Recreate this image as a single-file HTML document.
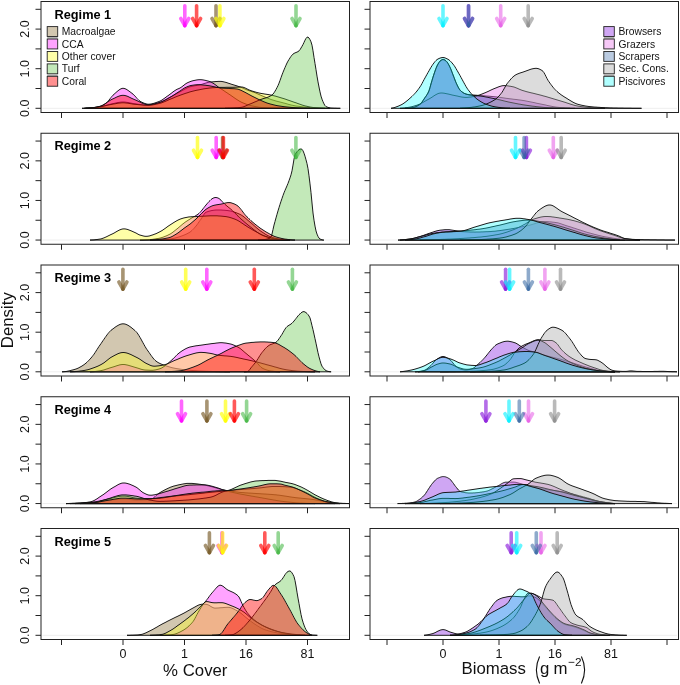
<!DOCTYPE html><html><head><meta charset="utf-8"><style>html,body{margin:0;padding:0;background:#fff;}svg{display:block;}text{font-family:"Liberation Sans",sans-serif;}svg{will-change:transform;}</style></head><body>
<svg width="680" height="685" viewBox="0 0 680 685">
<rect width="680" height="685" fill="#fff"/>
<line x1="42.50" y1="108.30" x2="348.00" y2="108.30" stroke="#eeeeee" stroke-width="1"/>
<path d="M84.0,108.3L84.0,108.3 85.0,108.3 86.0,108.3 87.0,108.2 88.0,108.2 89.0,108.1 90.0,108.0 91.0,107.9 92.0,107.8 93.0,107.7 94.0,107.6 95.0,107.5 96.0,107.3 97.0,107.2 98.0,107.1 99.0,106.9 100.0,106.8 101.0,106.6 102.0,106.4 103.0,106.2 104.0,105.9 105.0,105.7 106.0,105.4 107.0,105.1 108.0,104.8 109.0,104.5 110.0,104.3 111.0,104.0 112.0,103.8 113.0,103.6 114.0,103.4 115.0,103.2 116.0,102.9 117.0,102.7 118.0,102.5 119.0,102.4 120.0,102.2 121.0,102.1 122.0,102.0 123.0,102.0 124.0,102.0 125.0,102.1 126.0,102.2 127.0,102.4 128.0,102.5 129.0,102.7 130.0,102.9 131.0,103.1 132.0,103.3 133.0,103.5 134.0,103.7 135.0,103.8 136.0,103.9 137.0,104.1 138.0,104.2 139.0,104.4 140.0,104.5 141.0,104.7 142.0,104.8 143.0,105.0 144.0,105.1 145.0,105.2 146.0,105.2 147.0,105.3 148.0,105.3 149.0,105.3 150.0,105.2 151.0,105.0 152.0,104.8 153.0,104.6 154.0,104.3 155.0,104.0 156.0,103.7 157.0,103.3 158.0,103.0 159.0,102.6 160.0,102.3 161.0,101.9 162.0,101.5 163.0,101.1 164.0,100.6 165.0,100.0 166.0,99.5 167.0,98.9 168.0,98.4 169.0,97.8 170.0,97.3 171.0,96.8 172.0,96.2 173.0,95.7 174.0,95.1 175.0,94.5 176.0,94.0 177.0,93.4 178.0,92.9 179.0,92.3 180.0,91.8 181.0,91.3 182.0,90.7 183.0,90.1 184.0,89.6 185.0,89.0 186.0,88.5 187.0,88.0 188.0,87.5 189.0,87.1 190.0,86.8 191.0,86.5 192.0,86.3 193.0,86.1 194.0,85.9 195.0,85.7 196.0,85.6 197.0,85.4 198.0,85.2 199.0,85.0 200.0,84.8 201.0,84.5 202.0,84.3 203.0,83.9 204.0,83.6 205.0,83.3 206.0,83.0 207.0,82.7 208.0,82.4 209.0,82.2 210.0,82.1 211.0,82.0 212.0,81.9 213.0,81.8 214.0,81.7 215.0,81.6 216.0,81.5 217.0,81.5 218.0,81.4 219.0,81.4 220.0,81.4 221.0,81.4 222.0,81.5 223.0,81.7 224.0,81.9 225.0,82.2 226.0,82.4 227.0,82.7 228.0,83.1 229.0,83.4 230.0,83.7 231.0,84.1 232.0,84.4 233.0,84.7 234.0,85.0 235.0,85.3 236.0,85.6 237.0,85.9 238.0,86.3 239.0,86.6 240.0,86.9 241.0,87.3 242.0,87.7 243.0,88.1 244.0,88.6 245.0,89.0 246.0,89.5 247.0,89.9 248.0,90.3 249.0,90.7 250.0,91.0 251.0,91.3 252.0,91.7 253.0,92.0 254.0,92.3 255.0,92.7 256.0,93.1 257.0,93.6 258.0,94.0 259.0,94.5 260.0,94.9 261.0,95.4 262.0,95.8 263.0,96.2 264.0,96.6 265.0,97.1 266.0,97.5 267.0,97.9 268.0,98.3 269.0,98.7 270.0,99.1 271.0,99.5 272.0,99.8 273.0,100.1 274.0,100.4 275.0,100.7 276.0,101.0 277.0,101.3 278.0,101.5 279.0,101.8 280.0,102.0 281.0,102.3 282.0,102.5 283.0,102.8 284.0,103.1 285.0,103.3 286.0,103.6 287.0,103.9 288.0,104.2 289.0,104.5 290.0,104.7 291.0,105.0 292.0,105.2 293.0,105.4 294.0,105.6 295.0,105.8 296.0,106.0 297.0,106.1 298.0,106.2 299.0,106.4 300.0,106.5 301.0,106.6 302.0,106.8 303.0,106.9 304.0,107.0 305.0,107.1 306.0,107.2 307.0,107.3 308.0,107.3 309.0,107.4 310.0,107.5 311.0,107.6 312.0,107.6 313.0,107.7 314.0,107.8 315.0,107.8 316.0,107.9 317.0,108.0 318.0,108.0 319.0,108.1 320.0,108.1 321.0,108.2 322.0,108.2 323.0,108.2 324.0,108.3 325.0,108.3 325.0,108.3Z" fill="rgba(142,115,58,0.400)" stroke="#111" stroke-width="0.95" stroke-linejoin="round"/>
<path d="M82.0,108.3L82.0,108.3 83.0,108.3 84.0,108.3 85.0,108.3 86.0,108.2 87.0,108.2 88.0,108.2 89.0,108.1 90.0,108.1 91.0,108.0 92.0,107.9 93.0,107.9 94.0,107.8 95.0,107.7 96.0,107.6 97.0,107.4 98.0,107.1 99.0,106.8 100.0,106.4 101.0,106.0 102.0,105.6 103.0,105.1 104.0,104.5 105.0,104.0 106.0,103.3 107.0,102.4 108.0,101.3 109.0,100.1 110.0,98.8 111.0,97.5 112.0,96.3 113.0,95.2 114.0,94.3 115.0,93.4 116.0,92.5 117.0,91.6 118.0,90.8 119.0,90.0 120.0,89.3 121.0,88.8 122.0,88.4 123.0,88.3 124.0,88.4 125.0,88.7 126.0,89.1 127.0,89.7 128.0,90.4 129.0,91.1 130.0,91.8 131.0,92.6 132.0,93.3 133.0,94.1 134.0,95.1 135.0,96.1 136.0,97.2 137.0,98.4 138.0,99.4 139.0,100.4 140.0,101.2 141.0,101.8 142.0,102.3 143.0,102.7 144.0,103.2 145.0,103.5 146.0,103.8 147.0,104.1 148.0,104.2 149.0,104.2 150.0,104.1 151.0,104.0 152.0,103.8 153.0,103.5 154.0,103.3 155.0,102.9 156.0,102.6 157.0,102.2 158.0,101.9 159.0,101.5 160.0,101.1 161.0,100.6 162.0,100.0 163.0,99.3 164.0,98.6 165.0,97.9 166.0,97.1 167.0,96.4 168.0,95.7 169.0,95.0 170.0,94.2 171.0,93.5 172.0,92.7 173.0,91.9 174.0,91.2 175.0,90.5 176.0,89.9 177.0,89.3 178.0,88.9 179.0,88.5 180.0,88.0 181.0,87.4 182.0,86.7 183.0,85.9 184.0,85.1 185.0,84.3 186.0,83.6 187.0,83.0 188.0,82.5 189.0,82.1 190.0,81.7 191.0,81.3 192.0,81.0 193.0,80.7 194.0,80.5 195.0,80.3 196.0,80.1 197.0,79.9 198.0,79.8 199.0,79.7 200.0,79.7 201.0,79.7 202.0,79.8 203.0,79.9 204.0,80.1 205.0,80.3 206.0,80.5 207.0,80.8 208.0,81.0 209.0,81.3 210.0,81.6 211.0,82.0 212.0,82.6 213.0,83.2 214.0,83.8 215.0,84.5 216.0,85.2 217.0,86.0 218.0,86.8 219.0,87.5 220.0,88.1 221.0,88.8 222.0,89.5 223.0,90.1 224.0,90.8 225.0,91.5 226.0,92.2 227.0,92.8 228.0,93.5 229.0,94.2 230.0,94.8 231.0,95.5 232.0,96.2 233.0,96.9 234.0,97.6 235.0,98.3 236.0,99.0 237.0,99.6 238.0,100.3 239.0,100.9 240.0,101.5 241.0,102.0 242.0,102.5 243.0,102.9 244.0,103.3 245.0,103.7 246.0,104.1 247.0,104.5 248.0,104.8 249.0,105.1 250.0,105.4 251.0,105.6 252.0,105.9 253.0,106.1 254.0,106.3 255.0,106.5 256.0,106.7 257.0,106.8 258.0,107.0 259.0,107.2 260.0,107.3 261.0,107.4 262.0,107.6 263.0,107.7 264.0,107.7 265.0,107.8 266.0,107.9 267.0,107.9 268.0,108.0 269.0,108.0 270.0,108.1 271.0,108.1 272.0,108.1 273.0,108.2 274.0,108.2 275.0,108.2 276.0,108.3 277.0,108.3 278.0,108.3 279.0,108.3 280.0,108.3 280.0,108.3Z" fill="rgba(255,25,255,0.400)" stroke="#111" stroke-width="0.95" stroke-linejoin="round"/>
<path d="M86.0,108.3L86.0,108.3 87.0,108.2 88.0,108.2 89.0,108.1 90.0,108.0 91.0,107.9 92.0,107.8 93.0,107.7 94.0,107.6 95.0,107.5 96.0,107.3 97.0,107.2 98.0,107.1 99.0,106.9 100.0,106.8 101.0,106.6 102.0,106.5 103.0,106.3 104.0,106.0 105.0,105.8 106.0,105.6 107.0,105.3 108.0,105.1 109.0,104.9 110.0,104.7 111.0,104.5 112.0,104.3 113.0,104.1 114.0,103.9 115.0,103.8 116.0,103.6 117.0,103.4 118.0,103.2 119.0,103.1 120.0,103.0 121.0,102.9 122.0,102.8 123.0,102.8 124.0,102.8 125.0,102.9 126.0,103.0 127.0,103.1 128.0,103.2 129.0,103.4 130.0,103.6 131.0,103.7 132.0,103.9 133.0,104.1 134.0,104.2 135.0,104.3 136.0,104.4 137.0,104.5 138.0,104.6 139.0,104.7 140.0,104.8 141.0,104.9 142.0,105.0 143.0,105.1 144.0,105.2 145.0,105.2 146.0,105.3 147.0,105.3 148.0,105.3 149.0,105.3 150.0,105.2 151.0,105.1 152.0,105.0 153.0,104.8 154.0,104.7 155.0,104.5 156.0,104.2 157.0,104.0 158.0,103.8 159.0,103.5 160.0,103.3 161.0,103.0 162.0,102.7 163.0,102.3 164.0,101.9 165.0,101.5 166.0,101.1 167.0,100.6 168.0,100.2 169.0,99.7 170.0,99.3 171.0,98.9 172.0,98.5 173.0,98.1 174.0,97.7 175.0,97.2 176.0,96.8 177.0,96.4 178.0,96.0 179.0,95.7 180.0,95.3 181.0,94.9 182.0,94.6 183.0,94.2 184.0,93.9 185.0,93.5 186.0,93.2 187.0,92.9 188.0,92.6 189.0,92.2 190.0,91.9 191.0,91.6 192.0,91.4 193.0,91.1 194.0,90.9 195.0,90.6 196.0,90.4 197.0,90.2 198.0,90.0 199.0,89.8 200.0,89.6 201.0,89.4 202.0,89.2 203.0,89.0 204.0,88.8 205.0,88.7 206.0,88.5 207.0,88.4 208.0,88.3 209.0,88.1 210.0,88.0 211.0,87.9 212.0,87.8 213.0,87.7 214.0,87.7 215.0,87.6 216.0,87.5 217.0,87.5 218.0,87.4 219.0,87.4 220.0,87.4 221.0,87.4 222.0,87.4 223.0,87.4 224.0,87.4 225.0,87.4 226.0,87.3 227.0,87.3 228.0,87.3 229.0,87.3 230.0,87.3 231.0,87.3 232.0,87.3 233.0,87.3 234.0,87.3 235.0,87.2 236.0,87.2 237.0,87.1 238.0,87.1 239.0,87.1 240.0,87.0 241.0,87.0 242.0,87.0 243.0,87.2 244.0,87.5 245.0,87.9 246.0,88.4 247.0,88.9 248.0,89.4 249.0,89.9 250.0,90.3 251.0,90.6 252.0,91.0 253.0,91.3 254.0,91.6 255.0,91.9 256.0,92.2 257.0,92.5 258.0,92.7 259.0,93.0 260.0,93.2 261.0,93.4 262.0,93.6 263.0,93.7 264.0,93.9 265.0,94.1 266.0,94.2 267.0,94.4 268.0,94.5 269.0,94.7 270.0,94.9 271.0,95.1 272.0,95.3 273.0,95.5 274.0,95.8 275.0,96.0 276.0,96.3 277.0,96.6 278.0,96.9 279.0,97.2 280.0,97.5 281.0,97.8 282.0,98.1 283.0,98.4 284.0,98.7 285.0,99.0 286.0,99.4 287.0,99.7 288.0,100.1 289.0,100.4 290.0,100.8 291.0,101.1 292.0,101.5 293.0,101.8 294.0,102.2 295.0,102.5 296.0,102.8 297.0,103.2 298.0,103.6 299.0,103.9 300.0,104.3 301.0,104.6 302.0,105.0 303.0,105.3 304.0,105.6 305.0,105.9 306.0,106.1 307.0,106.3 308.0,106.6 309.0,106.8 310.0,107.0 311.0,107.2 312.0,107.3 313.0,107.5 314.0,107.6 315.0,107.7 316.0,107.8 317.0,107.8 318.0,107.9 319.0,108.0 320.0,108.0 321.0,108.1 322.0,108.1 323.0,108.2 324.0,108.2 325.0,108.2 326.0,108.2 327.0,108.3 328.0,108.3 329.0,108.3 330.0,108.3 330.0,108.3Z" fill="rgba(255,255,38,0.400)" stroke="#111" stroke-width="0.95" stroke-linejoin="round"/>
<path d="M225.0,108.3L225.0,108.3 226.0,108.3 227.0,108.3 228.0,108.2 229.0,108.2 230.0,108.2 231.0,108.1 232.0,108.1 233.0,108.0 234.0,108.0 235.0,107.9 236.0,107.8 237.0,107.8 238.0,107.7 239.0,107.6 240.0,107.5 241.0,107.4 242.0,107.2 243.0,107.0 244.0,106.6 245.0,106.2 246.0,105.8 247.0,105.3 248.0,104.9 249.0,104.4 250.0,104.0 251.0,103.6 252.0,103.2 253.0,102.8 254.0,102.3 255.0,101.9 256.0,101.5 257.0,101.1 258.0,100.6 259.0,100.2 260.0,99.8 261.0,99.4 262.0,99.1 263.0,98.7 264.0,98.4 265.0,98.1 266.0,97.8 267.0,97.5 268.0,97.1 269.0,96.7 270.0,96.2 271.0,95.6 272.0,95.0 273.0,94.1 274.0,92.8 275.0,91.2 276.0,89.5 277.0,87.6 278.0,85.6 279.0,83.2 280.0,80.5 281.0,77.7 282.0,74.9 283.0,72.3 284.0,69.9 285.0,67.5 286.0,65.2 287.0,63.0 288.0,61.1 289.0,59.5 290.0,57.9 291.0,56.4 292.0,55.1 293.0,54.1 294.0,53.4 295.0,52.9 296.0,52.5 297.0,52.1 298.0,51.6 299.0,50.9 300.0,49.7 301.0,48.0 302.0,46.3 303.0,44.5 304.0,42.4 305.0,40.2 306.0,38.4 307.0,37.2 308.0,37.1 309.0,38.0 310.0,39.7 311.0,41.8 312.0,45.2 313.0,50.8 314.0,57.4 315.0,63.5 316.0,69.7 317.0,76.1 318.0,81.9 319.0,87.0 320.0,91.9 321.0,96.1 322.0,99.2 323.0,101.7 324.0,103.9 325.0,105.6 326.0,106.6 327.0,107.0 328.0,107.4 329.0,107.7 330.0,107.9 331.0,108.0 332.0,108.1 333.0,108.1 334.0,108.2 335.0,108.2 336.0,108.2 337.0,108.3 338.0,108.3 339.0,108.3 340.0,108.3 340.3,108.3 340.3,108.3Z" fill="rgba(105,200,80,0.400)" stroke="#111" stroke-width="0.95" stroke-linejoin="round"/>
<path d="M85.0,108.3L85.0,108.3 86.0,108.3 87.0,108.3 88.0,108.2 89.0,108.1 90.0,108.0 91.0,107.9 92.0,107.8 93.0,107.6 94.0,107.5 95.0,107.3 96.0,107.1 97.0,106.9 98.0,106.7 99.0,106.5 100.0,106.3 101.0,106.0 102.0,105.6 103.0,105.1 104.0,104.5 105.0,103.8 106.0,103.1 107.0,102.4 108.0,101.7 109.0,101.0 110.0,100.4 111.0,99.8 112.0,99.3 113.0,98.8 114.0,98.4 115.0,97.9 116.0,97.4 117.0,96.9 118.0,96.5 119.0,96.1 120.0,95.8 121.0,95.5 122.0,95.4 123.0,95.3 124.0,95.4 125.0,95.5 126.0,95.8 127.0,96.1 128.0,96.5 129.0,97.0 130.0,97.5 131.0,98.0 132.0,98.5 133.0,98.9 134.0,99.4 135.0,99.8 136.0,100.2 137.0,100.7 138.0,101.1 139.0,101.6 140.0,102.1 141.0,102.6 142.0,103.1 143.0,103.5 144.0,103.9 145.0,104.2 146.0,104.5 147.0,104.6 148.0,104.7 149.0,104.7 150.0,104.6 151.0,104.5 152.0,104.3 153.0,104.1 154.0,103.9 155.0,103.7 156.0,103.4 157.0,103.2 158.0,102.9 159.0,102.6 160.0,102.3 161.0,102.0 162.0,101.6 163.0,101.1 164.0,100.7 165.0,100.1 166.0,99.6 167.0,99.0 168.0,98.4 169.0,97.9 170.0,97.3 171.0,96.7 172.0,96.1 173.0,95.5 174.0,94.9 175.0,94.2 176.0,93.6 177.0,92.9 178.0,92.3 179.0,91.6 180.0,91.0 181.0,90.3 182.0,89.6 183.0,88.9 184.0,88.3 185.0,87.7 186.0,87.3 187.0,86.8 188.0,86.4 189.0,86.1 190.0,85.7 191.0,85.5 192.0,85.3 193.0,85.2 194.0,85.0 195.0,84.9 196.0,84.8 197.0,84.7 198.0,84.7 199.0,84.7 200.0,84.7 201.0,84.8 202.0,84.9 203.0,85.0 204.0,85.1 205.0,85.2 206.0,85.3 207.0,85.5 208.0,85.6 209.0,85.7 210.0,85.9 211.0,86.1 212.0,86.3 213.0,86.5 214.0,86.7 215.0,86.9 216.0,87.2 217.0,87.3 218.0,87.5 219.0,87.7 220.0,87.9 221.0,88.0 222.0,88.1 223.0,88.2 224.0,88.2 225.0,88.3 226.0,88.3 227.0,88.4 228.0,88.4 229.0,88.4 230.0,88.5 231.0,88.6 232.0,88.6 233.0,88.7 234.0,88.7 235.0,88.8 236.0,88.9 237.0,89.0 238.0,89.2 239.0,89.5 240.0,89.9 241.0,90.3 242.0,90.8 243.0,91.3 244.0,91.8 245.0,92.3 246.0,92.8 247.0,93.4 248.0,93.9 249.0,94.5 250.0,95.0 251.0,95.6 252.0,96.1 253.0,96.6 254.0,97.1 255.0,97.6 256.0,98.1 257.0,98.6 258.0,99.1 259.0,99.6 260.0,100.0 261.0,100.5 262.0,100.9 263.0,101.4 264.0,101.8 265.0,102.2 266.0,102.6 267.0,103.0 268.0,103.3 269.0,103.6 270.0,103.9 271.0,104.2 272.0,104.4 273.0,104.7 274.0,104.9 275.0,105.2 276.0,105.4 277.0,105.6 278.0,105.8 279.0,105.9 280.0,106.1 281.0,106.2 282.0,106.4 283.0,106.5 284.0,106.7 285.0,106.8 286.0,106.9 287.0,107.0 288.0,107.1 289.0,107.2 290.0,107.3 291.0,107.4 292.0,107.5 293.0,107.6 294.0,107.6 295.0,107.7 296.0,107.8 297.0,107.8 298.0,107.9 299.0,107.9 300.0,108.0 301.0,108.0 302.0,108.1 303.0,108.1 304.0,108.2 305.0,108.2 306.0,108.2 307.0,108.3 308.0,108.3 309.0,108.3 310.0,108.3 310.0,108.3Z" fill="rgba(255,3,3,0.440)" stroke="#111" stroke-width="0.95" stroke-linejoin="round"/>
<rect x="41.00" y="1.50" width="308.50" height="111.00" fill="none" stroke="#222" stroke-width="1"/>
<line x1="35.50" y1="108.30" x2="41.00" y2="108.30" stroke="#222" stroke-width="1"/>
<line x1="35.50" y1="88.50" x2="41.00" y2="88.50" stroke="#222" stroke-width="1"/>
<line x1="35.50" y1="68.70" x2="41.00" y2="68.70" stroke="#222" stroke-width="1"/>
<line x1="35.50" y1="48.90" x2="41.00" y2="48.90" stroke="#222" stroke-width="1"/>
<line x1="35.50" y1="29.10" x2="41.00" y2="29.10" stroke="#222" stroke-width="1"/>
<line x1="35.50" y1="9.30" x2="41.00" y2="9.30" stroke="#222" stroke-width="1"/>
<text x="0" y="0" font-size="12.5" text-anchor="middle" transform="translate(28.8,108.30) rotate(-90)" fill="#111">0.0</text>
<text x="0" y="0" font-size="12.5" text-anchor="middle" transform="translate(28.8,68.70) rotate(-90)" fill="#111">1.0</text>
<text x="0" y="0" font-size="12.5" text-anchor="middle" transform="translate(28.8,29.10) rotate(-90)" fill="#111">2.0</text>
<line x1="61.50" y1="112.50" x2="61.50" y2="118.00" stroke="#222" stroke-width="1"/>
<line x1="123.00" y1="112.50" x2="123.00" y2="118.00" stroke="#222" stroke-width="1"/>
<line x1="184.50" y1="112.50" x2="184.50" y2="118.00" stroke="#222" stroke-width="1"/>
<line x1="246.00" y1="112.50" x2="246.00" y2="118.00" stroke="#222" stroke-width="1"/>
<line x1="307.50" y1="112.50" x2="307.50" y2="118.00" stroke="#222" stroke-width="1"/>
<line x1="371.50" y1="108.30" x2="677.00" y2="108.30" stroke="#eeeeee" stroke-width="1"/>
<path d="M405.0,108.3L405.0,108.3 406.0,108.3 407.0,108.2 408.0,108.2 409.0,108.1 410.0,107.9 411.0,107.8 412.0,107.7 413.0,107.5 414.0,107.3 415.0,107.0 416.0,106.6 417.0,106.1 418.0,105.6 419.0,105.0 420.0,104.3 421.0,103.4 422.0,102.1 423.0,100.6 424.0,99.1 425.0,97.6 426.0,96.2 427.0,94.7 428.0,93.0 429.0,90.8 430.0,87.6 431.0,83.9 432.0,80.5 433.0,77.2 434.0,74.1 435.0,71.2 436.0,68.4 437.0,66.0 438.0,64.1 439.0,62.4 440.0,61.1 441.0,60.4 442.0,59.9 443.0,59.7 444.0,59.9 445.0,60.4 446.0,61.2 447.0,62.2 448.0,63.7 449.0,65.5 450.0,67.5 451.0,69.8 452.0,72.4 453.0,75.0 454.0,77.6 455.0,80.2 456.0,82.7 457.0,84.9 458.0,86.9 459.0,88.7 460.0,90.1 461.0,91.1 462.0,91.9 463.0,92.7 464.0,93.3 465.0,93.7 466.0,94.0 467.0,94.3 468.0,94.5 469.0,94.7 470.0,94.8 471.0,94.9 472.0,95.0 473.0,95.1 474.0,95.1 475.0,95.2 476.0,95.2 477.0,95.3 478.0,95.4 479.0,95.4 480.0,95.5 481.0,95.6 482.0,95.7 483.0,95.7 484.0,95.8 485.0,95.9 486.0,96.0 487.0,96.1 488.0,96.1 489.0,96.2 490.0,96.3 491.0,96.4 492.0,96.5 493.0,96.6 494.0,96.7 495.0,96.8 496.0,96.9 497.0,97.0 498.0,97.1 499.0,97.3 500.0,97.4 501.0,97.5 502.0,97.7 503.0,97.8 504.0,98.0 505.0,98.1 506.0,98.3 507.0,98.4 508.0,98.5 509.0,98.7 510.0,98.8 511.0,98.9 512.0,99.0 513.0,99.2 514.0,99.3 515.0,99.4 516.0,99.5 517.0,99.6 518.0,99.8 519.0,99.9 520.0,100.0 521.0,100.2 522.0,100.3 523.0,100.5 524.0,100.6 525.0,100.8 526.0,101.0 527.0,101.2 528.0,101.4 529.0,101.6 530.0,101.8 531.0,102.0 532.0,102.2 533.0,102.4 534.0,102.6 535.0,102.8 536.0,103.1 537.0,103.3 538.0,103.5 539.0,103.7 540.0,103.9 541.0,104.1 542.0,104.3 543.0,104.5 544.0,104.7 545.0,104.9 546.0,105.1 547.0,105.4 548.0,105.6 549.0,105.8 550.0,106.0 551.0,106.2 552.0,106.4 553.0,106.6 554.0,106.8 555.0,106.9 556.0,107.1 557.0,107.2 558.0,107.3 559.0,107.4 560.0,107.5 561.0,107.6 562.0,107.7 563.0,107.7 564.0,107.8 565.0,107.9 566.0,108.0 567.0,108.0 568.0,108.1 569.0,108.1 570.0,108.2 571.0,108.2 572.0,108.3 573.0,108.3 574.0,108.3 575.0,108.3 575.0,108.3Z" fill="rgba(135,32,225,0.400)" stroke="#111" stroke-width="0.95" stroke-linejoin="round"/>
<path d="M400.0,108.3L400.0,108.3 401.0,108.3 402.0,108.2 403.0,108.1 404.0,108.0 405.0,107.9 406.0,107.7 407.0,107.6 408.0,107.4 409.0,107.3 410.0,107.1 411.0,106.9 412.0,106.7 413.0,106.4 414.0,106.1 415.0,105.8 416.0,105.5 417.0,105.2 418.0,104.8 419.0,104.4 420.0,104.0 421.0,103.5 422.0,102.9 423.0,102.4 424.0,101.8 425.0,101.2 426.0,100.6 427.0,100.1 428.0,99.5 429.0,99.0 430.0,98.4 431.0,97.8 432.0,97.2 433.0,96.5 434.0,95.8 435.0,95.2 436.0,94.6 437.0,94.1 438.0,93.6 439.0,93.3 440.0,93.1 441.0,93.0 442.0,93.0 443.0,93.1 444.0,93.2 445.0,93.4 446.0,93.6 447.0,93.8 448.0,94.0 449.0,94.2 450.0,94.5 451.0,94.7 452.0,95.0 453.0,95.2 454.0,95.4 455.0,95.6 456.0,95.8 457.0,96.0 458.0,96.2 459.0,96.5 460.0,96.7 461.0,96.9 462.0,97.1 463.0,97.2 464.0,97.3 465.0,97.4 466.0,97.4 467.0,97.4 468.0,97.3 469.0,97.2 470.0,97.1 471.0,97.0 472.0,96.8 473.0,96.6 474.0,96.5 475.0,96.3 476.0,96.1 477.0,95.8 478.0,95.5 479.0,95.2 480.0,94.8 481.0,94.4 482.0,94.0 483.0,93.6 484.0,93.2 485.0,92.8 486.0,92.4 487.0,91.9 488.0,91.5 489.0,91.0 490.0,90.5 491.0,90.0 492.0,89.6 493.0,89.1 494.0,88.7 495.0,88.3 496.0,87.9 497.0,87.5 498.0,87.1 499.0,86.7 500.0,86.4 501.0,86.1 502.0,85.8 503.0,85.7 504.0,85.6 505.0,85.6 506.0,85.7 507.0,85.8 508.0,85.9 509.0,86.1 510.0,86.2 511.0,86.4 512.0,86.6 513.0,86.8 514.0,87.0 515.0,87.4 516.0,87.8 517.0,88.2 518.0,88.6 519.0,89.1 520.0,89.5 521.0,89.9 522.0,90.3 523.0,90.6 524.0,90.9 525.0,91.2 526.0,91.5 527.0,91.8 528.0,92.0 529.0,92.3 530.0,92.5 531.0,92.8 532.0,93.0 533.0,93.2 534.0,93.5 535.0,93.7 536.0,94.0 537.0,94.2 538.0,94.5 539.0,94.7 540.0,95.0 541.0,95.2 542.0,95.5 543.0,95.8 544.0,96.1 545.0,96.3 546.0,96.6 547.0,96.9 548.0,97.2 549.0,97.5 550.0,97.8 551.0,98.1 552.0,98.4 553.0,98.7 554.0,99.0 555.0,99.3 556.0,99.6 557.0,99.9 558.0,100.2 559.0,100.5 560.0,100.8 561.0,101.1 562.0,101.4 563.0,101.7 564.0,102.0 565.0,102.3 566.0,102.6 567.0,103.0 568.0,103.3 569.0,103.6 570.0,104.0 571.0,104.3 572.0,104.6 573.0,104.9 574.0,105.2 575.0,105.5 576.0,105.7 577.0,105.9 578.0,106.1 579.0,106.3 580.0,106.4 581.0,106.6 582.0,106.7 583.0,106.8 584.0,106.9 585.0,107.1 586.0,107.2 587.0,107.3 588.0,107.4 589.0,107.4 590.0,107.5 591.0,107.6 592.0,107.7 593.0,107.7 594.0,107.8 595.0,107.9 596.0,107.9 597.0,108.0 598.0,108.0 599.0,108.1 600.0,108.1 601.0,108.2 602.0,108.2 603.0,108.2 604.0,108.3 605.0,108.3 605.0,108.3Z" fill="rgba(232,118,232,0.400)" stroke="#111" stroke-width="0.95" stroke-linejoin="round"/>
<path d="M405.0,108.3L405.0,108.3 406.0,108.3 407.0,108.2 408.0,108.2 409.0,108.1 410.0,107.9 411.0,107.8 412.0,107.7 413.0,107.5 414.0,107.3 415.0,107.0 416.0,106.6 417.0,106.1 418.0,105.6 419.0,105.0 420.0,104.3 421.0,103.4 422.0,102.1 423.0,100.6 424.0,99.1 425.0,97.6 426.0,96.2 427.0,94.7 428.0,93.0 429.0,90.8 430.0,87.6 431.0,83.9 432.0,80.5 433.0,77.2 434.0,74.1 435.0,71.2 436.0,68.4 437.0,66.0 438.0,64.1 439.0,62.5 440.0,61.1 441.0,60.3 442.0,59.7 443.0,59.3 444.0,59.5 445.0,60.0 446.0,60.8 447.0,61.8 448.0,63.3 449.0,65.1 450.0,67.1 451.0,69.4 452.0,72.1 453.0,74.7 454.0,77.3 455.0,80.0 456.0,82.5 457.0,84.7 458.0,86.8 459.0,88.6 460.0,90.1 461.0,91.1 462.0,91.9 463.0,92.6 464.0,93.2 465.0,93.7 466.0,94.1 467.0,94.4 468.0,94.6 469.0,94.8 470.0,95.0 471.0,95.1 472.0,95.3 473.0,95.4 474.0,95.4 475.0,95.5 476.0,95.6 477.0,95.7 478.0,95.8 479.0,95.9 480.0,96.0 481.0,96.1 482.0,96.3 483.0,96.4 484.0,96.6 485.0,96.8 486.0,97.0 487.0,97.2 488.0,97.3 489.0,97.6 490.0,97.8 491.0,98.0 492.0,98.2 493.0,98.4 494.0,98.6 495.0,98.8 496.0,99.0 497.0,99.2 498.0,99.5 499.0,99.7 500.0,99.9 501.0,100.2 502.0,100.4 503.0,100.7 504.0,100.9 505.0,101.2 506.0,101.4 507.0,101.6 508.0,101.9 509.0,102.1 510.0,102.3 511.0,102.5 512.0,102.7 513.0,102.9 514.0,103.1 515.0,103.3 516.0,103.5 517.0,103.7 518.0,103.9 519.0,104.1 520.0,104.2 521.0,104.4 522.0,104.6 523.0,104.8 524.0,104.9 525.0,105.1 526.0,105.2 527.0,105.4 528.0,105.5 529.0,105.7 530.0,105.8 531.0,105.9 532.0,106.1 533.0,106.2 534.0,106.3 535.0,106.4 536.0,106.6 537.0,106.7 538.0,106.8 539.0,106.9 540.0,107.0 541.0,107.1 542.0,107.2 543.0,107.3 544.0,107.4 545.0,107.5 546.0,107.6 547.0,107.6 548.0,107.7 549.0,107.8 550.0,107.8 551.0,107.8 552.0,107.9 553.0,107.9 554.0,108.0 555.0,108.0 556.0,108.0 557.0,108.1 558.0,108.1 559.0,108.1 560.0,108.1 561.0,108.2 562.0,108.2 563.0,108.2 564.0,108.2 565.0,108.3 566.0,108.3 567.0,108.3 568.0,108.3 569.0,108.3 570.0,108.3 570.0,108.3Z" fill="rgba(82,125,180,0.400)" stroke="#111" stroke-width="0.95" stroke-linejoin="round"/>
<path d="M460.0,108.3L460.0,108.3 461.0,108.3 462.0,108.2 463.0,108.1 464.0,108.1 465.0,108.0 466.0,107.9 467.0,107.8 468.0,107.7 469.0,107.6 470.0,107.5 471.0,107.4 472.0,107.3 473.0,107.1 474.0,107.0 475.0,106.9 476.0,106.7 477.0,106.5 478.0,106.3 479.0,106.1 480.0,105.9 481.0,105.7 482.0,105.5 483.0,105.2 484.0,104.9 485.0,104.5 486.0,104.2 487.0,103.8 488.0,103.3 489.0,102.9 490.0,102.4 491.0,101.9 492.0,101.4 493.0,100.8 494.0,100.2 495.0,99.6 496.0,98.9 497.0,98.0 498.0,97.1 499.0,96.0 500.0,94.9 501.0,93.6 502.0,92.3 503.0,90.7 504.0,88.9 505.0,87.1 506.0,85.4 507.0,83.8 508.0,82.5 509.0,81.3 510.0,80.1 511.0,78.9 512.0,77.8 513.0,76.9 514.0,76.0 515.0,75.3 516.0,74.7 517.0,74.2 518.0,73.8 519.0,73.4 520.0,73.0 521.0,72.7 522.0,72.4 523.0,72.1 524.0,71.7 525.0,71.4 526.0,71.0 527.0,70.6 528.0,70.3 529.0,69.9 530.0,69.5 531.0,69.2 532.0,68.9 533.0,68.7 534.0,68.5 535.0,68.4 536.0,68.3 537.0,68.4 538.0,68.6 539.0,68.9 540.0,69.4 541.0,69.9 542.0,70.5 543.0,71.3 544.0,72.7 545.0,74.5 546.0,76.5 547.0,78.5 548.0,80.3 549.0,81.8 550.0,83.2 551.0,84.6 552.0,85.9 553.0,87.2 554.0,88.4 555.0,89.5 556.0,90.5 557.0,91.5 558.0,92.3 559.0,93.2 560.0,93.9 561.0,94.7 562.0,95.4 563.0,96.0 564.0,96.7 565.0,97.3 566.0,97.9 567.0,98.5 568.0,99.2 569.0,99.8 570.0,100.4 571.0,101.0 572.0,101.6 573.0,102.2 574.0,102.7 575.0,103.2 576.0,103.6 577.0,104.0 578.0,104.3 579.0,104.6 580.0,104.8 581.0,105.1 582.0,105.3 583.0,105.5 584.0,105.7 585.0,105.9 586.0,106.1 587.0,106.2 588.0,106.4 589.0,106.5 590.0,106.6 591.0,106.7 592.0,106.8 593.0,106.9 594.0,107.0 595.0,107.1 596.0,107.1 597.0,107.2 598.0,107.3 599.0,107.3 600.0,107.4 601.0,107.5 602.0,107.5 603.0,107.6 604.0,107.6 605.0,107.7 606.0,107.7 607.0,107.7 608.0,107.8 609.0,107.8 610.0,107.9 611.0,107.9 612.0,107.9 613.0,108.0 614.0,108.0 615.0,108.0 616.0,108.0 617.0,108.0 618.0,108.1 619.0,108.1 620.0,108.1 621.0,108.1 622.0,108.1 623.0,108.1 624.0,108.2 625.0,108.2 626.0,108.2 627.0,108.2 628.0,108.2 629.0,108.2 630.0,108.2 631.0,108.2 632.0,108.3 633.0,108.3 634.0,108.3 635.0,108.3 636.0,108.3 637.0,108.3 638.0,108.3 639.0,108.3 640.0,108.3 641.0,108.3 641.5,108.3 641.5,108.3Z" fill="rgba(168,168,168,0.400)" stroke="#111" stroke-width="0.95" stroke-linejoin="round"/>
<path d="M391.0,108.3L391.0,108.3 392.0,108.1 393.0,107.9 394.0,107.7 395.0,107.4 396.0,107.0 397.0,106.6 398.0,106.3 399.0,105.8 400.0,105.4 401.0,104.9 402.0,104.4 403.0,103.8 404.0,103.1 405.0,102.4 406.0,101.6 407.0,100.8 408.0,100.0 409.0,99.1 410.0,98.2 411.0,97.3 412.0,96.4 413.0,95.4 414.0,94.4 415.0,93.3 416.0,92.2 417.0,91.0 418.0,89.7 419.0,88.3 420.0,86.9 421.0,85.3 422.0,83.5 423.0,81.6 424.0,79.7 425.0,77.9 426.0,76.1 427.0,74.3 428.0,72.5 429.0,70.8 430.0,69.0 431.0,67.3 432.0,65.7 433.0,64.2 434.0,62.9 435.0,61.6 436.0,60.5 437.0,59.6 438.0,59.0 439.0,58.5 440.0,58.1 441.0,57.8 442.0,57.6 443.0,57.5 444.0,57.6 445.0,57.9 446.0,58.3 447.0,58.8 448.0,59.3 449.0,59.9 450.0,60.8 451.0,61.8 452.0,62.9 453.0,64.1 454.0,65.4 455.0,66.9 456.0,68.6 457.0,70.3 458.0,72.0 459.0,73.8 460.0,75.5 461.0,77.4 462.0,79.2 463.0,81.1 464.0,82.9 465.0,84.7 466.0,86.5 467.0,88.1 468.0,89.6 469.0,90.9 470.0,92.1 471.0,93.3 472.0,94.4 473.0,95.4 474.0,96.4 475.0,97.3 476.0,98.2 477.0,99.1 478.0,99.8 479.0,100.5 480.0,101.1 481.0,101.8 482.0,102.3 483.0,102.9 484.0,103.4 485.0,103.8 486.0,104.2 487.0,104.6 488.0,104.9 489.0,105.3 490.0,105.6 491.0,105.9 492.0,106.2 493.0,106.4 494.0,106.6 495.0,106.8 496.0,107.0 497.0,107.1 498.0,107.3 499.0,107.4 500.0,107.5 501.0,107.7 502.0,107.8 503.0,107.9 504.0,108.0 505.0,108.1 506.0,108.2 507.0,108.2 508.0,108.3 509.0,108.3 510.0,108.3 510.0,108.3Z" fill="rgba(0,255,255,0.310)" stroke="#111" stroke-width="0.95" stroke-linejoin="round"/>
<rect x="370.00" y="1.50" width="308.50" height="111.00" fill="none" stroke="#222" stroke-width="1"/>
<line x1="364.50" y1="108.30" x2="370.00" y2="108.30" stroke="#222" stroke-width="1"/>
<line x1="364.50" y1="88.50" x2="370.00" y2="88.50" stroke="#222" stroke-width="1"/>
<line x1="364.50" y1="68.70" x2="370.00" y2="68.70" stroke="#222" stroke-width="1"/>
<line x1="364.50" y1="48.90" x2="370.00" y2="48.90" stroke="#222" stroke-width="1"/>
<line x1="364.50" y1="29.10" x2="370.00" y2="29.10" stroke="#222" stroke-width="1"/>
<line x1="364.50" y1="9.30" x2="370.00" y2="9.30" stroke="#222" stroke-width="1"/>
<line x1="387.00" y1="112.50" x2="387.00" y2="118.00" stroke="#222" stroke-width="1"/>
<line x1="443.00" y1="112.50" x2="443.00" y2="118.00" stroke="#222" stroke-width="1"/>
<line x1="499.00" y1="112.50" x2="499.00" y2="118.00" stroke="#222" stroke-width="1"/>
<line x1="555.00" y1="112.50" x2="555.00" y2="118.00" stroke="#222" stroke-width="1"/>
<line x1="611.00" y1="112.50" x2="611.00" y2="118.00" stroke="#222" stroke-width="1"/>
<line x1="667.00" y1="112.50" x2="667.00" y2="118.00" stroke="#222" stroke-width="1"/>
<g stroke="rgba(120,90,40,0.65)" stroke-width="3.6" stroke-linecap="round"><line x1="216.00" y1="5.80" x2="216.00" y2="25.60"/><line x1="212.00" y1="18.50" x2="216.00" y2="25.60"/><line x1="220.00" y1="18.50" x2="216.00" y2="25.60"/></g>
<g stroke="rgba(255,0,255,0.6)" stroke-width="3.6" stroke-linecap="round"><line x1="184.80" y1="5.80" x2="184.80" y2="25.60"/><line x1="180.80" y1="18.50" x2="184.80" y2="25.60"/><line x1="188.80" y1="18.50" x2="184.80" y2="25.60"/></g>
<g stroke="rgba(255,255,0,0.65)" stroke-width="3.6" stroke-linecap="round"><line x1="219.90" y1="5.80" x2="219.90" y2="25.60"/><line x1="215.90" y1="18.50" x2="219.90" y2="25.60"/><line x1="223.90" y1="18.50" x2="219.90" y2="25.60"/></g>
<g stroke="rgba(60,180,60,0.55)" stroke-width="3.6" stroke-linecap="round"><line x1="296.00" y1="5.80" x2="296.00" y2="25.60"/><line x1="292.00" y1="18.50" x2="296.00" y2="25.60"/><line x1="300.00" y1="18.50" x2="296.00" y2="25.60"/></g>
<g stroke="rgba(255,0,0,0.65)" stroke-width="3.6" stroke-linecap="round"><line x1="196.60" y1="5.80" x2="196.60" y2="25.60"/><line x1="192.60" y1="18.50" x2="196.60" y2="25.60"/><line x1="200.60" y1="18.50" x2="196.60" y2="25.60"/></g>
<g stroke="rgba(140,30,220,0.65)" stroke-width="3.6" stroke-linecap="round"><line x1="468.50" y1="5.80" x2="468.50" y2="25.60"/><line x1="464.50" y1="18.50" x2="468.50" y2="25.60"/><line x1="472.50" y1="18.50" x2="468.50" y2="25.60"/></g>
<g stroke="rgba(230,90,230,0.55)" stroke-width="3.6" stroke-linecap="round"><line x1="500.70" y1="5.80" x2="500.70" y2="25.60"/><line x1="496.70" y1="18.50" x2="500.70" y2="25.60"/><line x1="504.70" y1="18.50" x2="500.70" y2="25.60"/></g>
<g stroke="rgba(50,100,160,0.55)" stroke-width="3.6" stroke-linecap="round"><line x1="468.60" y1="5.80" x2="468.60" y2="25.60"/><line x1="464.60" y1="18.50" x2="468.60" y2="25.60"/><line x1="472.60" y1="18.50" x2="468.60" y2="25.60"/></g>
<g stroke="rgba(140,140,140,0.6)" stroke-width="3.6" stroke-linecap="round"><line x1="528.20" y1="5.80" x2="528.20" y2="25.60"/><line x1="524.20" y1="18.50" x2="528.20" y2="25.60"/><line x1="532.20" y1="18.50" x2="528.20" y2="25.60"/></g>
<g stroke="rgba(0,240,255,0.6)" stroke-width="3.6" stroke-linecap="round"><line x1="443.00" y1="5.80" x2="443.00" y2="25.60"/><line x1="439.00" y1="18.50" x2="443.00" y2="25.60"/><line x1="447.00" y1="18.50" x2="443.00" y2="25.60"/></g>
<text x="54.5" y="18.55" font-size="12.75" font-weight="bold" fill="#000">Regime 1</text>
<line x1="42.50" y1="240.05" x2="348.00" y2="240.05" stroke="#eeeeee" stroke-width="1"/>
<path d="M160.0,240.1L160.0,240.1 161.0,240.0 162.0,240.0 163.0,239.9 164.0,239.8 165.0,239.7 166.0,239.6 167.0,239.5 168.0,239.3 169.0,239.2 170.0,239.1 171.0,238.9 172.0,238.7 173.0,238.5 174.0,238.3 175.0,238.0 176.0,237.8 177.0,237.5 178.0,237.2 179.0,236.9 180.0,236.6 181.0,236.2 182.0,235.9 183.0,235.5 184.0,235.1 185.0,234.7 186.0,234.2 187.0,233.8 188.0,233.2 189.0,232.7 190.0,232.1 191.0,231.3 192.0,230.4 193.0,229.4 194.0,228.4 195.0,227.2 196.0,226.1 197.0,224.8 198.0,223.4 199.0,221.9 200.0,220.5 201.0,219.1 202.0,217.5 203.0,215.9 204.0,214.3 205.0,213.0 206.0,212.2 207.0,211.9 208.0,211.5 209.0,211.2 210.0,211.0 211.0,210.7 212.0,210.5 213.0,210.4 214.0,210.2 215.0,210.1 216.0,210.0 217.0,210.0 218.0,210.0 219.0,210.0 220.0,210.0 221.0,210.0 222.0,210.1 223.0,210.2 224.0,210.2 225.0,210.3 226.0,210.4 227.0,210.5 228.0,210.6 229.0,210.8 230.0,210.9 231.0,211.1 232.0,211.4 233.0,211.7 234.0,212.0 235.0,212.3 236.0,212.7 237.0,213.1 238.0,213.5 239.0,213.9 240.0,214.4 241.0,214.9 242.0,215.5 243.0,216.2 244.0,216.9 245.0,217.8 246.0,218.6 247.0,219.5 248.0,220.4 249.0,221.2 250.0,222.1 251.0,222.9 252.0,223.7 253.0,224.6 254.0,225.5 255.0,226.4 256.0,227.3 257.0,228.2 258.0,229.0 259.0,229.8 260.0,230.6 261.0,231.3 262.0,232.0 263.0,232.6 264.0,233.3 265.0,234.0 266.0,234.6 267.0,235.1 268.0,235.7 269.0,236.1 270.0,236.6 271.0,236.9 272.0,237.3 273.0,237.6 274.0,237.9 275.0,238.2 276.0,238.5 277.0,238.7 278.0,238.9 279.0,239.1 280.0,239.2 281.0,239.4 282.0,239.5 283.0,239.6 284.0,239.7 285.0,239.8 286.0,239.9 287.0,240.0 288.0,240.0 289.0,240.0 290.0,240.1 290.0,240.1Z" fill="rgba(142,115,58,0.400)" stroke="#111" stroke-width="0.95" stroke-linejoin="round"/>
<path d="M140.0,240.1L140.0,240.1 141.0,240.0 142.0,240.0 143.0,240.0 144.0,239.9 145.0,239.9 146.0,239.8 147.0,239.8 148.0,239.7 149.0,239.6 150.0,239.6 151.0,239.5 152.0,239.4 153.0,239.3 154.0,239.1 155.0,239.0 156.0,238.8 157.0,238.6 158.0,238.5 159.0,238.3 160.0,238.1 161.0,237.8 162.0,237.5 163.0,237.2 164.0,236.8 165.0,236.4 166.0,236.0 167.0,235.6 168.0,235.1 169.0,234.6 170.0,234.1 171.0,233.5 172.0,232.8 173.0,232.1 174.0,231.3 175.0,230.5 176.0,229.7 177.0,228.9 178.0,228.1 179.0,227.2 180.0,226.4 181.0,225.5 182.0,224.7 183.0,223.8 184.0,223.1 185.0,222.3 186.0,221.6 187.0,221.0 188.0,220.3 189.0,219.7 190.0,219.1 191.0,218.4 192.0,217.8 193.0,217.3 194.0,216.7 195.0,216.2 196.0,215.5 197.0,214.9 198.0,214.2 199.0,213.4 200.0,212.4 201.0,211.3 202.0,210.1 203.0,208.8 204.0,207.5 205.0,206.2 206.0,205.0 207.0,203.8 208.0,202.7 209.0,201.5 210.0,200.6 211.0,199.6 212.0,198.8 213.0,198.2 214.0,197.8 215.0,197.5 216.0,197.5 217.0,197.7 218.0,198.0 219.0,198.5 220.0,199.3 221.0,200.2 222.0,201.3 223.0,202.4 224.0,203.4 225.0,204.4 226.0,205.2 227.0,206.1 228.0,206.9 229.0,207.7 230.0,208.5 231.0,209.3 232.0,210.2 233.0,211.2 234.0,212.1 235.0,213.1 236.0,214.1 237.0,215.2 238.0,216.1 239.0,217.1 240.0,218.1 241.0,219.0 242.0,219.9 243.0,220.7 244.0,221.6 245.0,222.5 246.0,223.3 247.0,224.2 248.0,225.0 249.0,225.8 250.0,226.6 251.0,227.4 252.0,228.1 253.0,229.0 254.0,229.8 255.0,230.6 256.0,231.3 257.0,232.1 258.0,232.8 259.0,233.5 260.0,234.1 261.0,234.7 262.0,235.2 263.0,235.6 264.0,236.0 265.0,236.4 266.0,236.8 267.0,237.1 268.0,237.5 269.0,237.8 270.0,238.1 271.0,238.3 272.0,238.6 273.0,238.8 274.0,238.9 275.0,239.1 276.0,239.2 277.0,239.3 278.0,239.4 279.0,239.5 280.0,239.6 281.0,239.6 282.0,239.7 283.0,239.8 284.0,239.9 285.0,239.9 286.0,240.0 287.0,240.0 288.0,240.0 289.0,240.0 290.0,240.1 290.0,240.1Z" fill="rgba(255,25,255,0.400)" stroke="#111" stroke-width="0.95" stroke-linejoin="round"/>
<path d="M90.0,240.1L90.0,240.1 91.0,240.0 92.0,240.0 93.0,239.9 94.0,239.9 95.0,239.7 96.0,239.6 97.0,239.5 98.0,239.4 99.0,239.2 100.0,239.1 101.0,238.9 102.0,238.6 103.0,238.2 104.0,237.9 105.0,237.4 106.0,237.0 107.0,236.5 108.0,236.0 109.0,235.5 110.0,235.0 111.0,234.5 112.0,234.1 113.0,233.6 114.0,233.1 115.0,232.5 116.0,231.9 117.0,231.3 118.0,230.8 119.0,230.2 120.0,229.8 121.0,229.4 122.0,229.1 123.0,228.9 124.0,228.9 125.0,228.9 126.0,229.1 127.0,229.3 128.0,229.6 129.0,230.0 130.0,230.4 131.0,230.8 132.0,231.2 133.0,231.7 134.0,232.1 135.0,232.6 136.0,233.0 137.0,233.6 138.0,234.2 139.0,234.7 140.0,235.1 141.0,235.3 142.0,235.6 143.0,235.9 144.0,236.1 145.0,236.3 146.0,236.3 147.0,236.3 148.0,236.2 149.0,236.0 150.0,235.8 151.0,235.4 152.0,235.1 153.0,234.8 154.0,234.4 155.0,234.0 156.0,233.7 157.0,233.2 158.0,232.7 159.0,232.2 160.0,231.7 161.0,231.1 162.0,230.6 163.0,229.9 164.0,229.2 165.0,228.5 166.0,227.8 167.0,227.0 168.0,226.3 169.0,225.6 170.0,225.0 171.0,224.3 172.0,223.7 173.0,223.0 174.0,222.4 175.0,221.8 176.0,221.2 177.0,220.6 178.0,220.1 179.0,219.6 180.0,219.2 181.0,218.8 182.0,218.5 183.0,218.2 184.0,217.9 185.0,217.7 186.0,217.5 187.0,217.3 188.0,217.1 189.0,216.9 190.0,216.9 191.0,216.8 192.0,216.7 193.0,216.7 194.0,216.6 195.0,216.6 196.0,216.6 197.0,216.5 198.0,216.4 199.0,216.4 200.0,216.3 201.0,216.3 202.0,216.2 203.0,216.2 204.0,216.1 205.0,216.1 206.0,216.0 207.0,216.0 208.0,215.9 209.0,215.9 210.0,215.8 211.0,215.8 212.0,215.8 213.0,215.8 214.0,215.8 215.0,215.8 216.0,215.8 217.0,215.8 218.0,215.9 219.0,216.0 220.0,216.0 221.0,216.1 222.0,216.2 223.0,216.3 224.0,216.4 225.0,216.5 226.0,216.6 227.0,216.8 228.0,217.0 229.0,217.2 230.0,217.5 231.0,217.8 232.0,218.1 233.0,218.5 234.0,218.8 235.0,219.2 236.0,219.6 237.0,220.1 238.0,220.6 239.0,221.2 240.0,221.8 241.0,222.5 242.0,223.2 243.0,223.8 244.0,224.5 245.0,225.2 246.0,225.8 247.0,226.5 248.0,227.1 249.0,227.7 250.0,228.3 251.0,228.9 252.0,229.5 253.0,230.1 254.0,230.6 255.0,231.2 256.0,231.7 257.0,232.3 258.0,232.8 259.0,233.4 260.0,233.9 261.0,234.4 262.0,234.9 263.0,235.4 264.0,235.8 265.0,236.1 266.0,236.5 267.0,236.8 268.0,237.1 269.0,237.5 270.0,237.8 271.0,238.0 272.0,238.3 273.0,238.5 274.0,238.7 275.0,238.9 276.0,239.0 277.0,239.1 278.0,239.3 279.0,239.4 280.0,239.5 281.0,239.6 282.0,239.7 283.0,239.8 284.0,239.9 285.0,240.0 286.0,240.0 287.0,240.0 288.0,240.1 288.0,240.1Z" fill="rgba(255,255,38,0.400)" stroke="#111" stroke-width="0.95" stroke-linejoin="round"/>
<path d="M258.0,240.1L258.0,240.1 259.0,240.0 260.0,240.0 261.0,239.9 262.0,239.8 263.0,239.7 264.0,239.6 265.0,239.5 266.0,239.3 267.0,239.1 268.0,238.8 269.0,238.5 270.0,238.0 271.0,237.1 272.0,234.0 273.0,229.5 274.0,225.1 275.0,221.5 276.0,217.9 277.0,214.3 278.0,210.9 279.0,207.6 280.0,204.4 281.0,201.3 282.0,198.4 283.0,195.5 284.0,192.8 285.0,190.4 286.0,188.1 287.0,185.8 288.0,183.4 289.0,180.7 290.0,177.9 291.0,174.8 292.0,170.8 293.0,165.1 294.0,159.1 295.0,154.8 296.0,153.1 297.0,151.7 298.0,150.6 299.0,149.8 300.0,149.2 301.0,149.0 302.0,149.3 303.0,150.8 304.0,153.2 305.0,156.2 306.0,159.8 307.0,163.6 308.0,168.7 309.0,175.8 310.0,183.9 311.0,192.6 312.0,203.0 313.0,213.0 314.0,220.2 315.0,226.1 316.0,230.9 317.0,234.1 318.0,236.4 319.0,238.1 320.0,239.0 321.0,239.4 322.0,239.8 323.0,240.0 323.9,240.1 323.9,240.1Z" fill="rgba(105,200,80,0.400)" stroke="#111" stroke-width="0.95" stroke-linejoin="round"/>
<path d="M150.0,240.1L150.0,240.1 151.0,240.0 152.0,240.0 153.0,239.9 154.0,239.8 155.0,239.8 156.0,239.7 157.0,239.6 158.0,239.5 159.0,239.4 160.0,239.2 161.0,239.1 162.0,239.0 163.0,238.9 164.0,238.7 165.0,238.5 166.0,238.3 167.0,238.1 168.0,237.9 169.0,237.7 170.0,237.4 171.0,237.0 172.0,236.5 173.0,236.0 174.0,235.4 175.0,234.8 176.0,234.2 177.0,233.6 178.0,232.9 179.0,232.2 180.0,231.4 181.0,230.6 182.0,229.9 183.0,229.1 184.0,228.3 185.0,227.6 186.0,226.9 187.0,226.2 188.0,225.5 189.0,224.8 190.0,224.1 191.0,223.3 192.0,222.4 193.0,221.6 194.0,220.7 195.0,219.9 196.0,219.0 197.0,218.0 198.0,217.0 199.0,216.0 200.0,215.0 201.0,214.1 202.0,213.1 203.0,212.0 204.0,211.0 205.0,210.1 206.0,209.3 207.0,208.6 208.0,208.0 209.0,207.4 210.0,206.9 211.0,206.4 212.0,205.9 213.0,205.6 214.0,205.3 215.0,205.1 216.0,204.9 217.0,204.7 218.0,204.6 219.0,204.4 220.0,204.3 221.0,204.1 222.0,203.9 223.0,203.7 224.0,203.4 225.0,203.1 226.0,202.9 227.0,202.7 228.0,202.6 229.0,202.6 230.0,202.6 231.0,202.8 232.0,203.1 233.0,203.5 234.0,203.8 235.0,204.3 236.0,204.8 237.0,205.4 238.0,206.1 239.0,207.1 240.0,208.2 241.0,209.4 242.0,210.7 243.0,212.1 244.0,213.4 245.0,214.7 246.0,215.8 247.0,216.9 248.0,217.8 249.0,218.8 250.0,219.7 251.0,220.7 252.0,221.6 253.0,222.4 254.0,223.3 255.0,224.1 256.0,224.9 257.0,225.7 258.0,226.5 259.0,227.2 260.0,228.0 261.0,228.7 262.0,229.3 263.0,230.0 264.0,230.6 265.0,231.3 266.0,231.9 267.0,232.5 268.0,233.0 269.0,233.6 270.0,234.2 271.0,234.7 272.0,235.3 273.0,235.7 274.0,236.2 275.0,236.6 276.0,236.9 277.0,237.2 278.0,237.5 279.0,237.8 280.0,238.0 281.0,238.3 282.0,238.5 283.0,238.7 284.0,238.9 285.0,239.1 286.0,239.2 287.0,239.3 288.0,239.5 289.0,239.6 290.0,239.7 291.0,239.8 292.0,239.9 293.0,240.0 294.0,240.0 295.0,240.1 295.0,240.1Z" fill="rgba(255,3,3,0.440)" stroke="#111" stroke-width="0.95" stroke-linejoin="round"/>
<rect x="41.00" y="133.25" width="308.50" height="111.00" fill="none" stroke="#222" stroke-width="1"/>
<line x1="35.50" y1="240.05" x2="41.00" y2="240.05" stroke="#222" stroke-width="1"/>
<line x1="35.50" y1="220.25" x2="41.00" y2="220.25" stroke="#222" stroke-width="1"/>
<line x1="35.50" y1="200.45" x2="41.00" y2="200.45" stroke="#222" stroke-width="1"/>
<line x1="35.50" y1="180.65" x2="41.00" y2="180.65" stroke="#222" stroke-width="1"/>
<line x1="35.50" y1="160.85" x2="41.00" y2="160.85" stroke="#222" stroke-width="1"/>
<line x1="35.50" y1="141.05" x2="41.00" y2="141.05" stroke="#222" stroke-width="1"/>
<text x="0" y="0" font-size="12.5" text-anchor="middle" transform="translate(28.8,240.05) rotate(-90)" fill="#111">0.0</text>
<text x="0" y="0" font-size="12.5" text-anchor="middle" transform="translate(28.8,200.45) rotate(-90)" fill="#111">1.0</text>
<text x="0" y="0" font-size="12.5" text-anchor="middle" transform="translate(28.8,160.85) rotate(-90)" fill="#111">2.0</text>
<line x1="61.50" y1="244.25" x2="61.50" y2="249.75" stroke="#222" stroke-width="1"/>
<line x1="123.00" y1="244.25" x2="123.00" y2="249.75" stroke="#222" stroke-width="1"/>
<line x1="184.50" y1="244.25" x2="184.50" y2="249.75" stroke="#222" stroke-width="1"/>
<line x1="246.00" y1="244.25" x2="246.00" y2="249.75" stroke="#222" stroke-width="1"/>
<line x1="307.50" y1="244.25" x2="307.50" y2="249.75" stroke="#222" stroke-width="1"/>
<line x1="371.50" y1="240.05" x2="677.00" y2="240.05" stroke="#eeeeee" stroke-width="1"/>
<path d="M398.0,240.1L398.0,240.1 399.0,240.0 400.0,240.0 401.0,240.0 402.0,239.9 403.0,239.8 404.0,239.7 405.0,239.6 406.0,239.5 407.0,239.4 408.0,239.3 409.0,239.2 410.0,239.1 411.0,238.9 412.0,238.7 413.0,238.5 414.0,238.3 415.0,238.0 416.0,237.7 417.0,237.4 418.0,237.1 419.0,236.8 420.0,236.6 421.0,236.2 422.0,235.9 423.0,235.6 424.0,235.2 425.0,234.8 426.0,234.5 427.0,234.1 428.0,233.7 429.0,233.4 430.0,233.1 431.0,232.7 432.0,232.4 433.0,232.1 434.0,231.7 435.0,231.4 436.0,231.1 437.0,230.8 438.0,230.6 439.0,230.4 440.0,230.2 441.0,230.1 442.0,230.0 443.0,229.9 444.0,229.8 445.0,229.7 446.0,229.7 447.0,229.7 448.0,229.7 449.0,229.7 450.0,229.8 451.0,230.0 452.0,230.1 453.0,230.3 454.0,230.4 455.0,230.6 456.0,230.7 457.0,230.9 458.0,231.0 459.0,231.2 460.0,231.3 461.0,231.5 462.0,231.6 463.0,231.6 464.0,231.7 465.0,231.7 466.0,231.8 467.0,231.8 468.0,231.9 469.0,231.9 470.0,232.0 471.0,232.0 472.0,232.0 473.0,232.0 474.0,232.0 475.0,232.1 476.0,232.0 477.0,232.0 478.0,232.0 479.0,232.0 480.0,232.0 481.0,231.9 482.0,231.9 483.0,231.9 484.0,231.8 485.0,231.8 486.0,231.7 487.0,231.7 488.0,231.7 489.0,231.6 490.0,231.6 491.0,231.5 492.0,231.4 493.0,231.3 494.0,231.3 495.0,231.2 496.0,231.1 497.0,230.9 498.0,230.8 499.0,230.7 500.0,230.6 501.0,230.4 502.0,230.3 503.0,230.1 504.0,230.0 505.0,229.8 506.0,229.7 507.0,229.5 508.0,229.4 509.0,229.2 510.0,229.1 511.0,228.9 512.0,228.7 513.0,228.6 514.0,228.4 515.0,228.2 516.0,228.0 517.0,227.8 518.0,227.6 519.0,227.4 520.0,227.2 521.0,227.0 522.0,226.8 523.0,226.6 524.0,226.4 525.0,226.2 526.0,225.9 527.0,225.7 528.0,225.5 529.0,225.3 530.0,225.1 531.0,224.8 532.0,224.5 533.0,224.2 534.0,223.9 535.0,223.6 536.0,223.2 537.0,222.9 538.0,222.6 539.0,222.3 540.0,222.1 541.0,221.9 542.0,221.7 543.0,221.6 544.0,221.6 545.0,221.6 546.0,221.6 547.0,221.6 548.0,221.7 549.0,221.8 550.0,221.9 551.0,221.9 552.0,222.1 553.0,222.2 554.0,222.3 555.0,222.4 556.0,222.6 557.0,222.7 558.0,222.9 559.0,223.2 560.0,223.5 561.0,223.8 562.0,224.2 563.0,224.5 564.0,224.9 565.0,225.2 566.0,225.6 567.0,225.9 568.0,226.2 569.0,226.5 570.0,226.8 571.0,227.1 572.0,227.4 573.0,227.8 574.0,228.1 575.0,228.4 576.0,228.7 577.0,229.1 578.0,229.4 579.0,229.7 580.0,230.0 581.0,230.4 582.0,230.7 583.0,231.0 584.0,231.3 585.0,231.7 586.0,232.0 587.0,232.3 588.0,232.6 589.0,232.8 590.0,233.1 591.0,233.4 592.0,233.7 593.0,233.9 594.0,234.2 595.0,234.5 596.0,234.7 597.0,235.0 598.0,235.2 599.0,235.5 600.0,235.7 601.0,235.9 602.0,236.2 603.0,236.4 604.0,236.6 605.0,236.8 606.0,237.0 607.0,237.1 608.0,237.3 609.0,237.5 610.0,237.7 611.0,237.8 612.0,238.0 613.0,238.2 614.0,238.3 615.0,238.5 616.0,238.6 617.0,238.8 618.0,238.9 619.0,239.0 620.0,239.1 621.0,239.2 622.0,239.3 623.0,239.4 624.0,239.5 625.0,239.6 626.0,239.6 627.0,239.7 628.0,239.7 629.0,239.8 630.0,239.8 631.0,239.8 632.0,239.9 633.0,239.9 634.0,239.9 635.0,240.0 636.0,240.0 637.0,240.0 638.0,240.0 639.0,240.0 640.0,240.1 640.0,240.1Z" fill="rgba(135,32,225,0.400)" stroke="#111" stroke-width="0.95" stroke-linejoin="round"/>
<path d="M420.0,240.1L420.0,240.1 421.0,240.0 422.0,240.0 423.0,240.0 424.0,240.0 425.0,239.9 426.0,239.9 427.0,239.9 428.0,239.9 429.0,239.8 430.0,239.8 431.0,239.8 432.0,239.8 433.0,239.7 434.0,239.7 435.0,239.7 436.0,239.6 437.0,239.6 438.0,239.5 439.0,239.5 440.0,239.5 441.0,239.4 442.0,239.4 443.0,239.3 444.0,239.3 445.0,239.3 446.0,239.2 447.0,239.2 448.0,239.1 449.0,239.1 450.0,239.1 451.0,239.0 452.0,239.0 453.0,238.9 454.0,238.9 455.0,238.8 456.0,238.8 457.0,238.7 458.0,238.7 459.0,238.6 460.0,238.5 461.0,238.5 462.0,238.4 463.0,238.4 464.0,238.3 465.0,238.2 466.0,238.2 467.0,238.1 468.0,238.0 469.0,238.0 470.0,237.9 471.0,237.8 472.0,237.7 473.0,237.7 474.0,237.6 475.0,237.5 476.0,237.4 477.0,237.3 478.0,237.2 479.0,237.1 480.0,237.1 481.0,237.0 482.0,236.9 483.0,236.7 484.0,236.6 485.0,236.5 486.0,236.4 487.0,236.3 488.0,236.1 489.0,236.0 490.0,235.8 491.0,235.7 492.0,235.5 493.0,235.4 494.0,235.2 495.0,235.0 496.0,234.8 497.0,234.7 498.0,234.5 499.0,234.3 500.0,234.1 501.0,233.8 502.0,233.6 503.0,233.3 504.0,233.0 505.0,232.7 506.0,232.4 507.0,232.1 508.0,231.7 509.0,231.4 510.0,231.0 511.0,230.6 512.0,230.2 513.0,229.9 514.0,229.5 515.0,229.1 516.0,228.6 517.0,228.2 518.0,227.7 519.0,227.2 520.0,226.7 521.0,226.2 522.0,225.7 523.0,225.1 524.0,224.6 525.0,224.1 526.0,223.5 527.0,222.8 528.0,222.2 529.0,221.5 530.0,220.8 531.0,220.3 532.0,219.7 533.0,219.4 534.0,219.0 535.0,218.7 536.0,218.4 537.0,218.1 538.0,217.8 539.0,217.5 540.0,217.3 541.0,217.0 542.0,216.9 543.0,216.7 544.0,216.6 545.0,216.5 546.0,216.5 547.0,216.5 548.0,216.5 549.0,216.6 550.0,216.6 551.0,216.7 552.0,216.9 553.0,217.0 554.0,217.1 555.0,217.3 556.0,217.4 557.0,217.6 558.0,217.7 559.0,217.9 560.0,218.1 561.0,218.2 562.0,218.4 563.0,218.5 564.0,218.7 565.0,218.9 566.0,219.0 567.0,219.2 568.0,219.4 569.0,219.6 570.0,219.8 571.0,220.0 572.0,220.3 573.0,220.5 574.0,220.7 575.0,221.0 576.0,221.3 577.0,221.6 578.0,221.8 579.0,222.2 580.0,222.5 581.0,222.8 582.0,223.1 583.0,223.5 584.0,223.8 585.0,224.2 586.0,224.6 587.0,225.0 588.0,225.4 589.0,225.8 590.0,226.3 591.0,226.8 592.0,227.2 593.0,227.7 594.0,228.1 595.0,228.6 596.0,229.0 597.0,229.4 598.0,229.8 599.0,230.2 600.0,230.6 601.0,231.0 602.0,231.3 603.0,231.7 604.0,232.0 605.0,232.3 606.0,232.7 607.0,233.0 608.0,233.3 609.0,233.6 610.0,234.0 611.0,234.3 612.0,234.6 613.0,234.9 614.0,235.2 615.0,235.6 616.0,235.9 617.0,236.3 618.0,236.7 619.0,237.0 620.0,237.3 621.0,237.6 622.0,237.9 623.0,238.2 624.0,238.4 625.0,238.6 626.0,238.7 627.0,238.9 628.0,239.0 629.0,239.1 630.0,239.3 631.0,239.4 632.0,239.5 633.0,239.6 634.0,239.7 635.0,239.8 636.0,239.9 637.0,240.0 638.0,240.0 639.0,240.0 640.0,240.1 640.0,240.1Z" fill="rgba(232,118,232,0.400)" stroke="#111" stroke-width="0.95" stroke-linejoin="round"/>
<path d="M400.0,240.1L400.0,240.1 401.0,240.0 402.0,239.9 403.0,239.8 404.0,239.7 405.0,239.6 406.0,239.5 407.0,239.3 408.0,239.2 409.0,239.0 410.0,238.9 411.0,238.7 412.0,238.6 413.0,238.4 414.0,238.2 415.0,237.9 416.0,237.7 417.0,237.4 418.0,237.1 419.0,236.9 420.0,236.6 421.0,236.3 422.0,236.1 423.0,235.8 424.0,235.5 425.0,235.3 426.0,235.0 427.0,234.7 428.0,234.4 429.0,234.2 430.0,234.0 431.0,233.7 432.0,233.6 433.0,233.4 434.0,233.2 435.0,233.0 436.0,232.9 437.0,232.7 438.0,232.6 439.0,232.5 440.0,232.4 441.0,232.2 442.0,232.1 443.0,232.1 444.0,232.0 445.0,231.9 446.0,231.8 447.0,231.8 448.0,231.7 449.0,231.7 450.0,231.6 451.0,231.6 452.0,231.5 453.0,231.5 454.0,231.4 455.0,231.4 456.0,231.3 457.0,231.2 458.0,231.2 459.0,231.1 460.0,231.1 461.0,231.0 462.0,230.9 463.0,230.8 464.0,230.7 465.0,230.7 466.0,230.6 467.0,230.5 468.0,230.4 469.0,230.3 470.0,230.2 471.0,230.1 472.0,230.0 473.0,229.9 474.0,229.8 475.0,229.7 476.0,229.6 477.0,229.4 478.0,229.3 479.0,229.2 480.0,229.1 481.0,228.9 482.0,228.8 483.0,228.6 484.0,228.4 485.0,228.3 486.0,228.1 487.0,227.9 488.0,227.7 489.0,227.5 490.0,227.3 491.0,227.0 492.0,226.8 493.0,226.6 494.0,226.4 495.0,226.2 496.0,225.9 497.0,225.7 498.0,225.5 499.0,225.3 500.0,225.1 501.0,224.8 502.0,224.6 503.0,224.3 504.0,224.1 505.0,223.8 506.0,223.6 507.0,223.3 508.0,223.0 509.0,222.8 510.0,222.5 511.0,222.3 512.0,222.1 513.0,221.9 514.0,221.7 515.0,221.6 516.0,221.4 517.0,221.2 518.0,221.1 519.0,220.9 520.0,220.8 521.0,220.7 522.0,220.5 523.0,220.4 524.0,220.3 525.0,220.2 526.0,220.1 527.0,220.1 528.0,220.1 529.0,220.1 530.0,220.1 531.0,220.2 532.0,220.2 533.0,220.4 534.0,220.5 535.0,220.7 536.0,220.8 537.0,221.0 538.0,221.2 539.0,221.4 540.0,221.6 541.0,221.7 542.0,221.9 543.0,222.1 544.0,222.3 545.0,222.5 546.0,222.7 547.0,222.9 548.0,223.1 549.0,223.4 550.0,223.6 551.0,223.8 552.0,224.1 553.0,224.3 554.0,224.5 555.0,224.8 556.0,225.1 557.0,225.3 558.0,225.6 559.0,225.9 560.0,226.2 561.0,226.5 562.0,226.8 563.0,227.1 564.0,227.3 565.0,227.7 566.0,228.0 567.0,228.3 568.0,228.6 569.0,228.9 570.0,229.3 571.0,229.6 572.0,229.9 573.0,230.2 574.0,230.6 575.0,230.9 576.0,231.2 577.0,231.5 578.0,231.9 579.0,232.2 580.0,232.5 581.0,232.9 582.0,233.2 583.0,233.5 584.0,233.8 585.0,234.1 586.0,234.3 587.0,234.6 588.0,234.8 589.0,235.1 590.0,235.3 591.0,235.5 592.0,235.7 593.0,235.9 594.0,236.2 595.0,236.4 596.0,236.6 597.0,236.7 598.0,236.9 599.0,237.1 600.0,237.3 601.0,237.5 602.0,237.7 603.0,237.8 604.0,238.0 605.0,238.2 606.0,238.3 607.0,238.5 608.0,238.6 609.0,238.7 610.0,238.9 611.0,239.0 612.0,239.1 613.0,239.2 614.0,239.3 615.0,239.4 616.0,239.5 617.0,239.5 618.0,239.6 619.0,239.7 620.0,239.8 621.0,239.8 622.0,239.9 623.0,240.0 624.0,240.0 625.0,240.1 625.0,240.1Z" fill="rgba(82,125,180,0.400)" stroke="#111" stroke-width="0.95" stroke-linejoin="round"/>
<path d="M460.0,240.1L460.0,240.1 461.0,240.0 462.0,240.0 463.0,240.0 464.0,240.0 465.0,240.0 466.0,240.0 467.0,240.0 468.0,239.9 469.0,239.9 470.0,239.9 471.0,239.9 472.0,239.8 473.0,239.8 474.0,239.8 475.0,239.7 476.0,239.7 477.0,239.7 478.0,239.6 479.0,239.6 480.0,239.6 481.0,239.5 482.0,239.5 483.0,239.4 484.0,239.4 485.0,239.3 486.0,239.3 487.0,239.2 488.0,239.1 489.0,239.1 490.0,239.0 491.0,238.9 492.0,238.9 493.0,238.8 494.0,238.7 495.0,238.6 496.0,238.5 497.0,238.4 498.0,238.3 499.0,238.2 500.0,238.1 501.0,237.9 502.0,237.8 503.0,237.6 504.0,237.4 505.0,237.2 506.0,237.0 507.0,236.7 508.0,236.4 509.0,236.1 510.0,235.8 511.0,235.5 512.0,235.2 513.0,234.8 514.0,234.4 515.0,234.1 516.0,233.6 517.0,233.1 518.0,232.5 519.0,231.9 520.0,231.2 521.0,230.5 522.0,229.7 523.0,228.8 524.0,228.0 525.0,227.1 526.0,226.0 527.0,224.7 528.0,223.3 529.0,221.9 530.0,220.5 531.0,219.2 532.0,218.0 533.0,216.7 534.0,215.4 535.0,214.1 536.0,212.9 537.0,211.8 538.0,210.9 539.0,210.2 540.0,209.4 541.0,208.7 542.0,208.0 543.0,207.4 544.0,206.8 545.0,206.2 546.0,205.8 547.0,205.4 548.0,205.1 549.0,205.0 550.0,205.0 551.0,205.1 552.0,205.4 553.0,205.8 554.0,206.4 555.0,207.0 556.0,207.7 557.0,208.4 558.0,209.1 559.0,209.8 560.0,210.5 561.0,211.1 562.0,211.7 563.0,212.2 564.0,212.7 565.0,213.2 566.0,213.7 567.0,214.2 568.0,214.7 569.0,215.2 570.0,215.7 571.0,216.2 572.0,216.7 573.0,217.3 574.0,217.8 575.0,218.3 576.0,218.8 577.0,219.3 578.0,219.8 579.0,220.3 580.0,220.8 581.0,221.4 582.0,221.9 583.0,222.4 584.0,222.9 585.0,223.3 586.0,223.8 587.0,224.3 588.0,224.8 589.0,225.2 590.0,225.7 591.0,226.1 592.0,226.5 593.0,227.0 594.0,227.4 595.0,227.8 596.0,228.2 597.0,228.6 598.0,229.0 599.0,229.4 600.0,229.8 601.0,230.2 602.0,230.5 603.0,230.9 604.0,231.2 605.0,231.5 606.0,231.8 607.0,232.1 608.0,232.4 609.0,232.7 610.0,233.1 611.0,233.4 612.0,233.7 613.0,234.0 614.0,234.3 615.0,234.6 616.0,235.0 617.0,235.3 618.0,235.7 619.0,236.1 620.0,236.5 621.0,237.0 622.0,237.5 623.0,238.0 624.0,238.3 625.0,238.6 626.0,238.7 627.0,238.8 628.0,238.9 629.0,239.1 630.0,239.1 631.0,239.2 632.0,239.3 633.0,239.4 634.0,239.4 635.0,239.5 636.0,239.5 637.0,239.5 638.0,239.5 639.0,239.6 640.0,239.6 641.0,239.6 642.0,239.6 643.0,239.6 644.0,239.7 645.0,239.7 646.0,239.7 647.0,239.7 648.0,239.7 649.0,239.7 650.0,239.8 651.0,239.8 652.0,239.8 653.0,239.8 654.0,239.8 655.0,239.8 656.0,239.8 657.0,239.9 658.0,239.9 659.0,239.9 660.0,239.9 661.0,239.9 662.0,239.9 663.0,239.9 664.0,239.9 665.0,240.0 666.0,240.0 667.0,240.0 668.0,240.0 669.0,240.0 670.0,240.0 671.0,240.0 672.0,240.0 673.0,240.0 674.0,240.0 675.0,240.1 675.0,240.1Z" fill="rgba(168,168,168,0.400)" stroke="#111" stroke-width="0.95" stroke-linejoin="round"/>
<path d="M405.0,240.1L405.0,240.1 406.0,240.0 407.0,240.0 408.0,239.9 409.0,239.8 410.0,239.7 411.0,239.6 412.0,239.5 413.0,239.3 414.0,239.2 415.0,239.1 416.0,238.9 417.0,238.7 418.0,238.5 419.0,238.2 420.0,238.0 421.0,237.7 422.0,237.4 423.0,237.1 424.0,236.8 425.0,236.6 426.0,236.3 427.0,236.0 428.0,235.6 429.0,235.3 430.0,235.0 431.0,234.6 432.0,234.3 433.0,234.0 434.0,233.8 435.0,233.6 436.0,233.3 437.0,233.1 438.0,233.0 439.0,232.8 440.0,232.6 441.0,232.5 442.0,232.3 443.0,232.2 444.0,232.2 445.0,232.1 446.0,232.0 447.0,232.0 448.0,232.0 449.0,231.9 450.0,231.9 451.0,231.8 452.0,231.8 453.0,231.7 454.0,231.6 455.0,231.6 456.0,231.5 457.0,231.5 458.0,231.4 459.0,231.3 460.0,231.2 461.0,231.1 462.0,231.0 463.0,230.8 464.0,230.6 465.0,230.3 466.0,230.0 467.0,229.7 468.0,229.4 469.0,229.0 470.0,228.7 471.0,228.3 472.0,228.0 473.0,227.6 474.0,227.3 475.0,227.0 476.0,226.7 477.0,226.4 478.0,226.1 479.0,225.8 480.0,225.5 481.0,225.2 482.0,224.9 483.0,224.6 484.0,224.3 485.0,224.0 486.0,223.7 487.0,223.4 488.0,223.2 489.0,222.9 490.0,222.7 491.0,222.5 492.0,222.3 493.0,222.1 494.0,221.9 495.0,221.7 496.0,221.5 497.0,221.3 498.0,221.2 499.0,221.0 500.0,220.8 501.0,220.6 502.0,220.5 503.0,220.3 504.0,220.2 505.0,220.0 506.0,219.8 507.0,219.7 508.0,219.5 509.0,219.3 510.0,219.1 511.0,218.9 512.0,218.8 513.0,218.6 514.0,218.5 515.0,218.4 516.0,218.3 517.0,218.3 518.0,218.3 519.0,218.3 520.0,218.3 521.0,218.4 522.0,218.5 523.0,218.7 524.0,218.8 525.0,218.9 526.0,219.1 527.0,219.3 528.0,219.4 529.0,219.6 530.0,219.8 531.0,220.0 532.0,220.3 533.0,220.5 534.0,220.8 535.0,221.1 536.0,221.4 537.0,221.7 538.0,222.0 539.0,222.3 540.0,222.6 541.0,222.8 542.0,223.1 543.0,223.3 544.0,223.6 545.0,223.9 546.0,224.1 547.0,224.4 548.0,224.7 549.0,224.9 550.0,225.2 551.0,225.5 552.0,225.8 553.0,226.0 554.0,226.3 555.0,226.6 556.0,226.9 557.0,227.2 558.0,227.5 559.0,227.8 560.0,228.1 561.0,228.4 562.0,228.7 563.0,229.1 564.0,229.4 565.0,229.7 566.0,230.0 567.0,230.3 568.0,230.6 569.0,230.9 570.0,231.2 571.0,231.5 572.0,231.8 573.0,232.1 574.0,232.4 575.0,232.6 576.0,233.0 577.0,233.3 578.0,233.6 579.0,233.9 580.0,234.2 581.0,234.5 582.0,234.8 583.0,235.0 584.0,235.3 585.0,235.6 586.0,235.8 587.0,236.0 588.0,236.3 589.0,236.5 590.0,236.7 591.0,237.0 592.0,237.2 593.0,237.4 594.0,237.5 595.0,237.7 596.0,237.9 597.0,238.0 598.0,238.1 599.0,238.2 600.0,238.3 601.0,238.4 602.0,238.5 603.0,238.6 604.0,238.7 605.0,238.8 606.0,238.9 607.0,239.0 608.0,239.1 609.0,239.2 610.0,239.2 611.0,239.3 612.0,239.4 613.0,239.5 614.0,239.6 615.0,239.7 616.0,239.8 617.0,239.8 618.0,239.9 619.0,240.0 620.0,240.1 620.0,240.1Z" fill="rgba(0,255,255,0.310)" stroke="#111" stroke-width="0.95" stroke-linejoin="round"/>
<rect x="370.00" y="133.25" width="308.50" height="111.00" fill="none" stroke="#222" stroke-width="1"/>
<line x1="364.50" y1="240.05" x2="370.00" y2="240.05" stroke="#222" stroke-width="1"/>
<line x1="364.50" y1="220.25" x2="370.00" y2="220.25" stroke="#222" stroke-width="1"/>
<line x1="364.50" y1="200.45" x2="370.00" y2="200.45" stroke="#222" stroke-width="1"/>
<line x1="364.50" y1="180.65" x2="370.00" y2="180.65" stroke="#222" stroke-width="1"/>
<line x1="364.50" y1="160.85" x2="370.00" y2="160.85" stroke="#222" stroke-width="1"/>
<line x1="364.50" y1="141.05" x2="370.00" y2="141.05" stroke="#222" stroke-width="1"/>
<line x1="387.00" y1="244.25" x2="387.00" y2="249.75" stroke="#222" stroke-width="1"/>
<line x1="443.00" y1="244.25" x2="443.00" y2="249.75" stroke="#222" stroke-width="1"/>
<line x1="499.00" y1="244.25" x2="499.00" y2="249.75" stroke="#222" stroke-width="1"/>
<line x1="555.00" y1="244.25" x2="555.00" y2="249.75" stroke="#222" stroke-width="1"/>
<line x1="611.00" y1="244.25" x2="611.00" y2="249.75" stroke="#222" stroke-width="1"/>
<line x1="667.00" y1="244.25" x2="667.00" y2="249.75" stroke="#222" stroke-width="1"/>
<g stroke="rgba(120,90,40,0.65)" stroke-width="3.6" stroke-linecap="round"><line x1="222.60" y1="137.55" x2="222.60" y2="157.35"/><line x1="218.60" y1="150.25" x2="222.60" y2="157.35"/><line x1="226.60" y1="150.25" x2="222.60" y2="157.35"/></g>
<g stroke="rgba(255,0,255,0.6)" stroke-width="3.6" stroke-linecap="round"><line x1="216.20" y1="137.55" x2="216.20" y2="157.35"/><line x1="212.20" y1="150.25" x2="216.20" y2="157.35"/><line x1="220.20" y1="150.25" x2="216.20" y2="157.35"/></g>
<g stroke="rgba(255,255,0,0.65)" stroke-width="3.6" stroke-linecap="round"><line x1="197.50" y1="137.55" x2="197.50" y2="157.35"/><line x1="193.50" y1="150.25" x2="197.50" y2="157.35"/><line x1="201.50" y1="150.25" x2="197.50" y2="157.35"/></g>
<g stroke="rgba(60,180,60,0.55)" stroke-width="3.6" stroke-linecap="round"><line x1="295.90" y1="137.55" x2="295.90" y2="157.35"/><line x1="291.90" y1="150.25" x2="295.90" y2="157.35"/><line x1="299.90" y1="150.25" x2="295.90" y2="157.35"/></g>
<g stroke="rgba(255,0,0,0.65)" stroke-width="3.6" stroke-linecap="round"><line x1="223.40" y1="137.55" x2="223.40" y2="157.35"/><line x1="219.40" y1="150.25" x2="223.40" y2="157.35"/><line x1="227.40" y1="150.25" x2="223.40" y2="157.35"/></g>
<g stroke="rgba(140,30,220,0.65)" stroke-width="3.6" stroke-linecap="round"><line x1="526.40" y1="137.55" x2="526.40" y2="157.35"/><line x1="522.40" y1="150.25" x2="526.40" y2="157.35"/><line x1="530.40" y1="150.25" x2="526.40" y2="157.35"/></g>
<g stroke="rgba(230,90,230,0.55)" stroke-width="3.6" stroke-linecap="round"><line x1="553.30" y1="137.55" x2="553.30" y2="157.35"/><line x1="549.30" y1="150.25" x2="553.30" y2="157.35"/><line x1="557.30" y1="150.25" x2="553.30" y2="157.35"/></g>
<g stroke="rgba(50,100,160,0.55)" stroke-width="3.6" stroke-linecap="round"><line x1="524.10" y1="137.55" x2="524.10" y2="157.35"/><line x1="520.10" y1="150.25" x2="524.10" y2="157.35"/><line x1="528.10" y1="150.25" x2="524.10" y2="157.35"/></g>
<g stroke="rgba(140,140,140,0.6)" stroke-width="3.6" stroke-linecap="round"><line x1="561.20" y1="137.55" x2="561.20" y2="157.35"/><line x1="557.20" y1="150.25" x2="561.20" y2="157.35"/><line x1="565.20" y1="150.25" x2="561.20" y2="157.35"/></g>
<g stroke="rgba(0,240,255,0.6)" stroke-width="3.6" stroke-linecap="round"><line x1="515.50" y1="137.55" x2="515.50" y2="157.35"/><line x1="511.50" y1="150.25" x2="515.50" y2="157.35"/><line x1="519.50" y1="150.25" x2="515.50" y2="157.35"/></g>
<text x="54.5" y="150.29" font-size="12.75" font-weight="bold" fill="#000">Regime 2</text>
<line x1="42.50" y1="371.80" x2="348.00" y2="371.80" stroke="#eeeeee" stroke-width="1"/>
<path d="M62.0,371.8L62.0,371.8 63.0,371.8 64.0,371.7 65.0,371.6 66.0,371.5 67.0,371.3 68.0,371.1 69.0,370.9 70.0,370.7 71.0,370.4 72.0,370.1 73.0,369.9 74.0,369.6 75.0,369.3 76.0,369.0 77.0,368.6 78.0,368.2 79.0,367.7 80.0,367.1 81.0,366.6 82.0,366.0 83.0,365.3 84.0,364.7 85.0,363.9 86.0,363.1 87.0,362.2 88.0,361.2 89.0,360.2 90.0,359.1 91.0,358.0 92.0,356.8 93.0,355.5 94.0,354.2 95.0,352.7 96.0,351.1 97.0,349.5 98.0,348.0 99.0,346.4 100.0,345.0 101.0,343.6 102.0,342.1 103.0,340.6 104.0,339.2 105.0,337.7 106.0,336.3 107.0,334.9 108.0,333.6 109.0,332.4 110.0,331.3 111.0,330.3 112.0,329.6 113.0,328.8 114.0,328.1 115.0,327.3 116.0,326.6 117.0,326.0 118.0,325.4 119.0,324.9 120.0,324.4 121.0,324.1 122.0,323.9 123.0,323.8 124.0,323.9 125.0,324.0 126.0,324.4 127.0,324.8 128.0,325.3 129.0,325.9 130.0,326.6 131.0,327.3 132.0,328.1 133.0,328.9 134.0,329.8 135.0,330.6 136.0,331.6 137.0,332.7 138.0,334.1 139.0,335.7 140.0,337.4 141.0,339.1 142.0,341.0 143.0,342.8 144.0,344.6 145.0,346.4 146.0,348.1 147.0,349.6 148.0,351.0 149.0,352.4 150.0,353.9 151.0,355.3 152.0,356.7 153.0,358.0 154.0,359.2 155.0,360.2 156.0,361.1 157.0,361.8 158.0,362.5 159.0,363.0 160.0,363.5 161.0,364.0 162.0,364.4 163.0,364.8 164.0,365.2 165.0,365.5 166.0,365.9 167.0,366.2 168.0,366.5 169.0,366.8 170.0,367.1 171.0,367.4 172.0,367.7 173.0,367.9 174.0,368.1 175.0,368.3 176.0,368.5 177.0,368.7 178.0,368.8 179.0,369.0 180.0,369.1 181.0,369.3 182.0,369.4 183.0,369.6 184.0,369.7 185.0,369.8 186.0,369.9 187.0,370.0 188.0,370.1 189.0,370.2 190.0,370.3 191.0,370.4 192.0,370.5 193.0,370.5 194.0,370.6 195.0,370.7 196.0,370.7 197.0,370.8 198.0,370.9 199.0,370.9 200.0,371.0 201.0,371.0 202.0,371.1 203.0,371.1 204.0,371.2 205.0,371.2 206.0,371.3 207.0,371.3 208.0,371.3 209.0,371.4 210.0,371.4 211.0,371.4 212.0,371.5 213.0,371.5 214.0,371.5 215.0,371.5 216.0,371.6 217.0,371.6 218.0,371.6 219.0,371.6 220.0,371.7 221.0,371.7 222.0,371.7 223.0,371.7 224.0,371.7 225.0,371.8 226.0,371.8 227.0,371.8 228.0,371.8 229.0,371.8 230.0,371.8 230.0,371.8Z" fill="rgba(142,115,58,0.400)" stroke="#111" stroke-width="0.95" stroke-linejoin="round"/>
<path d="M90.0,371.8L90.0,371.8 91.0,371.8 92.0,371.7 93.0,371.7 94.0,371.6 95.0,371.5 96.0,371.4 97.0,371.2 98.0,371.1 99.0,370.9 100.0,370.8 101.0,370.6 102.0,370.4 103.0,370.2 104.0,369.9 105.0,369.6 106.0,369.2 107.0,368.9 108.0,368.6 109.0,368.2 110.0,367.9 111.0,367.6 112.0,367.3 113.0,367.0 114.0,366.7 115.0,366.4 116.0,366.0 117.0,365.7 118.0,365.4 119.0,365.1 120.0,364.8 121.0,364.7 122.0,364.5 123.0,364.5 124.0,364.5 125.0,364.6 126.0,364.8 127.0,365.0 128.0,365.2 129.0,365.5 130.0,365.8 131.0,366.1 132.0,366.4 133.0,366.7 134.0,367.0 135.0,367.3 136.0,367.6 137.0,367.9 138.0,368.2 139.0,368.5 140.0,368.9 141.0,369.2 142.0,369.5 143.0,369.7 144.0,369.9 145.0,370.0 146.0,370.1 147.0,370.1 148.0,370.2 149.0,370.2 150.0,370.3 151.0,370.3 152.0,370.3 153.0,370.3 154.0,370.1 155.0,370.0 156.0,369.8 157.0,369.5 158.0,369.3 159.0,369.0 160.0,368.7 161.0,368.3 162.0,367.8 163.0,367.2 164.0,366.5 165.0,365.8 166.0,365.0 167.0,364.2 168.0,363.4 169.0,362.5 170.0,361.6 171.0,360.7 172.0,359.8 173.0,358.9 174.0,357.9 175.0,356.9 176.0,355.8 177.0,354.8 178.0,353.9 179.0,353.1 180.0,352.3 181.0,351.6 182.0,350.9 183.0,350.3 184.0,349.7 185.0,349.1 186.0,348.6 187.0,348.1 188.0,347.7 189.0,347.3 190.0,347.0 191.0,346.8 192.0,346.6 193.0,346.4 194.0,346.2 195.0,346.0 196.0,345.8 197.0,345.7 198.0,345.6 199.0,345.4 200.0,345.3 201.0,345.2 202.0,345.0 203.0,344.9 204.0,344.7 205.0,344.6 206.0,344.4 207.0,344.3 208.0,344.2 209.0,344.0 210.0,343.9 211.0,343.7 212.0,343.6 213.0,343.5 214.0,343.4 215.0,343.3 216.0,343.1 217.0,343.0 218.0,342.9 219.0,342.8 220.0,342.7 221.0,342.7 222.0,342.7 223.0,342.8 224.0,342.9 225.0,343.0 226.0,343.1 227.0,343.3 228.0,343.5 229.0,343.7 230.0,343.9 231.0,344.1 232.0,344.4 233.0,344.8 234.0,345.2 235.0,345.6 236.0,346.1 237.0,346.6 238.0,347.1 239.0,347.7 240.0,348.4 241.0,349.1 242.0,350.0 243.0,350.8 244.0,351.7 245.0,352.6 246.0,353.4 247.0,354.2 248.0,355.1 249.0,355.9 250.0,356.7 251.0,357.5 252.0,358.3 253.0,359.2 254.0,360.0 255.0,360.9 256.0,361.8 257.0,362.8 258.0,363.9 259.0,365.1 260.0,366.2 261.0,367.2 262.0,368.0 263.0,368.5 264.0,369.0 265.0,369.4 266.0,369.8 267.0,370.1 268.0,370.4 269.0,370.6 270.0,370.8 271.0,371.0 272.0,371.1 273.0,371.2 274.0,371.4 275.0,371.5 276.0,371.6 277.0,371.7 278.0,371.7 279.0,371.8 280.0,371.8 280.0,371.8Z" fill="rgba(255,25,255,0.400)" stroke="#111" stroke-width="0.95" stroke-linejoin="round"/>
<path d="M70.0,371.8L70.0,371.8 71.0,371.8 72.0,371.8 73.0,371.7 74.0,371.7 75.0,371.6 76.0,371.5 77.0,371.4 78.0,371.3 79.0,371.2 80.0,371.0 81.0,370.9 82.0,370.8 83.0,370.6 84.0,370.5 85.0,370.3 86.0,370.1 87.0,369.9 88.0,369.7 89.0,369.4 90.0,369.1 91.0,368.7 92.0,368.4 93.0,368.0 94.0,367.7 95.0,367.3 96.0,366.9 97.0,366.5 98.0,366.1 99.0,365.6 100.0,365.1 101.0,364.6 102.0,364.0 103.0,363.4 104.0,362.8 105.0,362.0 106.0,361.2 107.0,360.4 108.0,359.6 109.0,358.8 110.0,358.0 111.0,357.4 112.0,356.8 113.0,356.3 114.0,355.7 115.0,355.2 116.0,354.7 117.0,354.2 118.0,353.7 119.0,353.3 120.0,353.0 121.0,352.7 122.0,352.6 123.0,352.5 124.0,352.5 125.0,352.7 126.0,352.8 127.0,353.1 128.0,353.4 129.0,353.8 130.0,354.2 131.0,354.6 132.0,355.1 133.0,355.6 134.0,356.1 135.0,356.6 136.0,357.1 137.0,357.6 138.0,358.1 139.0,358.7 140.0,359.3 141.0,360.0 142.0,360.7 143.0,361.4 144.0,362.1 145.0,362.7 146.0,363.3 147.0,363.8 148.0,364.2 149.0,364.7 150.0,365.2 151.0,365.6 152.0,365.9 153.0,366.1 154.0,366.2 155.0,366.2 156.0,366.1 157.0,366.0 158.0,365.9 159.0,365.8 160.0,365.6 161.0,365.5 162.0,365.3 163.0,365.1 164.0,364.9 165.0,364.6 166.0,364.3 167.0,363.9 168.0,363.5 169.0,363.1 170.0,362.6 171.0,362.1 172.0,361.6 173.0,361.2 174.0,360.7 175.0,360.3 176.0,359.9 177.0,359.5 178.0,359.1 179.0,358.6 180.0,358.2 181.0,357.8 182.0,357.4 183.0,357.0 184.0,356.6 185.0,356.3 186.0,355.9 187.0,355.6 188.0,355.3 189.0,355.0 190.0,354.7 191.0,354.4 192.0,354.1 193.0,353.8 194.0,353.5 195.0,353.3 196.0,353.0 197.0,352.8 198.0,352.7 199.0,352.5 200.0,352.4 201.0,352.4 202.0,352.4 203.0,352.5 204.0,352.5 205.0,352.6 206.0,352.7 207.0,352.9 208.0,353.0 209.0,353.2 210.0,353.3 211.0,353.5 212.0,353.7 213.0,353.9 214.0,354.2 215.0,354.5 216.0,354.7 217.0,355.0 218.0,355.2 219.0,355.3 220.0,355.4 221.0,355.5 222.0,355.6 223.0,355.7 224.0,355.8 225.0,355.9 226.0,355.9 227.0,356.0 228.0,356.1 229.0,356.2 230.0,356.3 231.0,356.4 232.0,356.6 233.0,356.7 234.0,356.9 235.0,357.1 236.0,357.3 237.0,357.5 238.0,357.7 239.0,358.0 240.0,358.2 241.0,358.4 242.0,358.6 243.0,358.9 244.0,359.1 245.0,359.3 246.0,359.5 247.0,359.7 248.0,359.9 249.0,360.2 250.0,360.4 251.0,360.6 252.0,360.8 253.0,361.1 254.0,361.3 255.0,361.6 256.0,361.8 257.0,362.0 258.0,362.3 259.0,362.6 260.0,362.8 261.0,363.1 262.0,363.4 263.0,363.7 264.0,363.9 265.0,364.2 266.0,364.5 267.0,364.8 268.0,365.0 269.0,365.3 270.0,365.6 271.0,365.8 272.0,366.1 273.0,366.4 274.0,366.7 275.0,367.0 276.0,367.2 277.0,367.5 278.0,367.8 279.0,368.1 280.0,368.4 281.0,368.6 282.0,368.9 283.0,369.1 284.0,369.3 285.0,369.5 286.0,369.7 287.0,369.9 288.0,370.0 289.0,370.2 290.0,370.3 291.0,370.4 292.0,370.6 293.0,370.7 294.0,370.8 295.0,370.9 296.0,371.0 297.0,371.1 298.0,371.2 299.0,371.2 300.0,371.3 301.0,371.4 302.0,371.4 303.0,371.5 304.0,371.5 305.0,371.5 306.0,371.6 307.0,371.6 308.0,371.7 309.0,371.7 310.0,371.7 311.0,371.8 312.0,371.8 313.0,371.8 314.0,371.8 315.0,371.8 315.0,371.8Z" fill="rgba(255,255,38,0.400)" stroke="#111" stroke-width="0.95" stroke-linejoin="round"/>
<path d="M244.0,371.8L244.0,371.8 245.0,371.8 246.0,371.7 247.0,371.6 248.0,371.4 249.0,370.6 250.0,369.2 251.0,367.8 252.0,366.6 253.0,365.4 254.0,364.2 255.0,363.0 256.0,361.7 257.0,360.2 258.0,358.7 259.0,357.0 260.0,355.4 261.0,353.9 262.0,352.5 263.0,351.3 264.0,350.1 265.0,348.9 266.0,347.9 267.0,346.9 268.0,346.1 269.0,345.4 270.0,344.8 271.0,344.4 272.0,344.1 273.0,343.7 274.0,343.3 275.0,342.9 276.0,342.3 277.0,341.4 278.0,340.2 279.0,338.8 280.0,337.3 281.0,335.8 282.0,334.3 283.0,332.5 284.0,330.8 285.0,329.1 286.0,327.7 287.0,326.6 288.0,325.9 289.0,325.2 290.0,324.7 291.0,324.0 292.0,323.2 293.0,322.2 294.0,321.0 295.0,319.8 296.0,318.5 297.0,317.2 298.0,315.9 299.0,314.8 300.0,313.9 301.0,312.9 302.0,312.2 303.0,311.7 304.0,311.6 305.0,312.0 306.0,312.6 307.0,313.5 308.0,314.6 309.0,316.0 310.0,317.9 311.0,321.5 312.0,325.7 313.0,329.7 314.0,334.1 315.0,338.7 316.0,343.2 317.0,348.0 318.0,352.7 319.0,356.8 320.0,360.4 321.0,363.8 322.0,366.2 323.0,367.6 324.0,368.9 325.0,369.9 326.0,370.6 327.0,371.1 328.0,371.3 329.0,371.6 330.0,371.7 331.0,371.8 331.1,371.8 331.1,371.8Z" fill="rgba(105,200,80,0.400)" stroke="#111" stroke-width="0.95" stroke-linejoin="round"/>
<path d="M165.0,371.8L165.0,371.8 166.0,371.8 167.0,371.7 168.0,371.7 169.0,371.7 170.0,371.6 171.0,371.6 172.0,371.5 173.0,371.4 174.0,371.4 175.0,371.3 176.0,371.2 177.0,371.1 178.0,371.0 179.0,370.9 180.0,370.8 181.0,370.7 182.0,370.5 183.0,370.3 184.0,370.1 185.0,369.8 186.0,369.5 187.0,369.2 188.0,368.9 189.0,368.6 190.0,368.2 191.0,367.9 192.0,367.5 193.0,367.2 194.0,366.8 195.0,366.4 196.0,366.0 197.0,365.6 198.0,365.2 199.0,364.7 200.0,364.2 201.0,363.7 202.0,363.1 203.0,362.5 204.0,362.0 205.0,361.4 206.0,360.9 207.0,360.3 208.0,359.8 209.0,359.3 210.0,358.8 211.0,358.3 212.0,357.9 213.0,357.4 214.0,356.9 215.0,356.4 216.0,356.0 217.0,355.5 218.0,355.0 219.0,354.5 220.0,354.0 221.0,353.5 222.0,353.0 223.0,352.4 224.0,351.9 225.0,351.3 226.0,350.8 227.0,350.3 228.0,349.8 229.0,349.3 230.0,348.8 231.0,348.4 232.0,347.9 233.0,347.5 234.0,347.1 235.0,346.7 236.0,346.3 237.0,345.9 238.0,345.5 239.0,345.2 240.0,344.8 241.0,344.5 242.0,344.1 243.0,343.8 244.0,343.5 245.0,343.3 246.0,343.1 247.0,343.0 248.0,342.9 249.0,342.8 250.0,342.7 251.0,342.5 252.0,342.4 253.0,342.4 254.0,342.3 255.0,342.2 256.0,342.1 257.0,342.1 258.0,342.0 259.0,342.0 260.0,341.9 261.0,341.9 262.0,341.9 263.0,341.9 264.0,341.9 265.0,341.9 266.0,342.0 267.0,342.0 268.0,342.1 269.0,342.2 270.0,342.2 271.0,342.3 272.0,342.4 273.0,342.5 274.0,342.6 275.0,342.8 276.0,343.2 277.0,343.6 278.0,344.0 279.0,344.5 280.0,345.1 281.0,345.7 282.0,346.3 283.0,346.9 284.0,347.4 285.0,348.0 286.0,348.7 287.0,349.3 288.0,350.0 289.0,350.7 290.0,351.5 291.0,352.2 292.0,353.0 293.0,353.8 294.0,354.6 295.0,355.5 296.0,356.4 297.0,357.4 298.0,358.5 299.0,359.5 300.0,360.6 301.0,361.6 302.0,362.6 303.0,363.5 304.0,364.3 305.0,365.1 306.0,365.9 307.0,366.7 308.0,367.4 309.0,368.0 310.0,368.6 311.0,369.0 312.0,369.5 313.0,369.9 314.0,370.3 315.0,370.6 316.0,371.0 317.0,371.2 318.0,371.5 319.0,371.7 320.0,371.8 320.0,371.8Z" fill="rgba(255,3,3,0.440)" stroke="#111" stroke-width="0.95" stroke-linejoin="round"/>
<rect x="41.00" y="265.00" width="308.50" height="111.00" fill="none" stroke="#222" stroke-width="1"/>
<line x1="35.50" y1="371.80" x2="41.00" y2="371.80" stroke="#222" stroke-width="1"/>
<line x1="35.50" y1="352.00" x2="41.00" y2="352.00" stroke="#222" stroke-width="1"/>
<line x1="35.50" y1="332.20" x2="41.00" y2="332.20" stroke="#222" stroke-width="1"/>
<line x1="35.50" y1="312.40" x2="41.00" y2="312.40" stroke="#222" stroke-width="1"/>
<line x1="35.50" y1="292.60" x2="41.00" y2="292.60" stroke="#222" stroke-width="1"/>
<line x1="35.50" y1="272.80" x2="41.00" y2="272.80" stroke="#222" stroke-width="1"/>
<text x="0" y="0" font-size="12.5" text-anchor="middle" transform="translate(28.8,371.80) rotate(-90)" fill="#111">0.0</text>
<text x="0" y="0" font-size="12.5" text-anchor="middle" transform="translate(28.8,332.20) rotate(-90)" fill="#111">1.0</text>
<text x="0" y="0" font-size="12.5" text-anchor="middle" transform="translate(28.8,292.60) rotate(-90)" fill="#111">2.0</text>
<line x1="61.50" y1="376.00" x2="61.50" y2="381.50" stroke="#222" stroke-width="1"/>
<line x1="123.00" y1="376.00" x2="123.00" y2="381.50" stroke="#222" stroke-width="1"/>
<line x1="184.50" y1="376.00" x2="184.50" y2="381.50" stroke="#222" stroke-width="1"/>
<line x1="246.00" y1="376.00" x2="246.00" y2="381.50" stroke="#222" stroke-width="1"/>
<line x1="307.50" y1="376.00" x2="307.50" y2="381.50" stroke="#222" stroke-width="1"/>
<line x1="371.50" y1="371.80" x2="677.00" y2="371.80" stroke="#eeeeee" stroke-width="1"/>
<path d="M418.0,371.8L418.0,371.8 419.0,371.8 420.0,371.6 421.0,371.4 422.0,371.2 423.0,370.9 424.0,370.6 425.0,370.2 426.0,369.6 427.0,368.8 428.0,368.0 429.0,367.2 430.0,366.3 431.0,365.4 432.0,364.3 433.0,363.1 434.0,362.0 435.0,360.9 436.0,359.9 437.0,359.2 438.0,358.6 439.0,357.9 440.0,357.4 441.0,356.9 442.0,356.6 443.0,356.5 444.0,356.6 445.0,356.9 446.0,357.3 447.0,357.9 448.0,358.5 449.0,359.1 450.0,359.8 451.0,360.6 452.0,361.8 453.0,363.0 454.0,364.3 455.0,365.5 456.0,366.4 457.0,367.2 458.0,367.9 459.0,368.5 460.0,369.0 461.0,369.3 462.0,369.5 463.0,369.7 464.0,369.9 465.0,370.0 466.0,370.0 467.0,370.0 468.0,369.8 469.0,369.6 470.0,369.4 471.0,369.1 472.0,368.8 473.0,368.4 474.0,367.7 475.0,367.0 476.0,366.1 477.0,365.2 478.0,364.3 479.0,363.4 480.0,362.5 481.0,361.5 482.0,360.5 483.0,359.5 484.0,358.4 485.0,357.3 486.0,356.1 487.0,354.9 488.0,353.6 489.0,352.3 490.0,351.1 491.0,349.9 492.0,348.8 493.0,347.8 494.0,346.7 495.0,345.7 496.0,344.9 497.0,344.3 498.0,343.8 499.0,343.4 500.0,343.0 501.0,342.6 502.0,342.2 503.0,341.9 504.0,341.6 505.0,341.4 506.0,341.3 507.0,341.2 508.0,341.2 509.0,341.3 510.0,341.5 511.0,341.7 512.0,341.9 513.0,342.2 514.0,342.5 515.0,342.8 516.0,343.2 517.0,343.8 518.0,344.4 519.0,345.1 520.0,345.8 521.0,346.4 522.0,347.0 523.0,347.6 524.0,348.1 525.0,348.7 526.0,349.2 527.0,349.7 528.0,350.2 529.0,350.6 530.0,350.9 531.0,351.2 532.0,351.4 533.0,351.7 534.0,351.9 535.0,352.1 536.0,352.4 537.0,352.7 538.0,353.0 539.0,353.3 540.0,353.6 541.0,354.0 542.0,354.3 543.0,354.7 544.0,355.0 545.0,355.3 546.0,355.6 547.0,355.9 548.0,356.1 549.0,356.4 550.0,356.6 551.0,356.9 552.0,357.1 553.0,357.3 554.0,357.6 555.0,357.8 556.0,358.1 557.0,358.3 558.0,358.6 559.0,358.9 560.0,359.1 561.0,359.4 562.0,359.7 563.0,360.0 564.0,360.3 565.0,360.6 566.0,360.9 567.0,361.2 568.0,361.5 569.0,361.8 570.0,362.1 571.0,362.4 572.0,362.7 573.0,363.0 574.0,363.4 575.0,363.7 576.0,364.0 577.0,364.3 578.0,364.6 579.0,364.9 580.0,365.2 581.0,365.6 582.0,365.9 583.0,366.2 584.0,366.5 585.0,366.8 586.0,367.1 587.0,367.4 588.0,367.6 589.0,367.9 590.0,368.2 591.0,368.5 592.0,368.8 593.0,369.1 594.0,369.3 595.0,369.6 596.0,369.9 597.0,370.1 598.0,370.3 599.0,370.5 600.0,370.6 601.0,370.7 602.0,370.8 603.0,371.0 604.0,371.1 605.0,371.2 606.0,371.3 607.0,371.4 608.0,371.5 609.0,371.6 610.0,371.6 611.0,371.7 612.0,371.7 613.0,371.8 614.0,371.8 615.0,371.8 615.0,371.8Z" fill="rgba(135,32,225,0.400)" stroke="#111" stroke-width="0.95" stroke-linejoin="round"/>
<path d="M440.0,371.8L440.0,371.8 441.0,371.8 442.0,371.8 443.0,371.8 444.0,371.8 445.0,371.8 446.0,371.8 447.0,371.8 448.0,371.8 449.0,371.7 450.0,371.7 451.0,371.7 452.0,371.7 453.0,371.7 454.0,371.7 455.0,371.7 456.0,371.6 457.0,371.6 458.0,371.6 459.0,371.6 460.0,371.6 461.0,371.5 462.0,371.5 463.0,371.5 464.0,371.5 465.0,371.4 466.0,371.4 467.0,371.4 468.0,371.4 469.0,371.3 470.0,371.3 471.0,371.3 472.0,371.2 473.0,371.2 474.0,371.2 475.0,371.1 476.0,371.1 477.0,371.0 478.0,370.9 479.0,370.9 480.0,370.8 481.0,370.7 482.0,370.6 483.0,370.5 484.0,370.5 485.0,370.4 486.0,370.3 487.0,370.2 488.0,370.0 489.0,369.9 490.0,369.8 491.0,369.7 492.0,369.5 493.0,369.3 494.0,369.1 495.0,368.8 496.0,368.5 497.0,368.2 498.0,367.9 499.0,367.5 500.0,367.1 501.0,366.7 502.0,366.3 503.0,365.8 504.0,365.3 505.0,364.6 506.0,363.8 507.0,362.9 508.0,361.9 509.0,360.9 510.0,359.8 511.0,358.5 512.0,356.9 513.0,355.3 514.0,353.7 515.0,352.4 516.0,351.2 517.0,350.1 518.0,349.0 519.0,348.1 520.0,347.3 521.0,346.6 522.0,346.0 523.0,345.5 524.0,345.0 525.0,344.5 526.0,344.1 527.0,343.7 528.0,343.3 529.0,342.9 530.0,342.5 531.0,342.0 532.0,341.6 533.0,341.1 534.0,340.7 535.0,340.3 536.0,340.0 537.0,339.8 538.0,339.7 539.0,339.7 540.0,339.9 541.0,340.1 542.0,340.3 543.0,340.4 544.0,340.5 545.0,340.5 546.0,340.5 547.0,340.5 548.0,340.5 549.0,340.5 550.0,340.5 551.0,340.5 552.0,340.5 553.0,340.9 554.0,341.4 555.0,342.1 556.0,342.8 557.0,343.7 558.0,344.9 559.0,346.3 560.0,347.8 561.0,349.1 562.0,350.2 563.0,351.2 564.0,352.2 565.0,353.1 566.0,354.0 567.0,354.8 568.0,355.6 569.0,356.3 570.0,357.0 571.0,357.6 572.0,358.2 573.0,358.8 574.0,359.3 575.0,359.9 576.0,360.4 577.0,360.8 578.0,361.3 579.0,361.7 580.0,362.2 581.0,362.6 582.0,363.0 583.0,363.5 584.0,363.9 585.0,364.3 586.0,364.7 587.0,365.1 588.0,365.5 589.0,365.9 590.0,366.3 591.0,366.6 592.0,367.0 593.0,367.3 594.0,367.7 595.0,368.0 596.0,368.3 597.0,368.7 598.0,369.0 599.0,369.4 600.0,369.7 601.0,370.0 602.0,370.2 603.0,370.5 604.0,370.7 605.0,370.8 606.0,370.9 607.0,371.0 608.0,371.1 609.0,371.2 610.0,371.3 611.0,371.4 612.0,371.5 613.0,371.5 614.0,371.6 615.0,371.7 616.0,371.7 617.0,371.7 618.0,371.8 619.0,371.8 620.0,371.8 620.0,371.8Z" fill="rgba(232,118,232,0.400)" stroke="#111" stroke-width="0.95" stroke-linejoin="round"/>
<path d="M415.0,371.8L415.0,371.8 416.0,371.8 417.0,371.7 418.0,371.6 419.0,371.5 420.0,371.3 421.0,371.2 422.0,371.0 423.0,370.8 424.0,370.5 425.0,370.3 426.0,370.0 427.0,369.6 428.0,369.1 429.0,368.5 430.0,367.9 431.0,367.3 432.0,366.8 433.0,366.3 434.0,365.7 435.0,365.2 436.0,364.7 437.0,364.3 438.0,364.0 439.0,363.7 440.0,363.4 441.0,363.2 442.0,363.0 443.0,363.0 444.0,363.0 445.0,363.1 446.0,363.2 447.0,363.4 448.0,363.6 449.0,363.8 450.0,364.0 451.0,364.3 452.0,364.6 453.0,365.1 454.0,365.5 455.0,366.0 456.0,366.5 457.0,366.9 458.0,367.3 459.0,367.6 460.0,368.0 461.0,368.3 462.0,368.6 463.0,368.9 464.0,369.1 465.0,369.2 466.0,369.3 467.0,369.3 468.0,369.3 469.0,369.2 470.0,369.1 471.0,369.0 472.0,368.9 473.0,368.8 474.0,368.7 475.0,368.6 476.0,368.4 477.0,368.3 478.0,368.1 479.0,368.0 480.0,367.8 481.0,367.6 482.0,367.4 483.0,367.2 484.0,366.9 485.0,366.6 486.0,366.3 487.0,365.9 488.0,365.6 489.0,365.2 490.0,364.8 491.0,364.4 492.0,364.0 493.0,363.6 494.0,363.2 495.0,362.8 496.0,362.4 497.0,361.9 498.0,361.5 499.0,361.0 500.0,360.5 501.0,359.9 502.0,359.4 503.0,358.9 504.0,358.3 505.0,357.8 506.0,357.3 507.0,356.7 508.0,356.1 509.0,355.6 510.0,355.0 511.0,354.4 512.0,353.8 513.0,353.2 514.0,352.6 515.0,352.0 516.0,351.4 517.0,350.8 518.0,350.2 519.0,349.6 520.0,349.0 521.0,348.4 522.0,347.8 523.0,347.2 524.0,346.5 525.0,345.8 526.0,345.1 527.0,344.5 528.0,343.9 529.0,343.4 530.0,342.9 531.0,342.5 532.0,342.0 533.0,341.5 534.0,341.1 535.0,340.8 536.0,340.5 537.0,340.3 538.0,340.2 539.0,340.3 540.0,340.5 541.0,340.8 542.0,341.3 543.0,341.8 544.0,342.3 545.0,342.8 546.0,343.5 547.0,344.3 548.0,345.1 549.0,346.0 550.0,346.8 551.0,347.6 552.0,348.5 553.0,349.3 554.0,350.2 555.0,351.1 556.0,351.9 557.0,352.8 558.0,353.6 559.0,354.5 560.0,355.3 561.0,356.1 562.0,356.9 563.0,357.7 564.0,358.4 565.0,359.1 566.0,359.8 567.0,360.4 568.0,361.0 569.0,361.6 570.0,362.1 571.0,362.6 572.0,363.1 573.0,363.6 574.0,364.0 575.0,364.4 576.0,364.8 577.0,365.2 578.0,365.6 579.0,366.0 580.0,366.4 581.0,366.7 582.0,367.1 583.0,367.4 584.0,367.7 585.0,368.0 586.0,368.3 587.0,368.6 588.0,368.8 589.0,369.0 590.0,369.3 591.0,369.5 592.0,369.7 593.0,369.9 594.0,370.1 595.0,370.3 596.0,370.5 597.0,370.6 598.0,370.8 599.0,370.9 600.0,371.0 601.0,371.1 602.0,371.2 603.0,371.2 604.0,371.3 605.0,371.4 606.0,371.5 607.0,371.5 608.0,371.6 609.0,371.6 610.0,371.7 611.0,371.7 612.0,371.8 613.0,371.8 614.0,371.8 615.0,371.8 615.0,371.8Z" fill="rgba(82,125,180,0.400)" stroke="#111" stroke-width="0.95" stroke-linejoin="round"/>
<path d="M470.0,371.8L470.0,371.8 471.0,371.8 472.0,371.8 473.0,371.8 474.0,371.8 475.0,371.8 476.0,371.7 477.0,371.7 478.0,371.7 479.0,371.7 480.0,371.7 481.0,371.6 482.0,371.6 483.0,371.6 484.0,371.5 485.0,371.5 486.0,371.5 487.0,371.4 488.0,371.4 489.0,371.3 490.0,371.3 491.0,371.3 492.0,371.2 493.0,371.1 494.0,371.1 495.0,371.0 496.0,370.9 497.0,370.8 498.0,370.7 499.0,370.6 500.0,370.5 501.0,370.4 502.0,370.2 503.0,370.1 504.0,370.0 505.0,369.8 506.0,369.6 507.0,369.4 508.0,369.1 509.0,368.8 510.0,368.5 511.0,368.2 512.0,367.9 513.0,367.5 514.0,367.1 515.0,366.8 516.0,366.5 517.0,366.1 518.0,365.8 519.0,365.5 520.0,365.1 521.0,364.7 522.0,364.3 523.0,363.8 524.0,363.4 525.0,362.8 526.0,362.2 527.0,361.4 528.0,360.5 529.0,359.6 530.0,358.5 531.0,357.3 532.0,356.1 533.0,354.8 534.0,353.3 535.0,351.4 536.0,349.3 537.0,347.0 538.0,344.7 539.0,342.5 540.0,340.4 541.0,338.5 542.0,336.9 543.0,335.3 544.0,333.8 545.0,332.4 546.0,331.2 547.0,330.3 548.0,329.5 549.0,328.8 550.0,328.2 551.0,327.6 552.0,327.3 553.0,327.2 554.0,327.3 555.0,327.4 556.0,327.7 557.0,328.0 558.0,328.4 559.0,328.8 560.0,329.3 561.0,329.8 562.0,330.3 563.0,331.0 564.0,331.8 565.0,332.8 566.0,333.9 567.0,335.1 568.0,336.4 569.0,337.6 570.0,338.9 571.0,340.2 572.0,341.6 573.0,343.2 574.0,344.8 575.0,346.5 576.0,348.1 577.0,349.7 578.0,351.2 579.0,352.5 580.0,353.7 581.0,354.9 582.0,356.0 583.0,357.0 584.0,357.8 585.0,358.4 586.0,358.7 587.0,358.9 588.0,359.1 589.0,359.3 590.0,359.4 591.0,359.5 592.0,359.5 593.0,359.6 594.0,359.6 595.0,359.7 596.0,359.8 597.0,360.0 598.0,360.4 599.0,361.0 600.0,361.5 601.0,362.1 602.0,362.8 603.0,363.5 604.0,364.3 605.0,365.2 606.0,366.1 607.0,367.0 608.0,367.8 609.0,368.5 610.0,369.2 611.0,369.8 612.0,370.2 613.0,370.5 614.0,370.7 615.0,370.9 616.0,371.0 617.0,371.1 618.0,371.2 619.0,371.2 620.0,371.3 621.0,371.3 622.0,371.4 623.0,371.4 624.0,371.4 625.0,371.4 626.0,371.4 627.0,371.3 628.0,371.2 629.0,371.0 630.0,370.9 631.0,370.9 632.0,370.9 633.0,371.0 634.0,371.1 635.0,371.2 636.0,371.3 637.0,371.4 638.0,371.4 639.0,371.4 640.0,371.4 641.0,371.4 642.0,371.5 643.0,371.5 644.0,371.5 645.0,371.5 646.0,371.5 647.0,371.5 648.0,371.5 649.0,371.5 650.0,371.5 651.0,371.5 652.0,371.5 653.0,371.5 654.0,371.4 655.0,371.4 656.0,371.4 657.0,371.4 658.0,371.4 659.0,371.3 660.0,371.3 661.0,371.3 662.0,371.3 663.0,371.3 664.0,371.3 665.0,371.4 666.0,371.4 667.0,371.5 668.0,371.5 669.0,371.6 670.0,371.6 671.0,371.6 672.0,371.7 673.0,371.7 674.0,371.7 675.0,371.7 676.0,371.8 677.0,371.8 677.0,371.8Z" fill="rgba(168,168,168,0.400)" stroke="#111" stroke-width="0.95" stroke-linejoin="round"/>
<path d="M400.0,371.8L400.0,371.8 401.0,371.7 402.0,371.6 403.0,371.5 404.0,371.3 405.0,371.2 406.0,371.0 407.0,370.9 408.0,370.7 409.0,370.5 410.0,370.3 411.0,370.1 412.0,369.9 413.0,369.6 414.0,369.4 415.0,369.1 416.0,368.8 417.0,368.5 418.0,368.2 419.0,367.9 420.0,367.5 421.0,367.2 422.0,366.8 423.0,366.4 424.0,366.0 425.0,365.5 426.0,365.0 427.0,364.4 428.0,363.9 429.0,363.3 430.0,362.8 431.0,362.2 432.0,361.7 433.0,361.2 434.0,360.8 435.0,360.3 436.0,359.8 437.0,359.2 438.0,358.7 439.0,358.3 440.0,357.9 441.0,357.6 442.0,357.4 443.0,357.3 444.0,357.4 445.0,357.5 446.0,357.7 447.0,357.9 448.0,358.2 449.0,358.5 450.0,358.8 451.0,359.1 452.0,359.5 453.0,359.9 454.0,360.3 455.0,360.8 456.0,361.3 457.0,361.8 458.0,362.3 459.0,362.7 460.0,363.0 461.0,363.3 462.0,363.6 463.0,363.9 464.0,364.2 465.0,364.4 466.0,364.7 467.0,364.9 468.0,365.0 469.0,365.1 470.0,365.2 471.0,365.3 472.0,365.4 473.0,365.4 474.0,365.5 475.0,365.5 476.0,365.5 477.0,365.3 478.0,365.1 479.0,364.9 480.0,364.6 481.0,364.2 482.0,363.9 483.0,363.5 484.0,363.1 485.0,362.8 486.0,362.5 487.0,362.1 488.0,361.7 489.0,361.3 490.0,360.9 491.0,360.5 492.0,360.0 493.0,359.6 494.0,359.2 495.0,358.8 496.0,358.4 497.0,358.0 498.0,357.6 499.0,357.1 500.0,356.7 501.0,356.3 502.0,355.9 503.0,355.5 504.0,355.1 505.0,354.8 506.0,354.5 507.0,354.1 508.0,353.8 509.0,353.5 510.0,353.2 511.0,352.9 512.0,352.7 513.0,352.4 514.0,352.3 515.0,352.2 516.0,352.1 517.0,352.0 518.0,351.9 519.0,351.8 520.0,351.7 521.0,351.7 522.0,351.6 523.0,351.6 524.0,351.5 525.0,351.5 526.0,351.5 527.0,351.5 528.0,351.5 529.0,351.6 530.0,351.6 531.0,351.7 532.0,351.8 533.0,351.9 534.0,352.0 535.0,352.2 536.0,352.3 537.0,352.5 538.0,352.8 539.0,353.2 540.0,353.6 541.0,354.0 542.0,354.4 543.0,354.8 544.0,355.2 545.0,355.5 546.0,355.9 547.0,356.2 548.0,356.5 549.0,356.9 550.0,357.2 551.0,357.6 552.0,357.9 553.0,358.3 554.0,358.6 555.0,359.0 556.0,359.3 557.0,359.7 558.0,360.0 559.0,360.4 560.0,360.7 561.0,361.1 562.0,361.5 563.0,361.8 564.0,362.2 565.0,362.6 566.0,363.0 567.0,363.3 568.0,363.7 569.0,364.0 570.0,364.4 571.0,364.7 572.0,365.0 573.0,365.4 574.0,365.6 575.0,365.9 576.0,366.2 577.0,366.5 578.0,366.8 579.0,367.0 580.0,367.3 581.0,367.5 582.0,367.8 583.0,368.0 584.0,368.2 585.0,368.5 586.0,368.7 587.0,368.9 588.0,369.1 589.0,369.2 590.0,369.4 591.0,369.6 592.0,369.8 593.0,369.9 594.0,370.1 595.0,370.2 596.0,370.3 597.0,370.5 598.0,370.6 599.0,370.7 600.0,370.8 601.0,370.9 602.0,371.0 603.0,371.1 604.0,371.2 605.0,371.2 606.0,371.3 607.0,371.4 608.0,371.5 609.0,371.5 610.0,371.6 611.0,371.6 612.0,371.7 613.0,371.7 614.0,371.8 615.0,371.8 615.0,371.8Z" fill="rgba(0,255,255,0.310)" stroke="#111" stroke-width="0.95" stroke-linejoin="round"/>
<rect x="370.00" y="265.00" width="308.50" height="111.00" fill="none" stroke="#222" stroke-width="1"/>
<line x1="364.50" y1="371.80" x2="370.00" y2="371.80" stroke="#222" stroke-width="1"/>
<line x1="364.50" y1="352.00" x2="370.00" y2="352.00" stroke="#222" stroke-width="1"/>
<line x1="364.50" y1="332.20" x2="370.00" y2="332.20" stroke="#222" stroke-width="1"/>
<line x1="364.50" y1="312.40" x2="370.00" y2="312.40" stroke="#222" stroke-width="1"/>
<line x1="364.50" y1="292.60" x2="370.00" y2="292.60" stroke="#222" stroke-width="1"/>
<line x1="364.50" y1="272.80" x2="370.00" y2="272.80" stroke="#222" stroke-width="1"/>
<line x1="387.00" y1="376.00" x2="387.00" y2="381.50" stroke="#222" stroke-width="1"/>
<line x1="443.00" y1="376.00" x2="443.00" y2="381.50" stroke="#222" stroke-width="1"/>
<line x1="499.00" y1="376.00" x2="499.00" y2="381.50" stroke="#222" stroke-width="1"/>
<line x1="555.00" y1="376.00" x2="555.00" y2="381.50" stroke="#222" stroke-width="1"/>
<line x1="611.00" y1="376.00" x2="611.00" y2="381.50" stroke="#222" stroke-width="1"/>
<line x1="667.00" y1="376.00" x2="667.00" y2="381.50" stroke="#222" stroke-width="1"/>
<g stroke="rgba(120,90,40,0.65)" stroke-width="3.6" stroke-linecap="round"><line x1="122.90" y1="269.30" x2="122.90" y2="289.10"/><line x1="118.90" y1="282.00" x2="122.90" y2="289.10"/><line x1="126.90" y1="282.00" x2="122.90" y2="289.10"/></g>
<g stroke="rgba(255,0,255,0.6)" stroke-width="3.6" stroke-linecap="round"><line x1="206.80" y1="269.30" x2="206.80" y2="289.10"/><line x1="202.80" y1="282.00" x2="206.80" y2="289.10"/><line x1="210.80" y1="282.00" x2="206.80" y2="289.10"/></g>
<g stroke="rgba(255,255,0,0.65)" stroke-width="3.6" stroke-linecap="round"><line x1="185.70" y1="269.30" x2="185.70" y2="289.10"/><line x1="181.70" y1="282.00" x2="185.70" y2="289.10"/><line x1="189.70" y1="282.00" x2="185.70" y2="289.10"/></g>
<g stroke="rgba(60,180,60,0.55)" stroke-width="3.6" stroke-linecap="round"><line x1="292.40" y1="269.30" x2="292.40" y2="289.10"/><line x1="288.40" y1="282.00" x2="292.40" y2="289.10"/><line x1="296.40" y1="282.00" x2="292.40" y2="289.10"/></g>
<g stroke="rgba(255,0,0,0.65)" stroke-width="3.6" stroke-linecap="round"><line x1="254.30" y1="269.30" x2="254.30" y2="289.10"/><line x1="250.30" y1="282.00" x2="254.30" y2="289.10"/><line x1="258.30" y1="282.00" x2="254.30" y2="289.10"/></g>
<g stroke="rgba(140,30,220,0.65)" stroke-width="3.6" stroke-linecap="round"><line x1="505.60" y1="269.30" x2="505.60" y2="289.10"/><line x1="501.60" y1="282.00" x2="505.60" y2="289.10"/><line x1="509.60" y1="282.00" x2="505.60" y2="289.10"/></g>
<g stroke="rgba(230,90,230,0.55)" stroke-width="3.6" stroke-linecap="round"><line x1="544.90" y1="269.30" x2="544.90" y2="289.10"/><line x1="540.90" y1="282.00" x2="544.90" y2="289.10"/><line x1="548.90" y1="282.00" x2="544.90" y2="289.10"/></g>
<g stroke="rgba(50,100,160,0.55)" stroke-width="3.6" stroke-linecap="round"><line x1="528.40" y1="269.30" x2="528.40" y2="289.10"/><line x1="524.40" y1="282.00" x2="528.40" y2="289.10"/><line x1="532.40" y1="282.00" x2="528.40" y2="289.10"/></g>
<g stroke="rgba(140,140,140,0.6)" stroke-width="3.6" stroke-linecap="round"><line x1="560.50" y1="269.30" x2="560.50" y2="289.10"/><line x1="556.50" y1="282.00" x2="560.50" y2="289.10"/><line x1="564.50" y1="282.00" x2="560.50" y2="289.10"/></g>
<g stroke="rgba(0,240,255,0.6)" stroke-width="3.6" stroke-linecap="round"><line x1="509.60" y1="269.30" x2="509.60" y2="289.10"/><line x1="505.60" y1="282.00" x2="509.60" y2="289.10"/><line x1="513.60" y1="282.00" x2="509.60" y2="289.10"/></g>
<text x="54.5" y="282.03" font-size="12.75" font-weight="bold" fill="#000">Regime 3</text>
<line x1="42.50" y1="503.55" x2="348.00" y2="503.55" stroke="#eeeeee" stroke-width="1"/>
<path d="M66.0,503.6L66.0,503.6 67.0,503.5 68.0,503.5 69.0,503.5 70.0,503.4 71.0,503.4 72.0,503.4 73.0,503.3 74.0,503.3 75.0,503.3 76.0,503.2 77.0,503.2 78.0,503.1 79.0,503.1 80.0,503.1 81.0,503.0 82.0,503.0 83.0,502.9 84.0,502.8 85.0,502.8 86.0,502.7 87.0,502.7 88.0,502.6 89.0,502.5 90.0,502.5 91.0,502.4 92.0,502.3 93.0,502.2 94.0,502.1 95.0,502.1 96.0,502.0 97.0,501.8 98.0,501.7 99.0,501.6 100.0,501.4 101.0,501.3 102.0,501.1 103.0,501.0 104.0,500.8 105.0,500.7 106.0,500.5 107.0,500.4 108.0,500.3 109.0,500.2 110.0,500.1 111.0,500.0 112.0,499.9 113.0,499.8 114.0,499.7 115.0,499.6 116.0,499.5 117.0,499.4 118.0,499.3 119.0,499.2 120.0,499.2 121.0,499.1 122.0,499.1 123.0,499.1 124.0,499.1 125.0,499.1 126.0,499.1 127.0,499.2 128.0,499.3 129.0,499.4 130.0,499.5 131.0,499.6 132.0,499.7 133.0,499.8 134.0,499.9 135.0,500.0 136.0,500.0 137.0,500.1 138.0,500.0 139.0,500.0 140.0,500.0 141.0,500.0 142.0,500.0 143.0,499.9 144.0,499.9 145.0,499.9 146.0,499.8 147.0,499.8 148.0,499.7 149.0,499.6 150.0,499.6 151.0,499.3 152.0,498.9 153.0,498.3 154.0,497.5 155.0,496.7 156.0,495.7 157.0,494.8 158.0,494.0 159.0,493.2 160.0,492.6 161.0,492.0 162.0,491.4 163.0,490.9 164.0,490.3 165.0,489.8 166.0,489.3 167.0,488.8 168.0,488.3 169.0,487.9 170.0,487.4 171.0,487.0 172.0,486.7 173.0,486.3 174.0,486.0 175.0,485.8 176.0,485.5 177.0,485.3 178.0,485.0 179.0,484.8 180.0,484.6 181.0,484.4 182.0,484.2 183.0,484.0 184.0,483.8 185.0,483.7 186.0,483.5 187.0,483.4 188.0,483.4 189.0,483.4 190.0,483.4 191.0,483.4 192.0,483.4 193.0,483.5 194.0,483.6 195.0,483.7 196.0,483.8 197.0,483.9 198.0,484.0 199.0,484.2 200.0,484.3 201.0,484.4 202.0,484.6 203.0,484.7 204.0,484.9 205.0,485.1 206.0,485.3 207.0,485.6 208.0,485.8 209.0,486.0 210.0,486.3 211.0,486.5 212.0,486.8 213.0,487.0 214.0,487.3 215.0,487.6 216.0,487.9 217.0,488.2 218.0,488.5 219.0,488.8 220.0,489.1 221.0,489.4 222.0,489.6 223.0,489.8 224.0,490.0 225.0,490.2 226.0,490.4 227.0,490.6 228.0,490.7 229.0,490.9 230.0,491.1 231.0,491.2 232.0,491.3 233.0,491.5 234.0,491.6 235.0,491.8 236.0,491.9 237.0,492.0 238.0,492.1 239.0,492.3 240.0,492.4 241.0,492.5 242.0,492.6 243.0,492.6 244.0,492.7 245.0,492.8 246.0,492.9 247.0,492.9 248.0,493.0 249.0,493.1 250.0,493.1 251.0,493.2 252.0,493.2 253.0,493.3 254.0,493.4 255.0,493.4 256.0,493.5 257.0,493.6 258.0,493.6 259.0,493.7 260.0,493.7 261.0,493.8 262.0,493.9 263.0,493.9 264.0,494.0 265.0,494.0 266.0,494.1 267.0,494.2 268.0,494.2 269.0,494.3 270.0,494.4 271.0,494.4 272.0,494.5 273.0,494.6 274.0,494.7 275.0,494.8 276.0,494.8 277.0,495.0 278.0,495.1 279.0,495.2 280.0,495.3 281.0,495.5 282.0,495.6 283.0,495.8 284.0,495.9 285.0,496.1 286.0,496.2 287.0,496.4 288.0,496.5 289.0,496.7 290.0,496.9 291.0,497.0 292.0,497.2 293.0,497.3 294.0,497.4 295.0,497.6 296.0,497.7 297.0,497.8 298.0,497.9 299.0,498.0 300.0,498.1 301.0,498.2 302.0,498.3 303.0,498.4 304.0,498.5 305.0,498.6 306.0,498.7 307.0,498.8 308.0,498.9 309.0,499.0 310.0,499.1 311.0,499.2 312.0,499.4 313.0,499.5 314.0,499.6 315.0,499.8 316.0,500.0 317.0,500.1 318.0,500.3 319.0,500.5 320.0,500.7 321.0,500.9 322.0,501.1 323.0,501.2 324.0,501.4 325.0,501.6 326.0,501.7 327.0,501.8 328.0,502.0 329.0,502.1 330.0,502.3 331.0,502.4 332.0,502.5 333.0,502.7 334.0,502.8 335.0,502.9 336.0,503.1 337.0,503.2 338.0,503.3 339.0,503.4 340.0,503.6 340.0,503.6Z" fill="rgba(142,115,58,0.400)" stroke="#111" stroke-width="0.95" stroke-linejoin="round"/>
<path d="M66.0,503.6L66.0,503.6 67.0,503.5 68.0,503.5 69.0,503.5 70.0,503.5 71.0,503.5 72.0,503.4 73.0,503.4 74.0,503.4 75.0,503.3 76.0,503.3 77.0,503.2 78.0,503.2 79.0,503.1 80.0,503.1 81.0,503.0 82.0,502.9 83.0,502.8 84.0,502.7 85.0,502.6 86.0,502.5 87.0,502.4 88.0,502.2 89.0,502.0 90.0,501.9 91.0,501.7 92.0,501.4 93.0,501.0 94.0,500.5 95.0,500.0 96.0,499.4 97.0,498.8 98.0,498.1 99.0,497.4 100.0,496.7 101.0,496.1 102.0,495.4 103.0,494.8 104.0,494.1 105.0,493.3 106.0,492.6 107.0,491.8 108.0,491.0 109.0,490.3 110.0,489.5 111.0,488.8 112.0,488.2 113.0,487.6 114.0,487.0 115.0,486.5 116.0,485.9 117.0,485.3 118.0,484.7 119.0,484.2 120.0,483.8 121.0,483.4 122.0,483.1 123.0,483.0 124.0,483.0 125.0,483.0 126.0,483.2 127.0,483.4 128.0,483.7 129.0,484.0 130.0,484.3 131.0,484.8 132.0,485.2 133.0,485.6 134.0,486.1 135.0,486.6 136.0,487.1 137.0,487.7 138.0,488.5 139.0,489.3 140.0,490.2 141.0,491.1 142.0,491.9 143.0,492.6 144.0,493.1 145.0,493.6 146.0,494.1 147.0,494.5 148.0,494.9 149.0,495.1 150.0,495.2 151.0,495.2 152.0,495.2 153.0,495.0 154.0,494.9 155.0,494.7 156.0,494.5 157.0,494.2 158.0,494.0 159.0,493.7 160.0,493.4 161.0,493.1 162.0,492.8 163.0,492.5 164.0,492.2 165.0,491.9 166.0,491.6 167.0,491.3 168.0,491.1 169.0,490.7 170.0,490.4 171.0,490.1 172.0,489.8 173.0,489.5 174.0,489.1 175.0,488.8 176.0,488.5 177.0,488.2 178.0,487.9 179.0,487.6 180.0,487.3 181.0,487.0 182.0,486.7 183.0,486.4 184.0,486.1 185.0,485.8 186.0,485.6 187.0,485.4 188.0,485.3 189.0,485.2 190.0,485.1 191.0,485.1 192.0,485.1 193.0,485.0 194.0,485.0 195.0,485.0 196.0,484.9 197.0,484.9 198.0,484.9 199.0,484.9 200.0,484.9 201.0,484.9 202.0,484.9 203.0,484.9 204.0,484.9 205.0,484.9 206.0,485.0 207.0,485.1 208.0,485.3 209.0,485.5 210.0,485.7 211.0,486.0 212.0,486.2 213.0,486.5 214.0,486.8 215.0,487.1 216.0,487.4 217.0,487.7 218.0,488.0 219.0,488.3 220.0,488.7 221.0,489.1 222.0,489.5 223.0,489.8 224.0,490.1 225.0,490.4 226.0,490.7 227.0,491.0 228.0,491.2 229.0,491.5 230.0,491.8 231.0,492.0 232.0,492.2 233.0,492.5 234.0,492.7 235.0,492.9 236.0,493.1 237.0,493.3 238.0,493.6 239.0,493.8 240.0,494.0 241.0,494.2 242.0,494.4 243.0,494.5 244.0,494.7 245.0,494.9 246.0,495.1 247.0,495.3 248.0,495.5 249.0,495.6 250.0,495.8 251.0,496.0 252.0,496.2 253.0,496.3 254.0,496.5 255.0,496.7 256.0,496.9 257.0,497.0 258.0,497.2 259.0,497.4 260.0,497.6 261.0,497.7 262.0,497.9 263.0,498.1 264.0,498.3 265.0,498.4 266.0,498.6 267.0,498.8 268.0,499.0 269.0,499.2 270.0,499.4 271.0,499.5 272.0,499.7 273.0,499.9 274.0,500.1 275.0,500.2 276.0,500.4 277.0,500.6 278.0,500.7 279.0,500.9 280.0,501.0 281.0,501.2 282.0,501.3 283.0,501.4 284.0,501.6 285.0,501.7 286.0,501.8 287.0,501.9 288.0,502.0 289.0,502.1 290.0,502.2 291.0,502.3 292.0,502.4 293.0,502.5 294.0,502.6 295.0,502.7 296.0,502.8 297.0,502.9 298.0,502.9 299.0,503.0 300.0,503.1 301.0,503.1 302.0,503.1 303.0,503.2 304.0,503.2 305.0,503.3 306.0,503.3 307.0,503.4 308.0,503.4 309.0,503.4 310.0,503.5 311.0,503.5 312.0,503.5 313.0,503.5 314.0,503.5 315.0,503.6 315.0,503.6Z" fill="rgba(255,25,255,0.400)" stroke="#111" stroke-width="0.95" stroke-linejoin="round"/>
<path d="M70.0,503.6L70.0,503.6 71.0,503.5 72.0,503.5 73.0,503.5 74.0,503.5 75.0,503.5 76.0,503.4 77.0,503.4 78.0,503.4 79.0,503.3 80.0,503.3 81.0,503.2 82.0,503.1 83.0,503.1 84.0,503.0 85.0,502.9 86.0,502.9 87.0,502.8 88.0,502.7 89.0,502.6 90.0,502.6 91.0,502.5 92.0,502.3 93.0,502.2 94.0,502.0 95.0,501.9 96.0,501.7 97.0,501.5 98.0,501.3 99.0,501.1 100.0,500.8 101.0,500.6 102.0,500.4 103.0,500.2 104.0,500.0 105.0,499.7 106.0,499.6 107.0,499.3 108.0,499.1 109.0,498.9 110.0,498.6 111.0,498.4 112.0,498.1 113.0,497.8 114.0,497.6 115.0,497.3 116.0,497.1 117.0,496.8 118.0,496.6 119.0,496.5 120.0,496.3 121.0,496.2 122.0,496.1 123.0,496.1 124.0,496.1 125.0,496.1 126.0,496.2 127.0,496.3 128.0,496.5 129.0,496.7 130.0,496.9 131.0,497.1 132.0,497.4 133.0,497.6 134.0,497.8 135.0,498.0 136.0,498.2 137.0,498.3 138.0,498.4 139.0,498.5 140.0,498.6 141.0,498.6 142.0,498.6 143.0,498.6 144.0,498.6 145.0,498.6 146.0,498.6 147.0,498.6 148.0,498.6 149.0,498.6 150.0,498.6 151.0,498.6 152.0,498.6 153.0,498.6 154.0,498.6 155.0,498.6 156.0,498.5 157.0,498.5 158.0,498.4 159.0,498.4 160.0,498.3 161.0,498.1 162.0,498.0 163.0,497.9 164.0,497.7 165.0,497.6 166.0,497.4 167.0,497.2 168.0,497.1 169.0,496.9 170.0,496.8 171.0,496.6 172.0,496.4 173.0,496.3 174.0,496.2 175.0,496.1 176.0,495.9 177.0,495.8 178.0,495.7 179.0,495.6 180.0,495.5 181.0,495.4 182.0,495.3 183.0,495.2 184.0,495.1 185.0,495.0 186.0,494.9 187.0,494.9 188.0,494.8 189.0,494.7 190.0,494.6 191.0,494.4 192.0,494.3 193.0,494.2 194.0,494.1 195.0,494.0 196.0,493.9 197.0,493.8 198.0,493.7 199.0,493.6 200.0,493.5 201.0,493.4 202.0,493.3 203.0,493.2 204.0,493.1 205.0,492.9 206.0,492.8 207.0,492.7 208.0,492.6 209.0,492.5 210.0,492.4 211.0,492.3 212.0,492.2 213.0,492.1 214.0,492.0 215.0,491.9 216.0,491.8 217.0,491.7 218.0,491.6 219.0,491.6 220.0,491.4 221.0,491.3 222.0,491.2 223.0,491.1 224.0,491.0 225.0,490.9 226.0,490.8 227.0,490.7 228.0,490.6 229.0,490.6 230.0,490.5 231.0,490.4 232.0,490.3 233.0,490.2 234.0,490.1 235.0,490.0 236.0,489.9 237.0,489.8 238.0,489.7 239.0,489.6 240.0,489.6 241.0,489.5 242.0,489.4 243.0,489.3 244.0,489.2 245.0,489.2 246.0,489.1 247.0,489.0 248.0,488.9 249.0,488.9 250.0,488.8 251.0,488.7 252.0,488.6 253.0,488.6 254.0,488.5 255.0,488.4 256.0,488.3 257.0,488.2 258.0,488.1 259.0,488.0 260.0,487.9 261.0,487.8 262.0,487.7 263.0,487.5 264.0,487.4 265.0,487.3 266.0,487.1 267.0,487.0 268.0,486.9 269.0,486.8 270.0,486.7 271.0,486.6 272.0,486.5 273.0,486.5 274.0,486.5 275.0,486.5 276.0,486.5 277.0,486.5 278.0,486.5 279.0,486.5 280.0,486.5 281.0,486.6 282.0,486.6 283.0,486.6 284.0,486.7 285.0,486.7 286.0,486.8 287.0,486.9 288.0,486.9 289.0,487.0 290.0,487.1 291.0,487.2 292.0,487.3 293.0,487.6 294.0,487.8 295.0,488.1 296.0,488.4 297.0,488.8 298.0,489.2 299.0,489.6 300.0,490.0 301.0,490.4 302.0,490.8 303.0,491.2 304.0,491.6 305.0,492.0 306.0,492.5 307.0,493.0 308.0,493.5 309.0,494.1 310.0,494.6 311.0,495.2 312.0,495.7 313.0,496.3 314.0,496.8 315.0,497.3 316.0,497.8 317.0,498.3 318.0,498.7 319.0,499.2 320.0,499.6 321.0,500.1 322.0,500.5 323.0,501.0 324.0,501.4 325.0,501.7 326.0,502.0 327.0,502.2 328.0,502.5 329.0,502.7 330.0,502.9 331.0,503.1 332.0,503.2 333.0,503.4 334.0,503.5 335.0,503.6 335.0,503.6Z" fill="rgba(255,255,38,0.400)" stroke="#111" stroke-width="0.95" stroke-linejoin="round"/>
<path d="M80.0,503.6L80.0,503.6 81.0,503.5 82.0,503.5 83.0,503.5 84.0,503.5 85.0,503.4 86.0,503.4 87.0,503.3 88.0,503.2 89.0,503.1 90.0,503.1 91.0,503.0 92.0,502.9 93.0,502.8 94.0,502.7 95.0,502.6 96.0,502.4 97.0,502.2 98.0,502.0 99.0,501.7 100.0,501.4 101.0,501.0 102.0,500.7 103.0,500.4 104.0,500.0 105.0,499.7 106.0,499.4 107.0,499.1 108.0,498.8 109.0,498.5 110.0,498.2 111.0,497.8 112.0,497.5 113.0,497.1 114.0,496.8 115.0,496.5 116.0,496.2 117.0,495.9 118.0,495.6 119.0,495.4 120.0,495.2 121.0,495.0 122.0,494.9 123.0,494.9 124.0,494.9 125.0,494.9 126.0,494.9 127.0,495.0 128.0,495.1 129.0,495.2 130.0,495.3 131.0,495.5 132.0,495.6 133.0,495.7 134.0,495.9 135.0,496.1 136.0,496.2 137.0,496.4 138.0,496.6 139.0,496.9 140.0,497.2 141.0,497.5 142.0,497.8 143.0,498.1 144.0,498.5 145.0,498.8 146.0,499.1 147.0,499.4 148.0,499.6 149.0,499.9 150.0,500.1 151.0,500.2 152.0,500.4 153.0,500.6 154.0,500.8 155.0,500.9 156.0,501.1 157.0,501.2 158.0,501.3 159.0,501.3 160.0,501.4 161.0,501.3 162.0,501.3 163.0,501.3 164.0,501.3 165.0,501.2 166.0,501.2 167.0,501.2 168.0,501.1 169.0,501.1 170.0,501.0 171.0,501.0 172.0,500.9 173.0,500.9 174.0,500.8 175.0,500.8 176.0,500.7 177.0,500.6 178.0,500.6 179.0,500.5 180.0,500.5 181.0,500.4 182.0,500.4 183.0,500.3 184.0,500.2 185.0,500.2 186.0,500.1 187.0,500.0 188.0,500.0 189.0,499.9 190.0,499.8 191.0,499.7 192.0,499.6 193.0,499.5 194.0,499.4 195.0,499.3 196.0,499.2 197.0,499.1 198.0,499.0 199.0,498.9 200.0,498.8 201.0,498.6 202.0,498.5 203.0,498.4 204.0,498.2 205.0,498.1 206.0,498.0 207.0,497.8 208.0,497.6 209.0,497.5 210.0,497.3 211.0,497.1 212.0,496.8 213.0,496.5 214.0,496.1 215.0,495.7 216.0,495.2 217.0,494.7 218.0,494.1 219.0,493.6 220.0,493.1 221.0,492.6 222.0,492.2 223.0,491.8 224.0,491.5 225.0,491.2 226.0,491.0 227.0,490.8 228.0,490.5 229.0,490.2 230.0,489.9 231.0,489.5 232.0,489.1 233.0,488.6 234.0,488.2 235.0,487.7 236.0,487.2 237.0,486.8 238.0,486.3 239.0,485.8 240.0,485.4 241.0,485.0 242.0,484.7 243.0,484.4 244.0,484.0 245.0,483.7 246.0,483.4 247.0,483.1 248.0,482.8 249.0,482.5 250.0,482.2 251.0,481.9 252.0,481.7 253.0,481.5 254.0,481.3 255.0,481.1 256.0,481.0 257.0,480.9 258.0,480.9 259.0,480.8 260.0,480.7 261.0,480.7 262.0,480.6 263.0,480.6 264.0,480.6 265.0,480.5 266.0,480.5 267.0,480.5 268.0,480.4 269.0,480.4 270.0,480.4 271.0,480.4 272.0,480.4 273.0,480.4 274.0,480.4 275.0,480.4 276.0,480.5 277.0,480.7 278.0,480.8 279.0,481.0 280.0,481.1 281.0,481.3 282.0,481.5 283.0,481.8 284.0,482.0 285.0,482.2 286.0,482.5 287.0,482.6 288.0,482.8 289.0,483.0 290.0,483.2 291.0,483.4 292.0,483.6 293.0,483.9 294.0,484.2 295.0,484.5 296.0,484.9 297.0,485.3 298.0,485.7 299.0,486.1 300.0,486.5 301.0,486.9 302.0,487.4 303.0,487.9 304.0,488.4 305.0,488.9 306.0,489.5 307.0,490.0 308.0,490.6 309.0,491.2 310.0,491.8 311.0,492.4 312.0,493.0 313.0,493.6 314.0,494.2 315.0,494.8 316.0,495.3 317.0,495.8 318.0,496.3 319.0,496.8 320.0,497.3 321.0,497.8 322.0,498.2 323.0,498.7 324.0,499.1 325.0,499.5 326.0,499.9 327.0,500.3 328.0,500.7 329.0,501.0 330.0,501.3 331.0,501.7 332.0,502.0 333.0,502.2 334.0,502.5 335.0,502.7 336.0,502.8 337.0,502.9 338.0,503.0 339.0,503.1 340.0,503.2 341.0,503.2 342.0,503.3 343.0,503.4 344.0,503.4 345.0,503.4 346.0,503.5 347.0,503.5 348.0,503.5 349.0,503.6 349.0,503.6Z" fill="rgba(105,200,80,0.400)" stroke="#111" stroke-width="0.95" stroke-linejoin="round"/>
<path d="M75.0,503.6L75.0,503.6 76.0,503.5 77.0,503.5 78.0,503.5 79.0,503.5 80.0,503.5 81.0,503.4 82.0,503.4 83.0,503.4 84.0,503.3 85.0,503.3 86.0,503.2 87.0,503.1 88.0,503.1 89.0,503.0 90.0,502.9 91.0,502.9 92.0,502.8 93.0,502.7 94.0,502.6 95.0,502.6 96.0,502.5 97.0,502.3 98.0,502.2 99.0,502.0 100.0,501.8 101.0,501.6 102.0,501.4 103.0,501.2 104.0,501.0 105.0,500.8 106.0,500.6 107.0,500.5 108.0,500.3 109.0,500.1 110.0,499.9 111.0,499.8 112.0,499.6 113.0,499.4 114.0,499.2 115.0,499.0 116.0,498.9 117.0,498.7 118.0,498.6 119.0,498.4 120.0,498.3 121.0,498.2 122.0,498.2 123.0,498.2 124.0,498.2 125.0,498.2 126.0,498.2 127.0,498.3 128.0,498.3 129.0,498.4 130.0,498.5 131.0,498.5 132.0,498.6 133.0,498.7 134.0,498.8 135.0,498.9 136.0,498.9 137.0,499.0 138.0,499.0 139.0,499.0 140.0,499.1 141.0,499.0 142.0,499.0 143.0,499.0 144.0,499.0 145.0,499.0 146.0,498.9 147.0,498.9 148.0,498.8 149.0,498.8 150.0,498.8 151.0,498.7 152.0,498.6 153.0,498.5 154.0,498.4 155.0,498.3 156.0,498.2 157.0,498.0 158.0,497.9 159.0,497.8 160.0,497.7 161.0,497.5 162.0,497.4 163.0,497.3 164.0,497.2 165.0,497.0 166.0,496.9 167.0,496.8 168.0,496.7 169.0,496.5 170.0,496.4 171.0,496.3 172.0,496.1 173.0,496.0 174.0,495.8 175.0,495.7 176.0,495.6 177.0,495.4 178.0,495.3 179.0,495.1 180.0,494.9 181.0,494.8 182.0,494.6 183.0,494.5 184.0,494.3 185.0,494.2 186.0,494.0 187.0,493.9 188.0,493.7 189.0,493.6 190.0,493.5 191.0,493.4 192.0,493.2 193.0,493.1 194.0,493.0 195.0,492.9 196.0,492.8 197.0,492.7 198.0,492.6 199.0,492.5 200.0,492.4 201.0,492.3 202.0,492.2 203.0,492.2 204.0,492.1 205.0,492.0 206.0,491.9 207.0,491.8 208.0,491.7 209.0,491.5 210.0,491.4 211.0,491.3 212.0,491.2 213.0,491.1 214.0,491.1 215.0,491.0 216.0,490.9 217.0,490.8 218.0,490.8 219.0,490.7 220.0,490.7 221.0,490.7 222.0,490.7 223.0,490.7 224.0,490.6 225.0,490.6 226.0,490.6 227.0,490.6 228.0,490.5 229.0,490.5 230.0,490.4 231.0,490.3 232.0,490.2 233.0,490.0 234.0,489.9 235.0,489.7 236.0,489.6 237.0,489.4 238.0,489.3 239.0,489.2 240.0,489.0 241.0,488.9 242.0,488.8 243.0,488.6 244.0,488.5 245.0,488.3 246.0,488.2 247.0,488.0 248.0,487.9 249.0,487.7 250.0,487.6 251.0,487.4 252.0,487.2 253.0,487.1 254.0,486.9 255.0,486.7 256.0,486.6 257.0,486.4 258.0,486.2 259.0,486.0 260.0,485.8 261.0,485.6 262.0,485.3 263.0,485.1 264.0,484.8 265.0,484.6 266.0,484.4 267.0,484.2 268.0,484.0 269.0,483.9 270.0,483.8 271.0,483.8 272.0,483.8 273.0,483.8 274.0,483.8 275.0,483.8 276.0,483.8 277.0,483.8 278.0,483.9 279.0,483.9 280.0,484.0 281.0,484.1 282.0,484.3 283.0,484.6 284.0,485.0 285.0,485.2 286.0,485.5 287.0,485.7 288.0,485.9 289.0,486.2 290.0,486.4 291.0,486.7 292.0,486.9 293.0,487.2 294.0,487.6 295.0,488.0 296.0,488.4 297.0,488.8 298.0,489.3 299.0,489.7 300.0,490.2 301.0,490.6 302.0,491.1 303.0,491.6 304.0,492.1 305.0,492.6 306.0,493.1 307.0,493.6 308.0,494.1 309.0,494.7 310.0,495.3 311.0,495.9 312.0,496.5 313.0,497.1 314.0,497.6 315.0,498.0 316.0,498.4 317.0,498.8 318.0,499.1 319.0,499.5 320.0,499.8 321.0,500.1 322.0,500.4 323.0,500.7 324.0,501.0 325.0,501.2 326.0,501.5 327.0,501.7 328.0,501.9 329.0,502.1 330.0,502.3 331.0,502.5 332.0,502.7 333.0,502.9 334.0,503.0 335.0,503.2 336.0,503.3 337.0,503.3 338.0,503.4 339.0,503.5 340.0,503.6 340.0,503.6Z" fill="rgba(255,3,3,0.440)" stroke="#111" stroke-width="0.95" stroke-linejoin="round"/>
<rect x="41.00" y="396.75" width="308.50" height="111.00" fill="none" stroke="#222" stroke-width="1"/>
<line x1="35.50" y1="503.55" x2="41.00" y2="503.55" stroke="#222" stroke-width="1"/>
<line x1="35.50" y1="483.75" x2="41.00" y2="483.75" stroke="#222" stroke-width="1"/>
<line x1="35.50" y1="463.95" x2="41.00" y2="463.95" stroke="#222" stroke-width="1"/>
<line x1="35.50" y1="444.15" x2="41.00" y2="444.15" stroke="#222" stroke-width="1"/>
<line x1="35.50" y1="424.35" x2="41.00" y2="424.35" stroke="#222" stroke-width="1"/>
<line x1="35.50" y1="404.55" x2="41.00" y2="404.55" stroke="#222" stroke-width="1"/>
<text x="0" y="0" font-size="12.5" text-anchor="middle" transform="translate(28.8,503.55) rotate(-90)" fill="#111">0.0</text>
<text x="0" y="0" font-size="12.5" text-anchor="middle" transform="translate(28.8,463.95) rotate(-90)" fill="#111">1.0</text>
<text x="0" y="0" font-size="12.5" text-anchor="middle" transform="translate(28.8,424.35) rotate(-90)" fill="#111">2.0</text>
<line x1="61.50" y1="507.75" x2="61.50" y2="513.25" stroke="#222" stroke-width="1"/>
<line x1="123.00" y1="507.75" x2="123.00" y2="513.25" stroke="#222" stroke-width="1"/>
<line x1="184.50" y1="507.75" x2="184.50" y2="513.25" stroke="#222" stroke-width="1"/>
<line x1="246.00" y1="507.75" x2="246.00" y2="513.25" stroke="#222" stroke-width="1"/>
<line x1="307.50" y1="507.75" x2="307.50" y2="513.25" stroke="#222" stroke-width="1"/>
<line x1="371.50" y1="503.55" x2="677.00" y2="503.55" stroke="#eeeeee" stroke-width="1"/>
<path d="M397.6,503.6L397.6,503.6 398.6,503.5 399.6,503.5 400.6,503.5 401.6,503.5 402.6,503.4 403.6,503.4 404.6,503.3 405.6,503.2 406.6,503.2 407.6,503.1 408.6,503.0 409.6,502.9 410.6,502.8 411.6,502.6 412.6,502.5 413.6,502.3 414.6,502.0 415.6,501.7 416.6,501.3 417.6,500.7 418.6,500.0 419.6,499.3 420.6,498.6 421.6,497.8 422.6,496.9 423.6,495.9 424.6,494.8 425.6,493.5 426.6,491.9 427.6,490.4 428.6,488.8 429.6,487.3 430.6,485.8 431.6,484.4 432.6,483.2 433.6,482.0 434.6,480.9 435.6,479.8 436.6,479.0 437.6,478.3 438.6,477.9 439.6,477.5 440.6,477.1 441.6,476.8 442.6,476.6 443.6,476.6 444.6,476.7 445.6,476.9 446.6,477.3 447.6,477.7 448.6,478.3 449.6,478.8 450.6,479.8 451.6,481.1 452.6,482.4 453.6,483.7 454.6,485.2 455.6,486.5 456.6,487.7 457.6,489.0 458.6,490.2 459.6,491.1 460.6,491.6 461.6,491.9 462.6,492.1 463.6,492.3 464.6,492.5 465.6,492.7 466.6,492.8 467.6,492.9 468.6,493.0 469.6,493.0 470.6,493.0 471.6,493.0 472.6,493.0 473.6,492.9 474.6,492.9 475.6,492.8 476.6,492.7 477.6,492.6 478.6,492.5 479.6,492.4 480.6,492.2 481.6,492.1 482.6,491.9 483.6,491.8 484.6,491.6 485.6,491.4 486.6,491.2 487.6,490.9 488.6,490.5 489.6,490.1 490.6,489.6 491.6,489.1 492.6,488.6 493.6,488.1 494.6,487.5 495.6,487.0 496.6,486.5 497.6,486.1 498.6,485.5 499.6,485.0 500.6,484.3 501.6,483.7 502.6,483.2 503.6,482.7 504.6,482.4 505.6,482.2 506.6,482.2 507.6,482.2 508.6,482.1 509.6,482.1 510.6,482.1 511.6,482.1 512.6,482.1 513.6,482.1 514.6,482.2 515.6,482.3 516.6,482.5 517.6,482.8 518.6,483.1 519.6,483.4 520.6,483.7 521.6,484.0 522.6,484.4 523.6,484.7 524.6,484.9 525.6,485.2 526.6,485.4 527.6,485.7 528.6,485.9 529.6,486.2 530.6,486.4 531.6,486.7 532.6,486.9 533.6,487.2 534.6,487.4 535.6,487.6 536.6,487.9 537.6,488.1 538.6,488.3 539.6,488.5 540.6,488.7 541.6,488.8 542.6,489.0 543.6,489.1 544.6,489.3 545.6,489.4 546.6,489.6 547.6,489.7 548.6,489.8 549.6,490.0 550.6,490.1 551.6,490.2 552.6,490.3 553.6,490.5 554.6,490.6 555.6,490.7 556.6,490.8 557.6,491.0 558.6,491.1 559.6,491.3 560.6,491.4 561.6,491.6 562.6,491.8 563.6,492.0 564.6,492.2 565.6,492.4 566.6,492.6 567.6,492.8 568.6,493.0 569.6,493.3 570.6,493.5 571.6,493.7 572.6,494.0 573.6,494.3 574.6,494.5 575.6,494.8 576.6,495.0 577.6,495.3 578.6,495.6 579.6,495.9 580.6,496.1 581.6,496.4 582.6,496.7 583.6,497.0 584.6,497.2 585.6,497.5 586.6,497.8 587.6,498.1 588.6,498.3 589.6,498.7 590.6,499.0 591.6,499.3 592.6,499.6 593.6,499.9 594.6,500.2 595.6,500.5 596.6,500.8 597.6,501.0 598.6,501.3 599.6,501.5 600.6,501.7 601.6,501.8 602.6,502.0 603.6,502.2 604.6,502.3 605.6,502.5 606.6,502.7 607.6,502.8 608.6,502.9 609.6,503.1 610.6,503.2 611.6,503.3 612.6,503.4 613.6,503.5 614.6,503.5 615.0,503.6 615.0,503.6Z" fill="rgba(135,32,225,0.400)" stroke="#111" stroke-width="0.95" stroke-linejoin="round"/>
<path d="M420.0,503.6L420.0,503.6 421.0,503.5 422.0,503.5 423.0,503.5 424.0,503.5 425.0,503.5 426.0,503.4 427.0,503.4 428.0,503.4 429.0,503.4 430.0,503.3 431.0,503.3 432.0,503.2 433.0,503.2 434.0,503.1 435.0,503.1 436.0,503.0 437.0,503.0 438.0,502.9 439.0,502.9 440.0,502.8 441.0,502.8 442.0,502.7 443.0,502.7 444.0,502.6 445.0,502.6 446.0,502.5 447.0,502.4 448.0,502.4 449.0,502.3 450.0,502.2 451.0,502.1 452.0,502.0 453.0,501.9 454.0,501.8 455.0,501.7 456.0,501.6 457.0,501.5 458.0,501.4 459.0,501.3 460.0,501.2 461.0,501.1 462.0,500.9 463.0,500.8 464.0,500.7 465.0,500.6 466.0,500.4 467.0,500.3 468.0,500.1 469.0,499.9 470.0,499.8 471.0,499.6 472.0,499.4 473.0,499.2 474.0,499.0 475.0,498.7 476.0,498.5 477.0,498.3 478.0,498.0 479.0,497.8 480.0,497.6 481.0,497.3 482.0,497.0 483.0,496.7 484.0,496.5 485.0,496.2 486.0,495.8 487.0,495.5 488.0,495.2 489.0,494.8 490.0,494.4 491.0,494.0 492.0,493.6 493.0,493.1 494.0,492.5 495.0,491.9 496.0,491.3 497.0,490.6 498.0,489.9 499.0,489.2 500.0,488.6 501.0,487.9 502.0,487.2 503.0,486.5 504.0,485.7 505.0,485.0 506.0,484.3 507.0,483.6 508.0,482.7 509.0,481.8 510.0,480.9 511.0,480.1 512.0,479.4 513.0,478.9 514.0,478.8 515.0,478.7 516.0,478.7 517.0,478.6 518.0,478.6 519.0,478.6 520.0,478.6 521.0,478.6 522.0,478.8 523.0,479.0 524.0,479.3 525.0,479.6 526.0,479.8 527.0,480.1 528.0,480.3 529.0,480.6 530.0,480.8 531.0,481.1 532.0,481.4 533.0,481.6 534.0,481.8 535.0,482.1 536.0,482.3 537.0,482.4 538.0,482.6 539.0,482.8 540.0,482.9 541.0,483.1 542.0,483.3 543.0,483.4 544.0,483.6 545.0,483.8 546.0,484.0 547.0,484.2 548.0,484.4 549.0,484.7 550.0,485.0 551.0,485.3 552.0,485.7 553.0,486.1 554.0,486.5 555.0,486.9 556.0,487.4 557.0,487.8 558.0,488.3 559.0,488.7 560.0,489.2 561.0,489.6 562.0,490.0 563.0,490.4 564.0,490.8 565.0,491.2 566.0,491.5 567.0,491.9 568.0,492.3 569.0,492.7 570.0,493.1 571.0,493.5 572.0,493.8 573.0,494.2 574.0,494.6 575.0,494.9 576.0,495.3 577.0,495.6 578.0,496.0 579.0,496.3 580.0,496.7 581.0,497.0 582.0,497.3 583.0,497.6 584.0,497.9 585.0,498.2 586.0,498.5 587.0,498.8 588.0,499.1 589.0,499.4 590.0,499.6 591.0,499.9 592.0,500.2 593.0,500.5 594.0,500.7 595.0,501.0 596.0,501.2 597.0,501.4 598.0,501.6 599.0,501.8 600.0,502.0 601.0,502.1 602.0,502.3 603.0,502.4 604.0,502.5 605.0,502.7 606.0,502.8 607.0,502.9 608.0,503.0 609.0,503.1 610.0,503.2 611.0,503.3 612.0,503.4 613.0,503.5 614.0,503.5 615.0,503.6 615.0,503.6Z" fill="rgba(232,118,232,0.400)" stroke="#111" stroke-width="0.95" stroke-linejoin="round"/>
<path d="M405.0,503.6L405.0,503.6 406.0,503.5 407.0,503.5 408.0,503.5 409.0,503.5 410.0,503.4 411.0,503.3 412.0,503.3 413.0,503.2 414.0,503.1 415.0,503.0 416.0,502.9 417.0,502.9 418.0,502.8 419.0,502.7 420.0,502.6 421.0,502.4 422.0,502.3 423.0,502.1 424.0,501.9 425.0,501.6 426.0,501.4 427.0,501.2 428.0,500.9 429.0,500.7 430.0,500.4 431.0,500.2 432.0,500.1 433.0,499.9 434.0,499.7 435.0,499.5 436.0,499.3 437.0,499.1 438.0,498.9 439.0,498.7 440.0,498.6 441.0,498.5 442.0,498.4 443.0,498.4 444.0,498.4 445.0,498.4 446.0,498.4 447.0,498.4 448.0,498.4 449.0,498.4 450.0,498.5 451.0,498.5 452.0,498.5 453.0,498.5 454.0,498.5 455.0,498.6 456.0,498.5 457.0,498.5 458.0,498.5 459.0,498.4 460.0,498.3 461.0,498.2 462.0,498.1 463.0,498.0 464.0,497.8 465.0,497.7 466.0,497.6 467.0,497.4 468.0,497.3 469.0,497.2 470.0,497.1 471.0,496.9 472.0,496.8 473.0,496.6 474.0,496.5 475.0,496.3 476.0,496.2 477.0,496.0 478.0,495.8 479.0,495.7 480.0,495.5 481.0,495.3 482.0,495.1 483.0,494.9 484.0,494.7 485.0,494.5 486.0,494.3 487.0,494.1 488.0,493.9 489.0,493.7 490.0,493.6 491.0,493.3 492.0,493.1 493.0,492.9 494.0,492.7 495.0,492.5 496.0,492.3 497.0,492.1 498.0,491.8 499.0,491.6 500.0,491.4 501.0,491.1 502.0,490.9 503.0,490.6 504.0,490.4 505.0,490.1 506.0,489.8 507.0,489.5 508.0,489.2 509.0,488.9 510.0,488.6 511.0,488.3 512.0,488.0 513.0,487.7 514.0,487.4 515.0,487.1 516.0,486.7 517.0,486.3 518.0,485.9 519.0,485.5 520.0,485.1 521.0,484.8 522.0,484.6 523.0,484.5 524.0,484.5 525.0,484.6 526.0,484.7 527.0,484.9 528.0,485.2 529.0,485.4 530.0,485.6 531.0,485.7 532.0,485.9 533.0,486.0 534.0,486.2 535.0,486.3 536.0,486.5 537.0,486.6 538.0,486.8 539.0,487.0 540.0,487.2 541.0,487.4 542.0,487.6 543.0,487.8 544.0,488.1 545.0,488.3 546.0,488.6 547.0,488.8 548.0,489.1 549.0,489.3 550.0,489.6 551.0,489.8 552.0,490.0 553.0,490.2 554.0,490.4 555.0,490.6 556.0,490.8 557.0,491.0 558.0,491.2 559.0,491.4 560.0,491.6 561.0,491.8 562.0,492.0 563.0,492.2 564.0,492.5 565.0,492.8 566.0,493.0 567.0,493.3 568.0,493.6 569.0,493.9 570.0,494.2 571.0,494.5 572.0,494.7 573.0,495.0 574.0,495.3 575.0,495.6 576.0,495.8 577.0,496.0 578.0,496.3 579.0,496.5 580.0,496.7 581.0,497.0 582.0,497.2 583.0,497.4 584.0,497.7 585.0,497.9 586.0,498.1 587.0,498.4 588.0,498.6 589.0,498.9 590.0,499.1 591.0,499.4 592.0,499.7 593.0,499.9 594.0,500.2 595.0,500.5 596.0,500.7 597.0,500.9 598.0,501.2 599.0,501.4 600.0,501.6 601.0,501.7 602.0,501.9 603.0,502.1 604.0,502.2 605.0,502.4 606.0,502.5 607.0,502.7 608.0,502.8 609.0,502.9 610.0,503.1 611.0,503.2 612.0,503.3 613.0,503.4 614.0,503.5 615.0,503.6 615.0,503.6Z" fill="rgba(82,125,180,0.400)" stroke="#111" stroke-width="0.95" stroke-linejoin="round"/>
<path d="M440.0,503.6L440.0,503.6 441.0,503.5 442.0,503.5 443.0,503.5 444.0,503.5 445.0,503.5 446.0,503.5 447.0,503.5 448.0,503.5 449.0,503.4 450.0,503.4 451.0,503.4 452.0,503.4 453.0,503.3 454.0,503.3 455.0,503.2 456.0,503.2 457.0,503.2 458.0,503.1 459.0,503.1 460.0,503.0 461.0,503.0 462.0,503.0 463.0,502.9 464.0,502.9 465.0,502.8 466.0,502.8 467.0,502.7 468.0,502.7 469.0,502.6 470.0,502.6 471.0,502.5 472.0,502.4 473.0,502.4 474.0,502.3 475.0,502.2 476.0,502.1 477.0,502.0 478.0,501.9 479.0,501.8 480.0,501.7 481.0,501.6 482.0,501.5 483.0,501.4 484.0,501.3 485.0,501.1 486.0,501.0 487.0,500.9 488.0,500.7 489.0,500.6 490.0,500.4 491.0,500.2 492.0,500.1 493.0,499.9 494.0,499.7 495.0,499.6 496.0,499.4 497.0,499.1 498.0,498.9 499.0,498.6 500.0,498.3 501.0,498.0 502.0,497.7 503.0,497.4 504.0,497.0 505.0,496.6 506.0,496.2 507.0,495.8 508.0,495.4 509.0,495.0 510.0,494.6 511.0,494.1 512.0,493.5 513.0,493.0 514.0,492.4 515.0,491.7 516.0,491.1 517.0,490.4 518.0,489.8 519.0,489.1 520.0,488.6 521.0,488.0 522.0,487.5 523.0,487.0 524.0,486.4 525.0,485.9 526.0,485.4 527.0,484.8 528.0,484.2 529.0,483.5 530.0,482.7 531.0,481.8 532.0,481.0 533.0,480.1 534.0,479.4 535.0,478.7 536.0,478.2 537.0,477.8 538.0,477.4 539.0,477.0 540.0,476.7 541.0,476.3 542.0,476.0 543.0,475.8 544.0,475.5 545.0,475.3 546.0,475.2 547.0,475.1 548.0,475.1 549.0,475.1 550.0,475.2 551.0,475.3 552.0,475.6 553.0,475.8 554.0,476.1 555.0,476.4 556.0,476.8 557.0,477.1 558.0,477.5 559.0,478.0 560.0,478.6 561.0,479.2 562.0,479.9 563.0,480.6 564.0,481.4 565.0,482.1 566.0,482.8 567.0,483.5 568.0,484.0 569.0,484.5 570.0,485.0 571.0,485.4 572.0,485.8 573.0,486.2 574.0,486.5 575.0,486.9 576.0,487.2 577.0,487.6 578.0,487.9 579.0,488.3 580.0,488.6 581.0,489.0 582.0,489.4 583.0,489.7 584.0,490.1 585.0,490.5 586.0,490.8 587.0,491.2 588.0,491.5 589.0,491.9 590.0,492.3 591.0,492.7 592.0,493.1 593.0,493.5 594.0,494.0 595.0,494.4 596.0,495.0 597.0,495.5 598.0,496.0 599.0,496.5 600.0,497.0 601.0,497.4 602.0,497.9 603.0,498.2 604.0,498.5 605.0,498.8 606.0,499.0 607.0,499.2 608.0,499.5 609.0,499.7 610.0,499.9 611.0,500.0 612.0,500.2 613.0,500.3 614.0,500.5 615.0,500.6 616.0,500.7 617.0,500.7 618.0,500.8 619.0,500.9 620.0,500.9 621.0,501.0 622.0,501.0 623.0,501.1 624.0,501.1 625.0,501.2 626.0,501.2 627.0,501.3 628.0,501.3 629.0,501.3 630.0,501.4 631.0,501.4 632.0,501.4 633.0,501.4 634.0,501.4 635.0,501.4 636.0,501.4 637.0,501.5 638.0,501.5 639.0,501.5 640.0,501.5 641.0,501.5 642.0,501.6 643.0,501.6 644.0,501.6 645.0,501.7 646.0,501.8 647.0,501.9 648.0,502.0 649.0,502.1 650.0,502.2 651.0,502.3 652.0,502.4 653.0,502.4 654.0,502.5 655.0,502.6 656.0,502.7 657.0,502.8 658.0,502.9 659.0,502.9 660.0,503.0 661.0,503.1 662.0,503.2 663.0,503.2 664.0,503.3 665.0,503.3 666.0,503.3 667.0,503.4 668.0,503.4 669.0,503.5 670.0,503.5 671.0,503.5 672.0,503.6 672.0,503.6Z" fill="rgba(168,168,168,0.400)" stroke="#111" stroke-width="0.95" stroke-linejoin="round"/>
<path d="M405.0,503.6L405.0,503.6 406.0,503.5 407.0,503.5 408.0,503.4 409.0,503.4 410.0,503.3 411.0,503.1 412.0,503.0 413.0,502.8 414.0,502.7 415.0,502.5 416.0,502.3 417.0,502.1 418.0,501.9 419.0,501.7 420.0,501.6 421.0,501.3 422.0,501.0 423.0,500.7 424.0,500.4 425.0,500.0 426.0,499.6 427.0,499.1 428.0,498.7 429.0,498.3 430.0,497.9 431.0,497.4 432.0,497.1 433.0,496.6 434.0,496.2 435.0,495.7 436.0,495.3 437.0,494.8 438.0,494.3 439.0,493.9 440.0,493.5 441.0,493.2 442.0,492.9 443.0,492.7 444.0,492.6 445.0,492.5 446.0,492.5 447.0,492.4 448.0,492.4 449.0,492.3 450.0,492.3 451.0,492.3 452.0,492.2 453.0,492.2 454.0,492.1 455.0,492.1 456.0,492.0 457.0,491.8 458.0,491.7 459.0,491.6 460.0,491.4 461.0,491.3 462.0,491.1 463.0,491.0 464.0,490.9 465.0,490.7 466.0,490.6 467.0,490.4 468.0,490.2 469.0,490.1 470.0,489.9 471.0,489.8 472.0,489.6 473.0,489.5 474.0,489.3 475.0,489.2 476.0,489.0 477.0,488.9 478.0,488.7 479.0,488.6 480.0,488.4 481.0,488.3 482.0,488.2 483.0,488.0 484.0,487.9 485.0,487.8 486.0,487.6 487.0,487.5 488.0,487.4 489.0,487.2 490.0,487.1 491.0,487.0 492.0,486.9 493.0,486.8 494.0,486.7 495.0,486.6 496.0,486.5 497.0,486.4 498.0,486.3 499.0,486.2 500.0,486.1 501.0,485.9 502.0,485.8 503.0,485.7 504.0,485.6 505.0,485.5 506.0,485.4 507.0,485.3 508.0,485.2 509.0,485.1 510.0,485.1 511.0,484.9 512.0,484.8 513.0,484.7 514.0,484.6 515.0,484.5 516.0,484.4 517.0,484.4 518.0,484.4 519.0,484.4 520.0,484.4 521.0,484.4 522.0,484.4 523.0,484.4 524.0,484.5 525.0,484.7 526.0,485.0 527.0,485.3 528.0,485.6 529.0,486.0 530.0,486.2 531.0,486.5 532.0,486.8 533.0,487.1 534.0,487.3 535.0,487.6 536.0,487.9 537.0,488.1 538.0,488.4 539.0,488.7 540.0,489.0 541.0,489.4 542.0,489.7 543.0,490.1 544.0,490.4 545.0,490.8 546.0,491.2 547.0,491.5 548.0,491.9 549.0,492.2 550.0,492.6 551.0,492.9 552.0,493.2 553.0,493.5 554.0,493.8 555.0,494.1 556.0,494.3 557.0,494.6 558.0,494.9 559.0,495.2 560.0,495.5 561.0,495.7 562.0,496.0 563.0,496.3 564.0,496.5 565.0,496.8 566.0,497.1 567.0,497.4 568.0,497.7 569.0,497.9 570.0,498.2 571.0,498.4 572.0,498.7 573.0,498.9 574.0,499.1 575.0,499.4 576.0,499.5 577.0,499.7 578.0,499.9 579.0,500.1 580.0,500.3 581.0,500.5 582.0,500.7 583.0,500.8 584.0,501.0 585.0,501.2 586.0,501.3 587.0,501.5 588.0,501.6 589.0,501.7 590.0,501.9 591.0,502.0 592.0,502.1 593.0,502.2 594.0,502.3 595.0,502.4 596.0,502.5 597.0,502.6 598.0,502.7 599.0,502.8 600.0,502.9 601.0,503.0 602.0,503.1 603.0,503.1 604.0,503.2 605.0,503.2 606.0,503.3 607.0,503.3 608.0,503.4 609.0,503.4 610.0,503.4 611.0,503.5 612.0,503.5 613.0,503.5 614.0,503.5 615.0,503.6 615.0,503.6Z" fill="rgba(0,255,255,0.310)" stroke="#111" stroke-width="0.95" stroke-linejoin="round"/>
<rect x="370.00" y="396.75" width="308.50" height="111.00" fill="none" stroke="#222" stroke-width="1"/>
<line x1="364.50" y1="503.55" x2="370.00" y2="503.55" stroke="#222" stroke-width="1"/>
<line x1="364.50" y1="483.75" x2="370.00" y2="483.75" stroke="#222" stroke-width="1"/>
<line x1="364.50" y1="463.95" x2="370.00" y2="463.95" stroke="#222" stroke-width="1"/>
<line x1="364.50" y1="444.15" x2="370.00" y2="444.15" stroke="#222" stroke-width="1"/>
<line x1="364.50" y1="424.35" x2="370.00" y2="424.35" stroke="#222" stroke-width="1"/>
<line x1="364.50" y1="404.55" x2="370.00" y2="404.55" stroke="#222" stroke-width="1"/>
<line x1="387.00" y1="507.75" x2="387.00" y2="513.25" stroke="#222" stroke-width="1"/>
<line x1="443.00" y1="507.75" x2="443.00" y2="513.25" stroke="#222" stroke-width="1"/>
<line x1="499.00" y1="507.75" x2="499.00" y2="513.25" stroke="#222" stroke-width="1"/>
<line x1="555.00" y1="507.75" x2="555.00" y2="513.25" stroke="#222" stroke-width="1"/>
<line x1="611.00" y1="507.75" x2="611.00" y2="513.25" stroke="#222" stroke-width="1"/>
<line x1="667.00" y1="507.75" x2="667.00" y2="513.25" stroke="#222" stroke-width="1"/>
<g stroke="rgba(120,90,40,0.65)" stroke-width="3.6" stroke-linecap="round"><line x1="206.90" y1="401.05" x2="206.90" y2="420.85"/><line x1="202.90" y1="413.75" x2="206.90" y2="420.85"/><line x1="210.90" y1="413.75" x2="206.90" y2="420.85"/></g>
<g stroke="rgba(255,0,255,0.6)" stroke-width="3.6" stroke-linecap="round"><line x1="181.50" y1="401.05" x2="181.50" y2="420.85"/><line x1="177.50" y1="413.75" x2="181.50" y2="420.85"/><line x1="185.50" y1="413.75" x2="181.50" y2="420.85"/></g>
<g stroke="rgba(255,255,0,0.65)" stroke-width="3.6" stroke-linecap="round"><line x1="225.50" y1="401.05" x2="225.50" y2="420.85"/><line x1="221.50" y1="413.75" x2="225.50" y2="420.85"/><line x1="229.50" y1="413.75" x2="225.50" y2="420.85"/></g>
<g stroke="rgba(60,180,60,0.55)" stroke-width="3.6" stroke-linecap="round"><line x1="246.60" y1="401.05" x2="246.60" y2="420.85"/><line x1="242.60" y1="413.75" x2="246.60" y2="420.85"/><line x1="250.60" y1="413.75" x2="246.60" y2="420.85"/></g>
<g stroke="rgba(255,0,0,0.65)" stroke-width="3.6" stroke-linecap="round"><line x1="234.40" y1="401.05" x2="234.40" y2="420.85"/><line x1="230.40" y1="413.75" x2="234.40" y2="420.85"/><line x1="238.40" y1="413.75" x2="234.40" y2="420.85"/></g>
<g stroke="rgba(140,30,220,0.65)" stroke-width="3.6" stroke-linecap="round"><line x1="485.90" y1="401.05" x2="485.90" y2="420.85"/><line x1="481.90" y1="413.75" x2="485.90" y2="420.85"/><line x1="489.90" y1="413.75" x2="485.90" y2="420.85"/></g>
<g stroke="rgba(230,90,230,0.55)" stroke-width="3.6" stroke-linecap="round"><line x1="528.50" y1="401.05" x2="528.50" y2="420.85"/><line x1="524.50" y1="413.75" x2="528.50" y2="420.85"/><line x1="532.50" y1="413.75" x2="528.50" y2="420.85"/></g>
<g stroke="rgba(50,100,160,0.55)" stroke-width="3.6" stroke-linecap="round"><line x1="519.30" y1="401.05" x2="519.30" y2="420.85"/><line x1="515.30" y1="413.75" x2="519.30" y2="420.85"/><line x1="523.30" y1="413.75" x2="519.30" y2="420.85"/></g>
<g stroke="rgba(140,140,140,0.6)" stroke-width="3.6" stroke-linecap="round"><line x1="554.60" y1="401.05" x2="554.60" y2="420.85"/><line x1="550.60" y1="413.75" x2="554.60" y2="420.85"/><line x1="558.60" y1="413.75" x2="554.60" y2="420.85"/></g>
<g stroke="rgba(0,240,255,0.6)" stroke-width="3.6" stroke-linecap="round"><line x1="509.00" y1="401.05" x2="509.00" y2="420.85"/><line x1="505.00" y1="413.75" x2="509.00" y2="420.85"/><line x1="513.00" y1="413.75" x2="509.00" y2="420.85"/></g>
<text x="54.5" y="413.76" font-size="12.75" font-weight="bold" fill="#000">Regime 4</text>
<line x1="42.50" y1="635.30" x2="348.00" y2="635.30" stroke="#eeeeee" stroke-width="1"/>
<path d="M127.0,635.3L127.0,635.3 128.0,635.3 129.0,635.3 130.0,635.3 131.0,635.2 132.0,635.2 133.0,635.2 134.0,635.1 135.0,635.1 136.0,635.0 137.0,635.0 138.0,634.9 139.0,634.8 140.0,634.6 141.0,634.5 142.0,634.3 143.0,634.0 144.0,633.6 145.0,633.2 146.0,632.8 147.0,632.3 148.0,631.8 149.0,631.3 150.0,630.8 151.0,630.3 152.0,629.8 153.0,629.3 154.0,628.7 155.0,628.1 156.0,627.6 157.0,627.0 158.0,626.4 159.0,625.8 160.0,625.2 161.0,624.7 162.0,624.1 163.0,623.6 164.0,623.1 165.0,622.6 166.0,622.1 167.0,621.5 168.0,621.0 169.0,620.5 170.0,620.0 171.0,619.5 172.0,619.0 173.0,618.5 174.0,618.0 175.0,617.5 176.0,617.0 177.0,616.6 178.0,616.1 179.0,615.6 180.0,615.1 181.0,614.6 182.0,614.1 183.0,613.6 184.0,613.1 185.0,612.5 186.0,612.0 187.0,611.4 188.0,610.8 189.0,610.3 190.0,609.7 191.0,609.1 192.0,608.6 193.0,608.0 194.0,607.5 195.0,606.9 196.0,606.4 197.0,605.8 198.0,605.3 199.0,604.9 200.0,604.6 201.0,604.4 202.0,604.2 203.0,604.2 204.0,604.2 205.0,604.3 206.0,604.3 207.0,604.5 208.0,604.8 209.0,605.3 210.0,605.9 211.0,606.6 212.0,607.1 213.0,607.6 214.0,608.0 215.0,608.1 216.0,608.1 217.0,608.0 218.0,608.0 219.0,607.9 220.0,607.8 221.0,607.7 222.0,607.7 223.0,607.6 224.0,607.5 225.0,607.4 226.0,607.4 227.0,607.3 228.0,607.3 229.0,607.4 230.0,607.5 231.0,607.8 232.0,608.2 233.0,608.6 234.0,609.1 235.0,609.7 236.0,610.2 237.0,610.8 238.0,611.3 239.0,611.9 240.0,612.6 241.0,613.3 242.0,614.1 243.0,615.0 244.0,615.8 245.0,616.7 246.0,617.5 247.0,618.3 248.0,619.1 249.0,619.9 250.0,620.6 251.0,621.4 252.0,622.2 253.0,622.9 254.0,623.6 255.0,624.3 256.0,624.9 257.0,625.6 258.0,626.2 259.0,626.8 260.0,627.4 261.0,628.0 262.0,628.5 263.0,629.0 264.0,629.4 265.0,629.8 266.0,630.1 267.0,630.4 268.0,630.7 269.0,631.0 270.0,631.3 271.0,631.6 272.0,631.8 273.0,632.0 274.0,632.3 275.0,632.5 276.0,632.6 277.0,632.8 278.0,633.0 279.0,633.2 280.0,633.3 281.0,633.4 282.0,633.6 283.0,633.7 284.0,633.8 285.0,633.9 286.0,634.1 287.0,634.2 288.0,634.3 289.0,634.4 290.0,634.5 291.0,634.5 292.0,634.6 293.0,634.7 294.0,634.7 295.0,634.8 296.0,634.8 297.0,634.9 298.0,634.9 299.0,635.0 300.0,635.0 301.0,635.1 302.0,635.1 303.0,635.2 304.0,635.2 305.0,635.2 306.0,635.3 307.0,635.3 308.0,635.3 309.0,635.3 310.0,635.3 310.0,635.3Z" fill="rgba(142,115,58,0.400)" stroke="#111" stroke-width="0.95" stroke-linejoin="round"/>
<path d="M160.0,635.3L160.0,635.3 161.0,635.3 162.0,635.3 163.0,635.2 164.0,635.2 165.0,635.2 166.0,635.1 167.0,635.1 168.0,635.0 169.0,634.9 170.0,634.9 171.0,634.8 172.0,634.6 173.0,634.5 174.0,634.3 175.0,634.1 176.0,633.7 177.0,633.4 178.0,632.9 179.0,632.5 180.0,632.0 181.0,631.5 182.0,630.9 183.0,630.4 184.0,629.8 185.0,629.1 186.0,628.4 187.0,627.7 188.0,626.8 189.0,625.9 190.0,624.9 191.0,623.9 192.0,622.8 193.0,621.6 194.0,620.1 195.0,618.3 196.0,616.4 197.0,614.5 198.0,612.6 199.0,610.9 200.0,609.2 201.0,607.6 202.0,606.0 203.0,604.6 204.0,603.3 205.0,602.0 206.0,600.8 207.0,599.5 208.0,598.2 209.0,596.8 210.0,595.4 211.0,594.1 212.0,592.9 213.0,591.8 214.0,590.6 215.0,589.4 216.0,588.2 217.0,587.1 218.0,586.2 219.0,585.5 220.0,585.2 221.0,585.3 222.0,585.7 223.0,586.3 224.0,587.0 225.0,587.9 226.0,588.7 227.0,589.5 228.0,590.1 229.0,590.6 230.0,591.0 231.0,591.5 232.0,591.9 233.0,592.4 234.0,592.9 235.0,593.5 236.0,594.2 237.0,594.9 238.0,595.8 239.0,597.0 240.0,599.0 241.0,601.3 242.0,603.6 243.0,605.6 244.0,607.4 245.0,609.2 246.0,610.9 247.0,612.3 248.0,613.6 249.0,614.8 250.0,615.9 251.0,616.9 252.0,617.9 253.0,618.8 254.0,619.7 255.0,620.5 256.0,621.3 257.0,622.0 258.0,622.7 259.0,623.3 260.0,623.9 261.0,624.5 262.0,625.1 263.0,625.6 264.0,626.1 265.0,626.6 266.0,627.0 267.0,627.5 268.0,627.9 269.0,628.3 270.0,628.7 271.0,629.1 272.0,629.5 273.0,629.8 274.0,630.2 275.0,630.5 276.0,630.9 277.0,631.2 278.0,631.6 279.0,631.9 280.0,632.2 281.0,632.6 282.0,632.8 283.0,633.1 284.0,633.3 285.0,633.5 286.0,633.7 287.0,633.9 288.0,634.1 289.0,634.2 290.0,634.4 291.0,634.5 292.0,634.7 293.0,634.8 294.0,634.9 295.0,635.0 296.0,635.1 297.0,635.2 298.0,635.2 299.0,635.3 300.0,635.3 300.0,635.3Z" fill="rgba(255,25,255,0.400)" stroke="#111" stroke-width="0.95" stroke-linejoin="round"/>
<path d="M150.0,635.3L150.0,635.3 151.0,635.3 152.0,635.2 153.0,635.2 154.0,635.1 155.0,635.1 156.0,635.0 157.0,634.9 158.0,634.9 159.0,634.8 160.0,634.7 161.0,634.5 162.0,634.4 163.0,634.2 164.0,633.8 165.0,633.4 166.0,633.0 167.0,632.4 168.0,631.9 169.0,631.3 170.0,630.8 171.0,630.2 172.0,629.6 173.0,629.0 174.0,628.3 175.0,627.6 176.0,626.9 177.0,626.1 178.0,625.4 179.0,624.7 180.0,624.0 181.0,623.2 182.0,622.5 183.0,621.8 184.0,621.0 185.0,620.3 186.0,619.5 187.0,618.7 188.0,618.0 189.0,617.2 190.0,616.3 191.0,615.5 192.0,614.6 193.0,613.8 194.0,612.9 195.0,612.0 196.0,611.1 197.0,610.1 198.0,609.1 199.0,608.1 200.0,607.1 201.0,606.1 202.0,605.1 203.0,604.0 204.0,602.9 205.0,602.1 206.0,601.6 207.0,601.6 208.0,601.7 209.0,601.9 210.0,602.2 211.0,602.4 212.0,602.6 213.0,602.7 214.0,602.8 215.0,602.8 216.0,602.8 217.0,602.8 218.0,602.7 219.0,602.7 220.0,602.7 221.0,602.7 222.0,602.7 223.0,602.8 224.0,603.0 225.0,603.3 226.0,603.6 227.0,604.0 228.0,604.4 229.0,604.8 230.0,605.2 231.0,605.6 232.0,606.0 233.0,606.4 234.0,606.8 235.0,607.2 236.0,607.7 237.0,608.2 238.0,608.7 239.0,609.2 240.0,609.8 241.0,610.3 242.0,610.9 243.0,611.6 244.0,612.2 245.0,613.0 246.0,613.8 247.0,614.6 248.0,615.5 249.0,616.4 250.0,617.2 251.0,618.1 252.0,618.8 253.0,619.6 254.0,620.3 255.0,621.0 256.0,621.6 257.0,622.3 258.0,622.9 259.0,623.5 260.0,624.1 261.0,624.7 262.0,625.3 263.0,625.8 264.0,626.3 265.0,626.8 266.0,627.3 267.0,627.7 268.0,628.2 269.0,628.6 270.0,629.1 271.0,629.5 272.0,629.8 273.0,630.2 274.0,630.5 275.0,630.8 276.0,631.1 277.0,631.3 278.0,631.6 279.0,631.8 280.0,632.0 281.0,632.3 282.0,632.5 283.0,632.7 284.0,632.8 285.0,633.0 286.0,633.2 287.0,633.4 288.0,633.5 289.0,633.7 290.0,633.8 291.0,633.9 292.0,634.1 293.0,634.2 294.0,634.3 295.0,634.4 296.0,634.5 297.0,634.7 298.0,634.8 299.0,634.9 300.0,634.9 301.0,635.0 302.0,635.1 303.0,635.2 304.0,635.2 305.0,635.3 305.0,635.3Z" fill="rgba(255,255,38,0.400)" stroke="#111" stroke-width="0.95" stroke-linejoin="round"/>
<path d="M225.0,635.3L225.0,635.3 226.0,635.3 227.0,635.3 228.0,635.2 229.0,635.1 230.0,635.0 231.0,634.9 232.0,634.8 233.0,634.6 234.0,634.2 235.0,633.7 236.0,633.1 237.0,632.5 238.0,631.8 239.0,631.0 240.0,630.3 241.0,629.5 242.0,628.6 243.0,627.7 244.0,626.7 245.0,625.6 246.0,624.5 247.0,623.3 248.0,622.2 249.0,621.0 250.0,619.8 251.0,618.6 252.0,617.4 253.0,616.1 254.0,614.8 255.0,613.4 256.0,612.1 257.0,610.8 258.0,609.4 259.0,608.0 260.0,606.7 261.0,605.4 262.0,604.0 263.0,602.7 264.0,601.3 265.0,600.0 266.0,598.6 267.0,597.2 268.0,595.8 269.0,594.3 270.0,592.8 271.0,591.2 272.0,589.4 273.0,587.6 274.0,586.0 275.0,584.9 276.0,584.0 277.0,583.3 278.0,582.7 279.0,582.1 280.0,581.4 281.0,580.5 282.0,579.3 283.0,577.9 284.0,576.3 285.0,574.7 286.0,573.3 287.0,572.2 288.0,571.5 289.0,571.0 290.0,571.0 291.0,571.6 292.0,572.9 293.0,574.6 294.0,576.7 295.0,580.5 296.0,586.0 297.0,592.2 298.0,598.1 299.0,603.5 300.0,609.1 301.0,614.4 302.0,618.8 303.0,622.2 304.0,625.1 305.0,627.6 306.0,629.7 307.0,631.2 308.0,632.5 309.0,633.6 310.0,634.4 311.0,634.8 312.0,635.0 313.0,635.1 314.0,635.2 315.0,635.2 316.0,635.3 317.0,635.3 317.3,635.3 317.3,635.3Z" fill="rgba(105,200,80,0.400)" stroke="#111" stroke-width="0.95" stroke-linejoin="round"/>
<path d="M212.0,635.3L212.0,635.3 213.0,635.3 214.0,635.2 215.0,635.2 216.0,635.1 217.0,635.0 218.0,634.9 219.0,634.7 220.0,634.4 221.0,633.7 222.0,632.6 223.0,631.2 224.0,629.7 225.0,628.1 226.0,626.5 227.0,625.0 228.0,623.7 229.0,622.5 230.0,621.3 231.0,620.2 232.0,619.0 233.0,617.8 234.0,616.7 235.0,615.5 236.0,614.3 237.0,613.1 238.0,611.8 239.0,610.5 240.0,609.1 241.0,607.5 242.0,606.1 243.0,604.7 244.0,603.5 245.0,602.5 246.0,601.7 247.0,600.9 248.0,600.2 249.0,599.7 250.0,599.5 251.0,599.6 252.0,599.7 253.0,600.0 254.0,600.2 255.0,600.4 256.0,600.6 257.0,600.6 258.0,600.4 259.0,600.0 260.0,599.5 261.0,599.0 262.0,598.4 263.0,597.4 264.0,596.1 265.0,594.6 266.0,593.0 267.0,591.5 268.0,590.2 269.0,589.1 270.0,587.9 271.0,586.8 272.0,585.9 273.0,585.4 274.0,585.3 275.0,585.8 276.0,586.8 277.0,588.1 278.0,589.6 279.0,591.2 280.0,592.8 281.0,594.3 282.0,595.8 283.0,597.4 284.0,599.1 285.0,600.9 286.0,602.7 287.0,604.5 288.0,606.3 289.0,608.1 290.0,609.9 291.0,611.7 292.0,613.7 293.0,615.6 294.0,617.5 295.0,619.3 296.0,621.1 297.0,622.7 298.0,624.1 299.0,625.3 300.0,626.5 301.0,627.7 302.0,628.8 303.0,629.8 304.0,630.7 305.0,631.6 306.0,632.3 307.0,633.0 308.0,633.5 309.0,634.1 310.0,634.6 311.0,635.0 312.0,635.3 312.0,635.3Z" fill="rgba(255,3,3,0.440)" stroke="#111" stroke-width="0.95" stroke-linejoin="round"/>
<rect x="41.00" y="528.50" width="308.50" height="111.00" fill="none" stroke="#222" stroke-width="1"/>
<line x1="35.50" y1="635.30" x2="41.00" y2="635.30" stroke="#222" stroke-width="1"/>
<line x1="35.50" y1="615.50" x2="41.00" y2="615.50" stroke="#222" stroke-width="1"/>
<line x1="35.50" y1="595.70" x2="41.00" y2="595.70" stroke="#222" stroke-width="1"/>
<line x1="35.50" y1="575.90" x2="41.00" y2="575.90" stroke="#222" stroke-width="1"/>
<line x1="35.50" y1="556.10" x2="41.00" y2="556.10" stroke="#222" stroke-width="1"/>
<line x1="35.50" y1="536.30" x2="41.00" y2="536.30" stroke="#222" stroke-width="1"/>
<text x="0" y="0" font-size="12.5" text-anchor="middle" transform="translate(28.8,635.30) rotate(-90)" fill="#111">0.0</text>
<text x="0" y="0" font-size="12.5" text-anchor="middle" transform="translate(28.8,595.70) rotate(-90)" fill="#111">1.0</text>
<text x="0" y="0" font-size="12.5" text-anchor="middle" transform="translate(28.8,556.10) rotate(-90)" fill="#111">2.0</text>
<line x1="61.50" y1="639.50" x2="61.50" y2="645.00" stroke="#222" stroke-width="1"/>
<line x1="123.00" y1="639.50" x2="123.00" y2="645.00" stroke="#222" stroke-width="1"/>
<line x1="184.50" y1="639.50" x2="184.50" y2="645.00" stroke="#222" stroke-width="1"/>
<line x1="246.00" y1="639.50" x2="246.00" y2="645.00" stroke="#222" stroke-width="1"/>
<line x1="307.50" y1="639.50" x2="307.50" y2="645.00" stroke="#222" stroke-width="1"/>
<line x1="371.50" y1="635.30" x2="677.00" y2="635.30" stroke="#eeeeee" stroke-width="1"/>
<path d="M424.0,635.3L424.0,635.3 425.0,635.2 426.0,635.0 427.0,634.9 428.0,634.7 429.0,634.5 430.0,634.3 431.0,634.0 432.0,633.8 433.0,633.5 434.0,633.1 435.0,632.7 436.0,632.2 437.0,631.6 438.0,631.1 439.0,630.7 440.0,630.2 441.0,629.9 442.0,629.7 443.0,629.6 444.0,629.7 445.0,629.9 446.0,630.2 447.0,630.7 448.0,631.1 449.0,631.6 450.0,632.0 451.0,632.3 452.0,632.6 453.0,632.9 454.0,633.2 455.0,633.5 456.0,633.7 457.0,633.9 458.0,633.9 459.0,633.8 460.0,633.7 461.0,633.5 462.0,633.2 463.0,632.9 464.0,632.6 465.0,632.3 466.0,631.9 467.0,631.5 468.0,630.9 469.0,630.3 470.0,629.7 471.0,629.0 472.0,628.4 473.0,627.7 474.0,627.0 475.0,626.3 476.0,625.6 477.0,624.9 478.0,624.1 479.0,623.3 480.0,622.4 481.0,621.5 482.0,620.5 483.0,619.5 484.0,618.2 485.0,616.8 486.0,615.2 487.0,613.6 488.0,612.0 489.0,610.4 490.0,608.8 491.0,607.5 492.0,606.1 493.0,604.8 494.0,603.4 495.0,602.2 496.0,601.2 497.0,600.4 498.0,599.8 499.0,599.2 500.0,598.8 501.0,598.4 502.0,598.0 503.0,597.7 504.0,597.5 505.0,597.3 506.0,597.1 507.0,596.8 508.0,596.7 509.0,596.5 510.0,596.4 511.0,596.3 512.0,596.3 513.0,596.3 514.0,596.3 515.0,596.4 516.0,596.5 517.0,596.5 518.0,596.6 519.0,596.6 520.0,596.7 521.0,596.8 522.0,596.8 523.0,596.8 524.0,596.7 525.0,596.6 526.0,596.4 527.0,596.2 528.0,596.0 529.0,595.9 530.0,595.8 531.0,595.9 532.0,596.1 533.0,596.4 534.0,596.9 535.0,597.3 536.0,597.8 537.0,598.4 538.0,599.2 539.0,600.1 540.0,601.1 541.0,602.2 542.0,603.3 543.0,604.3 544.0,605.3 545.0,606.4 546.0,607.6 547.0,608.7 548.0,609.9 549.0,611.0 550.0,612.2 551.0,613.2 552.0,614.3 553.0,615.4 554.0,616.4 555.0,617.5 556.0,618.4 557.0,619.3 558.0,620.1 559.0,620.9 560.0,621.6 561.0,622.3 562.0,622.9 563.0,623.5 564.0,624.0 565.0,624.4 566.0,624.8 567.0,625.0 568.0,625.3 569.0,625.5 570.0,625.8 571.0,626.0 572.0,626.2 573.0,626.5 574.0,626.8 575.0,627.1 576.0,627.4 577.0,627.8 578.0,628.1 579.0,628.5 580.0,628.9 581.0,629.3 582.0,629.7 583.0,630.1 584.0,630.5 585.0,631.0 586.0,631.4 587.0,631.9 588.0,632.4 589.0,632.8 590.0,633.1 591.0,633.4 592.0,633.6 593.0,633.8 594.0,634.0 595.0,634.2 596.0,634.3 597.0,634.5 598.0,634.6 599.0,634.7 600.0,634.8 601.0,634.9 602.0,634.9 603.0,635.0 604.0,635.1 605.0,635.1 606.0,635.2 607.0,635.2 608.0,635.3 609.0,635.3 610.0,635.3 610.0,635.3Z" fill="rgba(135,32,225,0.400)" stroke="#111" stroke-width="0.95" stroke-linejoin="round"/>
<path d="M450.0,635.3L450.0,635.3 451.0,635.3 452.0,635.3 453.0,635.3 454.0,635.2 455.0,635.2 456.0,635.2 457.0,635.1 458.0,635.1 459.0,635.0 460.0,635.0 461.0,634.9 462.0,634.9 463.0,634.8 464.0,634.7 465.0,634.7 466.0,634.6 467.0,634.5 468.0,634.4 469.0,634.4 470.0,634.3 471.0,634.2 472.0,634.1 473.0,634.0 474.0,633.9 475.0,633.8 476.0,633.7 477.0,633.6 478.0,633.4 479.0,633.3 480.0,633.2 481.0,633.0 482.0,632.8 483.0,632.7 484.0,632.5 485.0,632.3 486.0,632.1 487.0,631.9 488.0,631.6 489.0,631.4 490.0,631.1 491.0,630.8 492.0,630.5 493.0,630.1 494.0,629.8 495.0,629.4 496.0,629.0 497.0,628.6 498.0,628.2 499.0,627.7 500.0,627.3 501.0,626.8 502.0,626.3 503.0,625.8 504.0,625.2 505.0,624.6 506.0,624.0 507.0,623.3 508.0,622.6 509.0,621.8 510.0,621.0 511.0,620.2 512.0,619.3 513.0,618.3 514.0,617.2 515.0,616.0 516.0,614.6 517.0,613.2 518.0,611.6 519.0,610.0 520.0,608.3 521.0,606.2 522.0,603.8 523.0,601.4 524.0,599.3 525.0,597.3 526.0,595.4 527.0,593.9 528.0,593.3 529.0,593.3 530.0,593.4 531.0,593.5 532.0,593.6 533.0,593.8 534.0,594.1 535.0,594.5 536.0,595.0 537.0,595.5 538.0,596.0 539.0,596.5 540.0,597.1 541.0,597.7 542.0,598.2 543.0,598.7 544.0,598.9 545.0,599.1 546.0,599.2 547.0,599.3 548.0,599.4 549.0,599.5 550.0,599.6 551.0,599.8 552.0,600.0 553.0,600.2 554.0,600.8 555.0,601.9 556.0,603.2 557.0,604.7 558.0,606.2 559.0,607.6 560.0,608.9 561.0,610.3 562.0,611.8 563.0,613.2 564.0,614.6 565.0,615.9 566.0,617.2 567.0,618.6 568.0,619.9 569.0,621.1 570.0,622.1 571.0,622.7 572.0,623.3 573.0,623.7 574.0,624.1 575.0,624.4 576.0,624.7 577.0,625.1 578.0,625.3 579.0,625.6 580.0,625.8 581.0,626.0 582.0,626.2 583.0,626.4 584.0,626.7 585.0,627.0 586.0,627.3 587.0,627.8 588.0,628.5 589.0,629.3 590.0,630.1 591.0,630.9 592.0,631.5 593.0,632.0 594.0,632.5 595.0,632.9 596.0,633.2 597.0,633.6 598.0,633.9 599.0,634.1 600.0,634.3 601.0,634.5 602.0,634.6 603.0,634.7 604.0,634.9 605.0,635.0 606.0,635.1 607.0,635.2 608.0,635.2 609.0,635.3 610.0,635.3 610.0,635.3Z" fill="rgba(232,118,232,0.400)" stroke="#111" stroke-width="0.95" stroke-linejoin="round"/>
<path d="M455.0,635.3L455.0,635.3 456.0,635.3 457.0,635.2 458.0,635.1 459.0,635.0 460.0,634.9 461.0,634.8 462.0,634.7 463.0,634.5 464.0,634.4 465.0,634.2 466.0,634.0 467.0,633.9 468.0,633.7 469.0,633.5 470.0,633.3 471.0,633.1 472.0,632.9 473.0,632.6 474.0,632.3 475.0,632.0 476.0,631.7 477.0,631.4 478.0,631.0 479.0,630.6 480.0,630.3 481.0,629.9 482.0,629.5 483.0,629.1 484.0,628.7 485.0,628.3 486.0,627.9 487.0,627.5 488.0,627.1 489.0,626.7 490.0,626.3 491.0,625.8 492.0,625.4 493.0,624.9 494.0,624.5 495.0,624.0 496.0,623.5 497.0,623.0 498.0,622.5 499.0,621.9 500.0,621.4 501.0,620.8 502.0,620.2 503.0,619.6 504.0,619.0 505.0,618.3 506.0,617.6 507.0,616.9 508.0,616.1 509.0,615.3 510.0,614.4 511.0,613.6 512.0,612.7 513.0,611.8 514.0,610.8 515.0,609.9 516.0,608.9 517.0,607.9 518.0,606.8 519.0,605.6 520.0,604.3 521.0,603.1 522.0,601.8 523.0,600.6 524.0,599.4 525.0,598.3 526.0,597.2 527.0,595.9 528.0,594.8 529.0,593.8 530.0,593.2 531.0,593.1 532.0,593.3 533.0,593.7 534.0,594.2 535.0,594.8 536.0,595.5 537.0,596.3 538.0,597.0 539.0,598.0 540.0,599.2 541.0,600.5 542.0,601.8 543.0,603.1 544.0,604.3 545.0,605.5 546.0,606.7 547.0,607.9 548.0,609.1 549.0,610.2 550.0,611.3 551.0,612.4 552.0,613.5 553.0,614.6 554.0,615.6 555.0,616.7 556.0,617.6 557.0,618.5 558.0,619.3 559.0,620.1 560.0,620.9 561.0,621.6 562.0,622.3 563.0,622.9 564.0,623.4 565.0,623.8 566.0,624.1 567.0,624.4 568.0,624.7 569.0,624.9 570.0,625.1 571.0,625.3 572.0,625.5 573.0,625.8 574.0,626.1 575.0,626.4 576.0,626.7 577.0,627.0 578.0,627.4 579.0,627.8 580.0,628.2 581.0,628.6 582.0,629.0 583.0,629.4 584.0,629.8 585.0,630.3 586.0,630.9 587.0,631.4 588.0,632.0 589.0,632.5 590.0,632.9 591.0,633.2 592.0,633.5 593.0,633.8 594.0,634.1 595.0,634.3 596.0,634.5 597.0,634.7 598.0,634.8 599.0,634.9 600.0,635.0 601.0,635.1 602.0,635.2 603.0,635.2 604.0,635.3 605.0,635.3 605.0,635.3Z" fill="rgba(82,125,180,0.400)" stroke="#111" stroke-width="0.95" stroke-linejoin="round"/>
<path d="M480.0,635.3L480.0,635.3 481.0,635.3 482.0,635.3 483.0,635.3 484.0,635.3 485.0,635.3 486.0,635.2 487.0,635.2 488.0,635.2 489.0,635.2 490.0,635.2 491.0,635.1 492.0,635.1 493.0,635.1 494.0,635.0 495.0,635.0 496.0,635.0 497.0,634.9 498.0,634.9 499.0,634.8 500.0,634.8 501.0,634.8 502.0,634.7 503.0,634.7 504.0,634.6 505.0,634.5 506.0,634.4 507.0,634.4 508.0,634.3 509.0,634.2 510.0,634.1 511.0,633.9 512.0,633.8 513.0,633.7 514.0,633.4 515.0,633.2 516.0,632.9 517.0,632.5 518.0,632.1 519.0,631.7 520.0,631.3 521.0,630.8 522.0,630.3 523.0,629.7 524.0,629.0 525.0,628.2 526.0,627.4 527.0,626.6 528.0,625.6 529.0,624.5 530.0,623.2 531.0,621.9 532.0,620.3 533.0,618.7 534.0,617.0 535.0,615.3 536.0,613.5 537.0,611.6 538.0,609.5 539.0,607.2 540.0,604.8 541.0,602.0 542.0,598.6 543.0,594.8 544.0,591.1 545.0,588.0 546.0,585.7 547.0,583.8 548.0,582.1 549.0,580.6 550.0,579.3 551.0,577.9 552.0,576.5 553.0,575.2 554.0,574.0 555.0,573.0 556.0,572.4 557.0,572.0 558.0,572.1 559.0,572.7 560.0,573.6 561.0,574.9 562.0,576.3 563.0,577.8 564.0,580.1 565.0,583.2 566.0,586.7 567.0,590.1 568.0,593.6 569.0,597.3 570.0,601.1 571.0,604.5 572.0,607.2 573.0,609.7 574.0,611.9 575.0,613.8 576.0,615.1 577.0,616.0 578.0,616.7 579.0,617.3 580.0,617.8 581.0,618.4 582.0,619.0 583.0,619.7 584.0,620.7 585.0,621.8 586.0,622.9 587.0,624.0 588.0,625.0 589.0,625.9 590.0,626.6 591.0,627.2 592.0,627.8 593.0,628.4 594.0,628.9 595.0,629.4 596.0,629.9 597.0,630.3 598.0,630.7 599.0,631.1 600.0,631.5 601.0,631.8 602.0,632.2 603.0,632.5 604.0,632.9 605.0,633.2 606.0,633.5 607.0,633.7 608.0,634.0 609.0,634.2 610.0,634.3 611.0,634.5 612.0,634.6 613.0,634.6 614.0,634.7 615.0,634.8 616.0,634.9 617.0,634.9 618.0,635.0 619.0,635.1 620.0,635.1 621.0,635.2 622.0,635.2 623.0,635.2 624.0,635.3 625.0,635.3 626.0,635.3 626.8,635.3 626.8,635.3Z" fill="rgba(168,168,168,0.400)" stroke="#111" stroke-width="0.95" stroke-linejoin="round"/>
<path d="M450.0,635.3L450.0,635.3 451.0,635.3 452.0,635.3 453.0,635.2 454.0,635.1 455.0,635.0 456.0,634.9 457.0,634.8 458.0,634.6 459.0,634.5 460.0,634.3 461.0,634.1 462.0,633.9 463.0,633.7 464.0,633.5 465.0,633.3 466.0,633.1 467.0,632.8 468.0,632.5 469.0,632.2 470.0,631.8 471.0,631.4 472.0,630.9 473.0,630.4 474.0,629.9 475.0,629.3 476.0,628.6 477.0,627.7 478.0,626.6 479.0,625.4 480.0,624.1 481.0,622.7 482.0,621.3 483.0,620.0 484.0,618.7 485.0,617.5 486.0,616.5 487.0,615.6 488.0,614.9 489.0,614.2 490.0,613.6 491.0,613.0 492.0,612.5 493.0,611.9 494.0,611.4 495.0,610.9 496.0,610.3 497.0,609.8 498.0,609.2 499.0,608.7 500.0,608.1 501.0,607.5 502.0,607.0 503.0,606.5 504.0,605.9 505.0,605.3 506.0,604.6 507.0,603.8 508.0,602.7 509.0,601.3 510.0,599.6 511.0,597.9 512.0,596.4 513.0,595.2 514.0,593.9 515.0,592.6 516.0,591.5 517.0,590.4 518.0,589.6 519.0,589.1 520.0,589.0 521.0,589.1 522.0,589.4 523.0,589.8 524.0,590.2 525.0,590.7 526.0,591.1 527.0,591.5 528.0,592.0 529.0,592.6 530.0,593.3 531.0,594.1 532.0,595.0 533.0,596.6 534.0,598.8 535.0,601.1 536.0,603.3 537.0,605.3 538.0,607.2 539.0,609.1 540.0,610.8 541.0,612.5 542.0,614.1 543.0,615.6 544.0,617.0 545.0,618.3 546.0,619.4 547.0,620.4 548.0,621.3 549.0,622.2 550.0,623.1 551.0,624.1 552.0,625.2 553.0,626.3 554.0,627.4 555.0,628.5 556.0,629.5 557.0,630.5 558.0,631.3 559.0,632.0 560.0,632.6 561.0,633.2 562.0,633.8 563.0,634.2 564.0,634.6 565.0,634.8 566.0,634.9 567.0,635.0 568.0,635.1 569.0,635.2 570.0,635.3 571.0,635.3 572.0,635.3 572.0,635.3Z" fill="rgba(0,255,255,0.310)" stroke="#111" stroke-width="0.95" stroke-linejoin="round"/>
<rect x="370.00" y="528.50" width="308.50" height="111.00" fill="none" stroke="#222" stroke-width="1"/>
<line x1="364.50" y1="635.30" x2="370.00" y2="635.30" stroke="#222" stroke-width="1"/>
<line x1="364.50" y1="615.50" x2="370.00" y2="615.50" stroke="#222" stroke-width="1"/>
<line x1="364.50" y1="595.70" x2="370.00" y2="595.70" stroke="#222" stroke-width="1"/>
<line x1="364.50" y1="575.90" x2="370.00" y2="575.90" stroke="#222" stroke-width="1"/>
<line x1="364.50" y1="556.10" x2="370.00" y2="556.10" stroke="#222" stroke-width="1"/>
<line x1="364.50" y1="536.30" x2="370.00" y2="536.30" stroke="#222" stroke-width="1"/>
<line x1="387.00" y1="639.50" x2="387.00" y2="645.00" stroke="#222" stroke-width="1"/>
<line x1="443.00" y1="639.50" x2="443.00" y2="645.00" stroke="#222" stroke-width="1"/>
<line x1="499.00" y1="639.50" x2="499.00" y2="645.00" stroke="#222" stroke-width="1"/>
<line x1="555.00" y1="639.50" x2="555.00" y2="645.00" stroke="#222" stroke-width="1"/>
<line x1="611.00" y1="639.50" x2="611.00" y2="645.00" stroke="#222" stroke-width="1"/>
<line x1="667.00" y1="639.50" x2="667.00" y2="645.00" stroke="#222" stroke-width="1"/>
<g stroke="rgba(120,90,40,0.65)" stroke-width="3.6" stroke-linecap="round"><line x1="209.40" y1="532.80" x2="209.40" y2="552.60"/><line x1="205.40" y1="545.50" x2="209.40" y2="552.60"/><line x1="213.40" y1="545.50" x2="209.40" y2="552.60"/></g>
<g stroke="rgba(255,0,255,0.6)" stroke-width="3.6" stroke-linecap="round"><line x1="222.00" y1="532.80" x2="222.00" y2="552.60"/><line x1="218.00" y1="545.50" x2="222.00" y2="552.60"/><line x1="226.00" y1="545.50" x2="222.00" y2="552.60"/></g>
<g stroke="rgba(255,255,0,0.65)" stroke-width="3.6" stroke-linecap="round"><line x1="222.60" y1="532.80" x2="222.60" y2="552.60"/><line x1="218.60" y1="545.50" x2="222.60" y2="552.60"/><line x1="226.60" y1="545.50" x2="222.60" y2="552.60"/></g>
<g stroke="rgba(60,180,60,0.55)" stroke-width="3.6" stroke-linecap="round"><line x1="278.20" y1="532.80" x2="278.20" y2="552.60"/><line x1="274.20" y1="545.50" x2="278.20" y2="552.60"/><line x1="282.20" y1="545.50" x2="278.20" y2="552.60"/></g>
<g stroke="rgba(255,0,0,0.65)" stroke-width="3.6" stroke-linecap="round"><line x1="264.80" y1="532.80" x2="264.80" y2="552.60"/><line x1="260.80" y1="545.50" x2="264.80" y2="552.60"/><line x1="268.80" y1="545.50" x2="264.80" y2="552.60"/></g>
<g stroke="rgba(140,30,220,0.65)" stroke-width="3.6" stroke-linecap="round"><line x1="511.20" y1="532.80" x2="511.20" y2="552.60"/><line x1="507.20" y1="545.50" x2="511.20" y2="552.60"/><line x1="515.20" y1="545.50" x2="511.20" y2="552.60"/></g>
<g stroke="rgba(230,90,230,0.55)" stroke-width="3.6" stroke-linecap="round"><line x1="541.00" y1="532.80" x2="541.00" y2="552.60"/><line x1="537.00" y1="545.50" x2="541.00" y2="552.60"/><line x1="545.00" y1="545.50" x2="541.00" y2="552.60"/></g>
<g stroke="rgba(50,100,160,0.55)" stroke-width="3.6" stroke-linecap="round"><line x1="536.30" y1="532.80" x2="536.30" y2="552.60"/><line x1="532.30" y1="545.50" x2="536.30" y2="552.60"/><line x1="540.30" y1="545.50" x2="536.30" y2="552.60"/></g>
<g stroke="rgba(140,140,140,0.6)" stroke-width="3.6" stroke-linecap="round"><line x1="557.20" y1="532.80" x2="557.20" y2="552.60"/><line x1="553.20" y1="545.50" x2="557.20" y2="552.60"/><line x1="561.20" y1="545.50" x2="557.20" y2="552.60"/></g>
<g stroke="rgba(0,240,255,0.6)" stroke-width="3.6" stroke-linecap="round"><line x1="516.70" y1="532.80" x2="516.70" y2="552.60"/><line x1="512.70" y1="545.50" x2="516.70" y2="552.60"/><line x1="520.70" y1="545.50" x2="516.70" y2="552.60"/></g>
<text x="54.5" y="545.50" font-size="12.75" font-weight="bold" fill="#000">Regime 5</text>
<text x="123.00" y="658.3" font-size="12.5" text-anchor="middle" fill="#111">0</text>
<text x="184.50" y="658.3" font-size="12.5" text-anchor="middle" fill="#111">1</text>
<text x="246.00" y="658.3" font-size="12.5" text-anchor="middle" fill="#111">16</text>
<text x="307.50" y="658.3" font-size="12.5" text-anchor="middle" fill="#111">81</text>
<text x="443.00" y="658.3" font-size="12.5" text-anchor="middle" fill="#111">0</text>
<text x="499.00" y="658.3" font-size="12.5" text-anchor="middle" fill="#111">1</text>
<text x="555.00" y="658.3" font-size="12.5" text-anchor="middle" fill="#111">16</text>
<text x="611.00" y="658.3" font-size="12.5" text-anchor="middle" fill="#111">81</text>
<rect x="47.20" y="26.60" width="10.5" height="9.9" fill="rgb(210, 199, 176)" stroke="#222" stroke-width="0.9"/>
<rect x="47.20" y="37.10" width="10.5" height="1.6" fill="#aaa"/>
<text x="61.80" y="35.15" font-size="10.3" fill="#111">Macroalgae</text>
<rect x="47.20" y="39.03" width="10.5" height="9.9" fill="rgb(255, 163, 255)" stroke="#222" stroke-width="0.9"/>
<text x="61.80" y="47.58" font-size="10.3" fill="#111">CCA</text>
<rect x="47.20" y="51.46" width="10.5" height="9.9" fill="rgb(255, 255, 168)" stroke="#222" stroke-width="0.9"/>
<text x="61.80" y="60.01" font-size="10.3" fill="#111">Other cover</text>
<rect x="47.20" y="63.89" width="10.5" height="9.9" fill="rgb(195, 233, 185)" stroke="#222" stroke-width="0.9"/>
<rect x="47.20" y="74.39" width="10.5" height="1.6" fill="#aaa"/>
<text x="61.80" y="72.44" font-size="10.3" fill="#111">Turf</text>
<rect x="47.20" y="76.32" width="10.5" height="9.9" fill="rgb(255, 144, 144)" stroke="#222" stroke-width="0.9"/>
<text x="61.80" y="84.87" font-size="10.3" fill="#111">Coral</text>
<rect x="603.80" y="26.60" width="10.5" height="9.9" fill="rgb(207, 166, 243)" stroke="#222" stroke-width="0.9"/>
<rect x="603.80" y="37.10" width="10.5" height="1.6" fill="#aaa"/>
<text x="618.50" y="35.15" font-size="10.3" fill="#111">Browsers</text>
<rect x="603.80" y="39.03" width="10.5" height="9.9" fill="rgb(246, 200, 246)" stroke="#222" stroke-width="0.9"/>
<text x="618.50" y="47.58" font-size="10.3" fill="#111">Grazers</text>
<rect x="603.80" y="51.46" width="10.5" height="9.9" fill="rgb(186, 203, 225)" stroke="#222" stroke-width="0.9"/>
<text x="618.50" y="60.01" font-size="10.3" fill="#111">Scrapers</text>
<rect x="603.80" y="63.89" width="10.5" height="9.9" fill="rgb(220, 220, 220)" stroke="#222" stroke-width="0.9"/>
<rect x="603.80" y="74.39" width="10.5" height="1.6" fill="#aaa"/>
<text x="618.50" y="72.44" font-size="10.3" fill="#111">Sec. Cons.</text>
<rect x="603.80" y="76.32" width="10.5" height="9.9" fill="rgb(176, 255, 255)" stroke="#222" stroke-width="0.9"/>
<text x="618.50" y="84.87" font-size="10.3" fill="#111">Piscivores</text>
<text x="195.3" y="675.8" font-size="16.8" text-anchor="middle" fill="#111">% Cover</text>
<text x="461.5" y="674.2" font-size="16.8" fill="#111">Biomass</text>
<text x="0" y="0" font-size="16.8" text-anchor="middle" transform="translate(13.2,320.2) rotate(-90)" fill="#111">Density</text>
<path d="M539.6,656.6 Q533.2,670 539.6,683.4" fill="none" stroke="#111" stroke-width="1.1"/>
<path d="M581.4,656.6 Q587.8,670 581.4,683.4" fill="none" stroke="#111" stroke-width="1.1"/>
<text x="540.0" y="674.2" font-size="16.8" fill="#111">g</text>
<text x="553.6" y="674.2" font-size="16.8" fill="#111">m</text>
<text x="568.2" y="665.9" font-size="11.8" fill="#111">−2</text>
</svg></body></html>
